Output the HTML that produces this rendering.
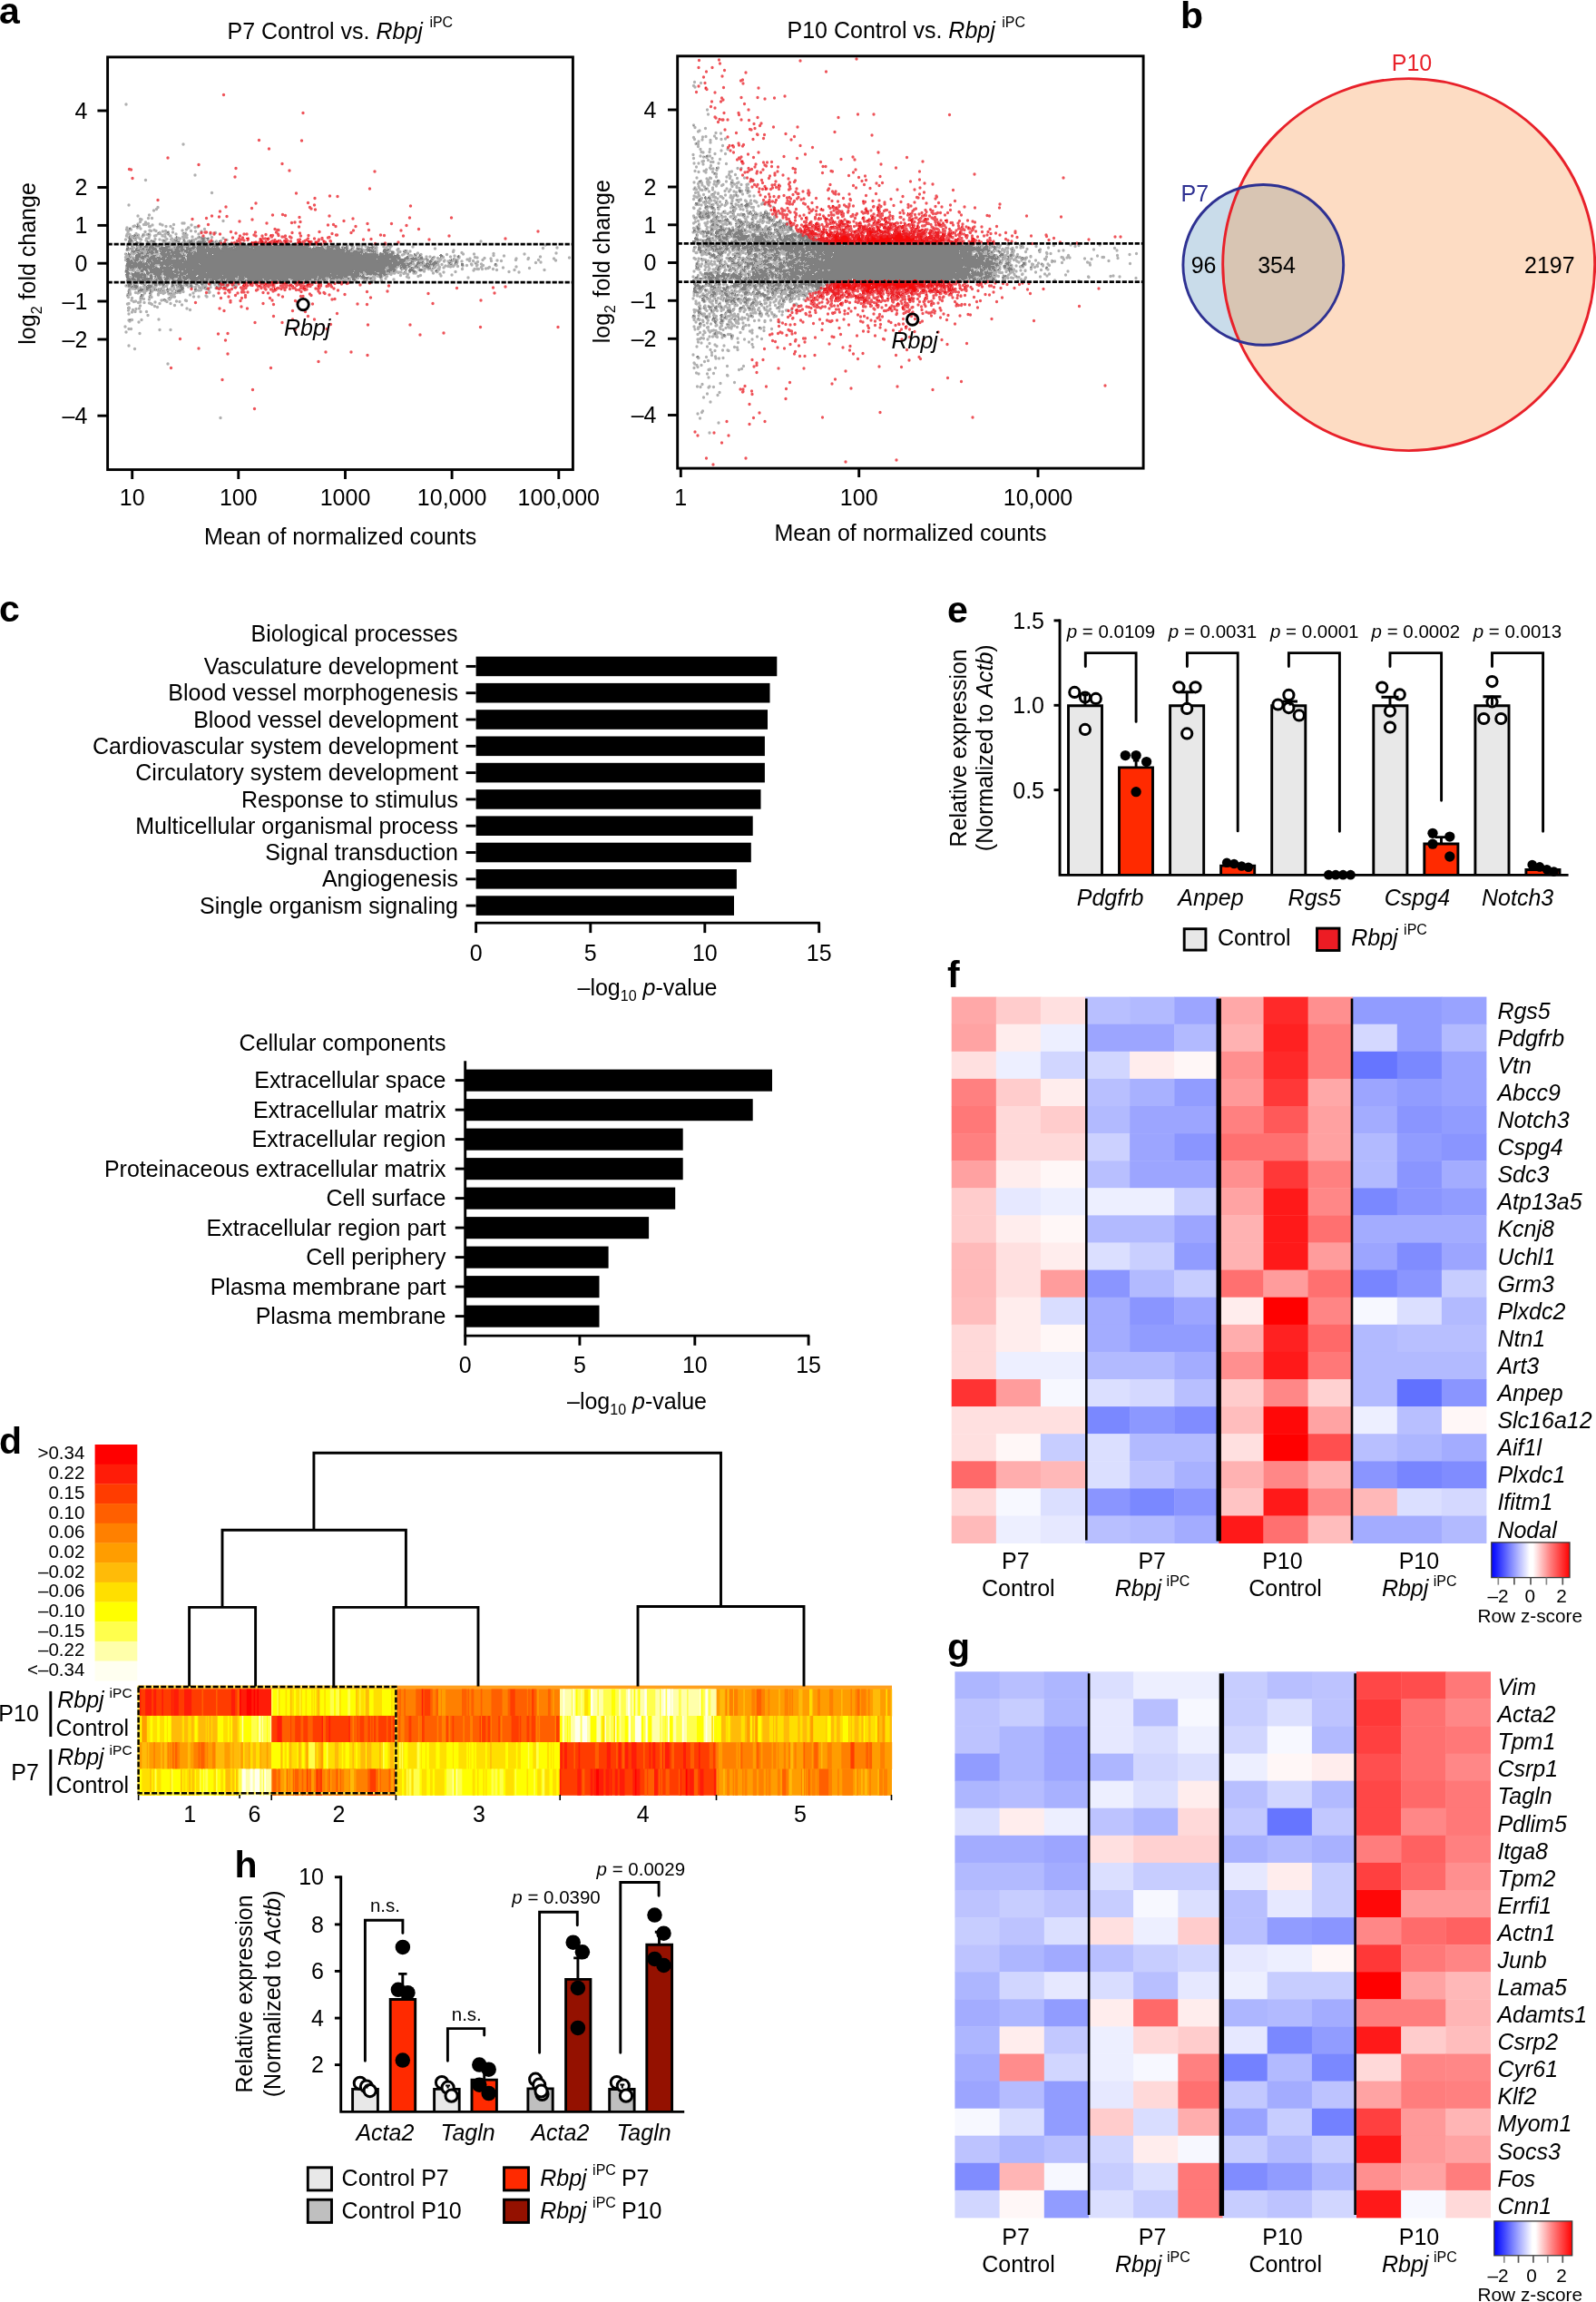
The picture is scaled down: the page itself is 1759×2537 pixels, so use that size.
<!DOCTYPE html>
<html><head><meta charset="utf-8"><title>figure</title>
<style>html,body{margin:0;padding:0;background:#fff}svg{display:block;will-change:transform}text{font-family:"Liberation Sans",sans-serif}</style></head>
<body><svg width="1759" height="2537" viewBox="0 0 1759 2537" fill="none">
<rect width="1759" height="2537" fill="#fff"/>
<g fill="#000">
<text x="-1" y="26" font-size="41" font-weight="bold" >a</text>
<path d="M151 247.5h1M151 248.5h1M150 249.5h3M151 250.5h1M142 251.5h2M142 252.5h2M184 255.5h2M174 256.5h1M184 256.5h2M202 256.5h1M163 257.5h1M186 257.5h1M204 257.5h1M148 258.5h1M157 258.5h1M163 258.5h2M185 258.5h1M146 259.5h1M148 259.5h2M151 259.5h1M157 259.5h1M142 260.5h1M147 260.5h2M194 260.5h1M219 260.5h1M142 261.5h1M194 261.5h1M219 261.5h1M221 261.5h1M142 262.5h2M147 262.5h1M149 262.5h1M194 262.5h1M222 262.5h4M227 262.5h3M142 263.5h3M222 263.5h3M228 263.5h2M142 264.5h4M180 264.5h1M192 264.5h1M194 264.5h2M202 264.5h2M208 264.5h1M211 264.5h1M223 264.5h3M141 265.5h5M162 265.5h1M166 265.5h4M180 265.5h2M193 265.5h2M202 265.5h1M209 265.5h3M218 265.5h1M220 265.5h1M222 265.5h3M233 265.5h1M241 265.5h2M141 266.5h4M150 266.5h2M162 266.5h2M168 266.5h3M195 266.5h3M203 266.5h1M208 266.5h4M217 266.5h10M233 266.5h2M237 266.5h1M141 267.5h3M149 267.5h4M162 267.5h2M208 267.5h3M212 267.5h1M217 267.5h9M227 267.5h1M240 267.5h2M244 267.5h1M266 267.5h3M314 267.5h2M342 267.5h1M141 268.5h2M144 268.5h1M149 268.5h4M155 268.5h1M172 268.5h2M188 268.5h3M195 268.5h1M199 268.5h2M202 268.5h5M208 268.5h3M213 268.5h2M218 268.5h10M237 268.5h4M244 268.5h2M264 268.5h6M274 268.5h4M294 268.5h1M296 268.5h1M310 268.5h2M314 268.5h3M332 268.5h1M342 268.5h3M348 268.5h1M140 269.5h1M142 269.5h2M150 269.5h2M153 269.5h4M162 269.5h2M170 269.5h5M188 269.5h3M192 269.5h1M200 269.5h5M206 269.5h4M213 269.5h2M218 269.5h3M223 269.5h4M230 269.5h2M236 269.5h5M243 269.5h4M249 269.5h3M256 269.5h3M261 269.5h1M264 269.5h7M272 269.5h6M281 269.5h2M289 269.5h2M292 269.5h6M302 269.5h4M309 269.5h13M325 269.5h3M330 269.5h4M338 269.5h3M342 269.5h3M348 269.5h1M351 269.5h4M371 269.5h1M386 269.5h2M411 269.5h1M150 270.5h7M160 270.5h2M166 270.5h4M171 270.5h4M188 270.5h1M190 270.5h1M196 270.5h1M199 270.5h5M205 270.5h4M212 270.5h3M218 270.5h4M223 270.5h7M231 270.5h1M236 270.5h5M243 270.5h4M248 270.5h3M257 270.5h1M259 270.5h20M280 270.5h4M287 270.5h13M302 270.5h32M337 270.5h4M353 270.5h2M361 270.5h1M369 270.5h5M386 270.5h3M409 270.5h2M140 271.5h1M145 271.5h1M150 271.5h1M154 271.5h2M159 271.5h4M165 271.5h4M171 271.5h5M178 271.5h1M182 271.5h5M195 271.5h7M207 271.5h1M212 271.5h3M217 271.5h13M231 271.5h1M234 271.5h7M245 271.5h7M257 271.5h84M354 271.5h2M360 271.5h14M381 271.5h2M387 271.5h2M410 271.5h1M141 272.5h1M154 272.5h2M159 272.5h4M164 272.5h6M177 272.5h10M192 272.5h1M194 272.5h8M205 272.5h3M211 272.5h5M217 272.5h9M227 272.5h4M233 272.5h2M236 272.5h1M238 272.5h3M245 272.5h6M252 272.5h1M254 272.5h5M260 272.5h15M276 272.5h64M345 272.5h1M348 272.5h8M360 272.5h4M365 272.5h9M376 272.5h2M379 272.5h4M393 272.5h1M405 272.5h7M139 273.5h3M143 273.5h1M145 273.5h1M150 273.5h2M157 273.5h2M164 273.5h8M175 273.5h10M194 273.5h4M199 273.5h3M205 273.5h10M216 273.5h10M227 273.5h15M244 273.5h13M258 273.5h21M280 273.5h63M344 273.5h13M360 273.5h8M369 273.5h6M377 273.5h1M379 273.5h5M387 273.5h2M393 273.5h4M405 273.5h1M407 273.5h1M409 273.5h2M413 273.5h1M139 274.5h3M149 274.5h2M154 274.5h1M156 274.5h3M161 274.5h5M167 274.5h6M175 274.5h13M189 274.5h1M192 274.5h5M198 274.5h5M205 274.5h9M217 274.5h26M244 274.5h114M360 274.5h7M370 274.5h10M381 274.5h2M387 274.5h1M393 274.5h3M397 274.5h2M404 274.5h4M410 274.5h1M423 274.5h2M427 274.5h2M139 275.5h2M145 275.5h1M149 275.5h5M156 275.5h1M158 275.5h1M161 275.5h1M163 275.5h4M168 275.5h5M176 275.5h14M193 275.5h5M199 275.5h12M217 275.5h163M381 275.5h3M385 275.5h3M394 275.5h3M398 275.5h2M403 275.5h1M405 275.5h5M411 275.5h1M422 275.5h7M446 275.5h1M145 276.5h1M147 276.5h7M162 276.5h3M166 276.5h3M171 276.5h3M176 276.5h1M178 276.5h13M192 276.5h10M203 276.5h4M208 276.5h4M217 276.5h164M382 276.5h4M390 276.5h4M397 276.5h3M404 276.5h8M413 276.5h1M422 276.5h6M446 276.5h2M145 277.5h4M154 277.5h1M156 277.5h1M162 277.5h1M164 277.5h5M171 277.5h3M176 277.5h7M184 277.5h3M188 277.5h11M200 277.5h1M203 277.5h7M213 277.5h3M217 277.5h163M381 277.5h5M389 277.5h11M407 277.5h1M409 277.5h5M422 277.5h4M431 277.5h3M444 277.5h2M141 278.5h1M147 278.5h1M151 278.5h2M155 278.5h3M162 278.5h8M171 278.5h3M177 278.5h5M184 278.5h14M205 278.5h8M214 278.5h14M229 278.5h171M402 278.5h2M411 278.5h1M413 278.5h1M419 278.5h1M423 278.5h5M431 278.5h3M446 278.5h1M139 279.5h1M141 279.5h2M152 279.5h6M161 279.5h3M166 279.5h3M176 279.5h12M189 279.5h10M202 279.5h1M207 279.5h5M213 279.5h15M229 279.5h168M398 279.5h1M400 279.5h15M418 279.5h5M424 279.5h4M429 279.5h5M450 279.5h1M456 279.5h1M141 280.5h3M150 280.5h5M161 280.5h1M167 280.5h1M177 280.5h11M189 280.5h3M193 280.5h7M202 280.5h1M206 280.5h6M213 280.5h21M235 280.5h164M400 280.5h17M418 280.5h5M424 280.5h9M437 280.5h2M456 280.5h2M462 280.5h1M485 280.5h2M142 281.5h1M149 281.5h6M159 281.5h5M168 281.5h4M178 281.5h26M206 281.5h211M418 281.5h15M434 281.5h6M457 281.5h2M462 281.5h2M484 281.5h4M505 281.5h1M142 282.5h1M149 282.5h6M156 282.5h8M166 282.5h5M179 282.5h5M185 282.5h17M205 282.5h235M448 282.5h2M462 282.5h1M485 282.5h3M504 282.5h2M143 283.5h1M149 283.5h12M163 283.5h1M165 283.5h6M173 283.5h4M178 283.5h12M191 283.5h13M206 283.5h235M447 283.5h3M455 283.5h1M461 283.5h1M463 283.5h3M476 283.5h2M485 283.5h1M504 283.5h2M140 284.5h2M146 284.5h1M149 284.5h4M155 284.5h4M164 284.5h18M184 284.5h7M194 284.5h3M200 284.5h4M206 284.5h235M446 284.5h5M452 284.5h7M463 284.5h3M139 285.5h4M147 285.5h1M149 285.5h4M156 285.5h3M162 285.5h11M174 285.5h8M183 285.5h6M194 285.5h3M199 285.5h6M206 285.5h209M416 285.5h13M431 285.5h6M438 285.5h12M453 285.5h7M462 285.5h4M469 285.5h2M475 285.5h2M497 285.5h1M499 285.5h1M139 286.5h4M144 286.5h2M147 286.5h6M162 286.5h5M168 286.5h35M204 286.5h1M206 286.5h232M440 286.5h7M454 286.5h3M458 286.5h1M460 286.5h2M471 286.5h1M474 286.5h1M495 286.5h1M497 286.5h1M502 286.5h1M140 287.5h6M148 287.5h4M154 287.5h1M157 287.5h1M161 287.5h6M168 287.5h9M179 287.5h259M440 287.5h7M453 287.5h1M470 287.5h1M473 287.5h3M496 287.5h2M502 287.5h2M139 288.5h8M148 288.5h2M153 288.5h4M161 288.5h7M169 288.5h277M453 288.5h3M460 288.5h2M465 288.5h2M473 288.5h3M478 288.5h3M482 288.5h1M501 288.5h3M140 289.5h11M152 289.5h5M158 289.5h1M160 289.5h2M163 289.5h2M166 289.5h35M202 289.5h230M433 289.5h12M451 289.5h3M459 289.5h7M470 289.5h1M473 289.5h2M477 289.5h5M494 289.5h3M501 289.5h3M139 290.5h24M164 290.5h1M166 290.5h53M220 290.5h212M433 290.5h14M448 290.5h6M459 290.5h4M465 290.5h1M469 290.5h4M474 290.5h1M476 290.5h6M495 290.5h1M501 290.5h1M508 290.5h3M524 290.5h1M545 290.5h2M139 291.5h6M146 291.5h17M165 291.5h6M176 291.5h13M190 291.5h30M221 291.5h220M442 291.5h5M449 291.5h3M459 291.5h2M469 291.5h2M472 291.5h8M496 291.5h2M508 291.5h3M545 291.5h2M139 292.5h21M161 292.5h3M165 292.5h5M176 292.5h4M182 292.5h5M188 292.5h252M441 292.5h10M458 292.5h2M467 292.5h5M473 292.5h1M477 292.5h2M508 292.5h3M545 292.5h1M139 293.5h32M177 293.5h3M183 293.5h3M187 293.5h2M190 293.5h237M428 293.5h9M441 293.5h1M443 293.5h5M450 293.5h2M457 293.5h3M467 293.5h7M477 293.5h1M140 294.5h11M152 294.5h18M171 294.5h2M176 294.5h249M428 294.5h9M441 294.5h7M450 294.5h1M453 294.5h2M457 294.5h1M459 294.5h2M469 294.5h4M139 295.5h3M143 295.5h5M152 295.5h4M157 295.5h11M169 295.5h6M176 295.5h15M192 295.5h233M429 295.5h6M441 295.5h2M444 295.5h4M453 295.5h1M455 295.5h1M471 295.5h4M476 295.5h1M140 296.5h2M144 296.5h1M146 296.5h1M153 296.5h2M157 296.5h5M164 296.5h27M193 296.5h3M197 296.5h7M205 296.5h219M428 296.5h8M441 296.5h1M445 296.5h1M451 296.5h4M462 296.5h3M138 297.5h4M145 297.5h2M155 297.5h8M165 297.5h14M180 297.5h10M192 297.5h4M197 297.5h15M213 297.5h211M426 297.5h10M442 297.5h1M446 297.5h2M450 297.5h6M462 297.5h4M480 297.5h2M138 298.5h3M155 298.5h3M160 298.5h3M165 298.5h31M198 298.5h2M202 298.5h188M391 298.5h34M426 298.5h6M433 298.5h3M450 298.5h8M462 298.5h3M479 298.5h3M138 299.5h4M149 299.5h1M155 299.5h3M161 299.5h3M165 299.5h35M202 299.5h198M402 299.5h11M414 299.5h11M426 299.5h4M433 299.5h2M445 299.5h1M451 299.5h2M455 299.5h3M480 299.5h1M139 300.5h4M148 300.5h6M161 300.5h18M180 300.5h11M192 300.5h35M228 300.5h161M390 300.5h6M397 300.5h3M403 300.5h12M418 300.5h7M429 300.5h1M456 300.5h1M139 301.5h4M145 301.5h9M155 301.5h3M159 301.5h1M161 301.5h4M169 301.5h9M180 301.5h12M194 301.5h3M198 301.5h8M207 301.5h157M365 301.5h31M399 301.5h1M404 301.5h12M418 301.5h7M138 302.5h4M145 302.5h16M162 302.5h2M166 302.5h1M169 302.5h9M180 302.5h16M198 302.5h7M207 302.5h189M400 302.5h1M404 302.5h6M411 302.5h10M422 302.5h5M139 303.5h3M145 303.5h16M165 303.5h3M171 303.5h6M181 303.5h21M205 303.5h12M219 303.5h26M246 303.5h125M372 303.5h24M397 303.5h1M399 303.5h2M413 303.5h1M417 303.5h4M423 303.5h2M139 304.5h3M146 304.5h11M158 304.5h3M165 304.5h3M170 304.5h2M173 304.5h4M183 304.5h13M197 304.5h3M201 304.5h3M205 304.5h11M218 304.5h44M263 304.5h87M351 304.5h32M387 304.5h15M418 304.5h3M139 305.5h3M146 305.5h2M149 305.5h12M165 305.5h3M171 305.5h1M173 305.5h5M181 305.5h1M183 305.5h13M197 305.5h3M201 305.5h61M263 305.5h6M270 305.5h80M351 305.5h8M360 305.5h1M362 305.5h3M366 305.5h12M379 305.5h4M387 305.5h7M398 305.5h8M418 305.5h3M139 306.5h4M145 306.5h3M151 306.5h6M158 306.5h10M170 306.5h1M174 306.5h4M182 306.5h4M187 306.5h5M196 306.5h4M201 306.5h58M263 306.5h7M272 306.5h77M351 306.5h7M363 306.5h16M383 306.5h2M388 306.5h3M392 306.5h1M399 306.5h7M408 306.5h2M419 306.5h1M140 307.5h9M151 307.5h3M156 307.5h12M172 307.5h7M181 307.5h6M189 307.5h2M196 307.5h4M202 307.5h5M209 307.5h16M227 307.5h3M231 307.5h1M233 307.5h9M243 307.5h5M250 307.5h9M263 307.5h6M273 307.5h16M291 307.5h27M321 307.5h22M346 307.5h3M350 307.5h4M355 307.5h4M364 307.5h5M371 307.5h1M375 307.5h2M383 307.5h2M388 307.5h4M401 307.5h1M403 307.5h2M407 307.5h2M139 308.5h5M145 308.5h5M151 308.5h4M156 308.5h9M166 308.5h1M171 308.5h2M175 308.5h4M181 308.5h4M190 308.5h2M195 308.5h6M203 308.5h3M210 308.5h9M220 308.5h10M231 308.5h9M243 308.5h3M247 308.5h1M249 308.5h11M262 308.5h7M270 308.5h20M291 308.5h6M299 308.5h6M306 308.5h12M323 308.5h12M336 308.5h7M346 308.5h3M350 308.5h2M355 308.5h4M364 308.5h1M388 308.5h4M140 309.5h5M151 309.5h10M162 309.5h3M166 309.5h1M170 309.5h1M172 309.5h2M176 309.5h4M182 309.5h2M190 309.5h14M210 309.5h7M221 309.5h4M227 309.5h2M233 309.5h3M237 309.5h4M242 309.5h4M249 309.5h3M253 309.5h6M262 309.5h1M264 309.5h3M270 309.5h1M272 309.5h8M281 309.5h9M293 309.5h2M299 309.5h7M307 309.5h3M311 309.5h8M322 309.5h8M336 309.5h4M350 309.5h1M356 309.5h2M390 309.5h1M141 310.5h4M150 310.5h1M152 310.5h5M174 310.5h1M176 310.5h9M191 310.5h2M194 310.5h1M196 310.5h1M198 310.5h1M200 310.5h5M206 310.5h2M209 310.5h8M221 310.5h4M226 310.5h2M233 310.5h4M238 310.5h1M242 310.5h3M250 310.5h2M256 310.5h3M273 310.5h3M286 310.5h3M299 310.5h7M312 310.5h3M316 310.5h2M323 310.5h1M327 310.5h2M337 310.5h2M142 311.5h3M151 311.5h1M154 311.5h3M159 311.5h1M174 311.5h10M190 311.5h2M193 311.5h2M196 311.5h3M202 311.5h5M210 311.5h8M221 311.5h3M227 311.5h1M234 311.5h4M243 311.5h1M274 311.5h2M300 311.5h1M143 312.5h2M148 312.5h2M170 312.5h3M174 312.5h10M189 312.5h2M196 312.5h3M202 312.5h6M209 312.5h2M214 312.5h3M221 312.5h3M235 312.5h2M241 312.5h4M246 312.5h1M141 313.5h4M147 313.5h1M158 313.5h1M170 313.5h3M175 313.5h2M178 313.5h4M189 313.5h2M196 313.5h4M204 313.5h3M210 313.5h1M215 313.5h3M221 313.5h3M240 313.5h3M246 313.5h1M139 314.5h1M141 314.5h3M147 314.5h4M159 314.5h1M162 314.5h5M170 314.5h3M179 314.5h2M189 314.5h3M194 314.5h1M197 314.5h4M205 314.5h2M209 314.5h3M222 314.5h1M241 314.5h1M256 314.5h3M141 315.5h3M145 315.5h2M148 315.5h4M161 315.5h1M163 315.5h5M179 315.5h1M189 315.5h2M196 315.5h1M198 315.5h3M209 315.5h3M238 315.5h1M144 316.5h2M147 316.5h5M161 316.5h6M198 316.5h4M210 316.5h2M225 316.5h2M149 317.5h2M161 317.5h5M184 317.5h1M199 317.5h4M220 317.5h1M225 317.5h1M154 318.5h4M161 318.5h3M170 318.5h1M172 318.5h1M177 318.5h1M184 318.5h1M199 318.5h3M214 318.5h3M227 318.5h1M141 319.5h2M153 319.5h5M161 319.5h2M165 319.5h2M170 319.5h1M172 319.5h1M174 319.5h1M183 319.5h3M196 319.5h6M214 319.5h2M152 320.5h5M165 320.5h1M176 320.5h1M179 320.5h1M193 320.5h1M195 320.5h5M141 321.5h1M152 321.5h1M165 321.5h2M184 321.5h2M195 321.5h4M141 322.5h1M165 322.5h1M193 322.5h1M141 323.5h1M164 323.5h2M186 323.5h1M188 323.5h1M155 324.5h2M140 325.5h1M155 325.5h2M165 325.5h1M154 326.5h3M164 327.5h1M186 327.5h1M154 328.5h1M156 328.5h1M181 329.5h1M180 330.5h1M182 330.5h1M140 339.5h1M142 352.5h2" stroke="#808080" stroke-width="1" shape-rendering="crispEdges"/>
<path d="M139 115h0M202 159h0M215 193h0M160.5 198.5h0M233.5 212.5h0M142 226h0M169.5 232h0M172.5 230.5h0M174 228.5h0M152 238h0M164.5 237h0M154.5 244.5h0M154.5 241.5h0M156 242h0M160.5 245h0M163.5 240.5h0M167.5 240.5h0M201 246h0M246 243.5h0M140 251h0M143.5 252h0M147 249.5h0M148.5 249h0M151.5 250.5h0M151.5 251h0M152 247h0M152.5 250h0M153.5 249.5h0M155 252h0M158.5 247.5h0M161 247.5h0M163.5 246.5h0M164.5 249.5h0M165.5 249.5h0M168 248h0M176.5 247h0M179 248h0M183 249.5h0M188 249.5h0M191.5 247.5h0M203 246h0M207.5 251h0M208 251h0M211 248h0M215 250.5h0M218 250h0M139.5 253h0M141 256h0M141.5 254.5h0M143 253h0M144.5 253h0M150 257.5h0M160 255.5h0M165 254h0M166.5 254.5h0M170 253.5h0M172 254.5h0M174.5 257.5h0M176 256.5h0M176.5 257.5h0M179.5 255h0M182 258h0M182.5 254.5h0M184.5 256.5h0M185.5 256h0M190.5 252h0M190.5 256h0M201 254h0M202 257.5h0M204.5 257h0M205.5 253h0M210.5 254.5h0M215.5 255h0M219 258h0M222 255h0M225.5 252.5h0M232 258h0M237.5 256.5h0M139.5 260h0M140 258.5h0M142 262h0M143 258.5h0M143 263h0M144 263.5h0M144 260h0M146 261h0M147 262h0M148.5 259.5h0M148.5 263h0M148.5 260.5h0M150 262h0M150.5 260.5h0M152.5 259h0M153 262h0M154.5 263.5h0M155.5 264h0M157 260.5h0M158 258.5h0M159 259h0M161.5 263h0M162.5 258.5h0M164 262.5h0M164.5 258h0M164.5 260.5h0M165 259h0M170.5 260h0M171 263.5h0M172 259.5h0M176 264h0M179 260h0M179 259.5h0M182 261h0M184 263.5h0M185.5 258h0M187.5 260h0M188 260h0M188.5 264h0M189.5 263h0M194 262.5h0M194 258h0M195 262h0M196.5 262.5h0M198.5 263h0M201.5 261h0M202.5 263.5h0M203.5 258.5h0M204 261.5h0M206 259h0M206 262h0M212 261h0M216 263.5h0M218.5 262h0M219 262h0M221 262h0M222.5 263.5h0M223.5 262h0M225.5 262.5h0M229 263.5h0M229.5 263h0M233.5 261.5h0M246 262.5h0M138.5 264h0M142 269.5h0M142.5 266h0M142.5 268h0M143 266.5h0M143.5 269h0M144 269h0M144 264.5h0M144.5 265.5h0M145.5 266.5h0M146 266h0M147.5 269.5h0M149.5 264.5h0M151 270h0M151.5 268h0M152 268h0M154.5 267.5h0M156.5 269h0M161 265h0M162.5 267.5h0M163 267.5h0M164 267h0M164.5 269.5h0M166.5 266h0M167 270h0M167 265.5h0M168 267h0M170 267.5h0M170 267.5h0M170 266h0M172 270h0M173.5 269.5h0M174 270h0M179.5 265h0M180.5 266.5h0M181.5 269.5h0M182 265h0M182 266.5h0M185 268h0M187 267.5h0M188.5 270h0M190.5 266.5h0M192 264.5h0M192.5 267h0M193 269.5h0M194 266.5h0M194.5 265h0M197 266h0M197 268.5h0M197 268.5h0M197 266.5h0M201 268h0M203 266.5h0M203 265h0M204 266.5h0M204 269.5h0M205.5 268.5h0M206.5 270h0M207.5 266h0M208.5 270h0M208.5 267h0M211 265h0M211 267.5h0M211.5 266h0M212 268h0M213.5 264.5h0M213.5 266h0M213.5 270h0M214.5 269h0M217 267.5h0M218 267h0M219 268h0M219.5 269.5h0M220 266h0M220 266h0M222 267h0M222 269.5h0M223.5 265h0M225 264.5h0M225 267.5h0M225 264.5h0M226 266.5h0M226.5 269h0M226.5 269h0M229 268.5h0M229 264.5h0M233 268h0M233.5 266.5h0M235 266.5h0M236.5 268h0M238 269h0M238.5 266h0M240 270h0M240.5 269.5h0M241.5 269.5h0M242 267h0M243 267h0M243.5 265.5h0M245 270h0M246 269.5h0M250 264.5h0M250.5 269h0M251 269h0M256 269h0M258 269.5h0M265.5 269h0M266 269.5h0M268.5 269h0M270 270h0M274 270h0M274.5 270h0M276.5 269.5h0M316 269.5h0M316 269.5h0M334.5 269.5h0M342.5 269.5h0M344 269.5h0M344.5 269.5h0M348.5 269.5h0M350.5 270h0M352.5 269.5h0M380.5 269.5h0M398.5 269.5h0M410.5 270h0M530 266h0M140 275.5h0M140.5 271h0M140.5 275h0M141 270.5h0M141 273.5h0M141 275h0M141.5 275.5h0M142.5 274.5h0M145.5 273.5h0M145.5 275.5h0M145.5 271h0M147.5 273h0M151 271h0M151 273.5h0M151 276h0M151.5 276h0M152 273h0M152.5 270.5h0M152.5 270h0M154.5 273h0M155.5 272h0M156 271h0M156.5 274.5h0M156.5 270.5h0M158 275.5h0M159 274.5h0M159 272.5h0M161 272h0M162 273h0M162 275h0M163 270.5h0M163.5 271h0M165 275h0M165 274.5h0M166 273.5h0M166.5 273.5h0M166.5 275.5h0M167.5 272.5h0M168.5 274.5h0M169 272.5h0M169.5 270.5h0M171 274h0M171.5 271.5h0M172 273h0M172.5 271h0M173.5 272h0M174 272h0M175 271.5h0M175.5 271.5h0M176 276h0M177 275.5h0M177.5 275h0M178 272.5h0M178.5 270h0M179.5 273h0M180 273.5h0M182 274h0M182.5 274h0M185 272.5h0M185 274.5h0M185.5 273.5h0M186 272h0M187.5 272.5h0M187.5 273.5h0M189 275h0M190 270h0M190 270h0M191 273.5h0M191.5 270.5h0M192.5 274.5h0M193.5 272h0M194 273h0M196 271h0M197.5 273h0M198 275h0M198 272.5h0M200 275.5h0M200.5 271h0M201 270.5h0M202.5 275.5h0M202.5 275.5h0M202.5 270.5h0M203 271h0M203.5 272.5h0M206 270.5h0M206.5 273h0M206.5 274.5h0M207 273h0M208.5 274.5h0M209 271.5h0M209 271h0M211 274h0M211.5 275.5h0M212 273.5h0M213 272h0M213.5 271.5h0M214.5 275.5h0M215 270.5h0M215 271.5h0M216 275h0M217.5 274h0M217.5 273h0M219.5 271.5h0M220.5 271h0M222.5 273h0M224 271h0M225.5 273.5h0M226.5 275h0M227 271h0M228 271h0M228 275.5h0M228.5 273h0M231.5 271h0M232 271h0M233 273.5h0M233 270.5h0M234.5 273.5h0M236 274h0M236 274h0M236.5 271.5h0M238 273h0M239.5 274h0M241 274h0M243 272.5h0M243.5 276h0M245 270h0M245.5 270.5h0M246 275.5h0M246 274h0M246.5 271h0M248.5 272.5h0M248.5 272.5h0M251 271.5h0M251.5 271h0M251.5 274.5h0M252.5 273.5h0M254 274.5h0M254.5 271.5h0M257 273h0M257 274.5h0M258 271.5h0M258.5 274.5h0M259.5 271h0M260 275h0M260 273h0M261.5 271.5h0M262.5 271.5h0M263 271.5h0M272 271.5h0M273 272h0M276.5 273.5h0M277.5 271h0M279 270h0M280 273h0M280.5 275.5h0M280.5 272h0M281 271.5h0M282 271h0M283 271.5h0M283.5 272h0M284.5 272.5h0M286 271.5h0M287.5 272.5h0M289 270h0M290 271.5h0M291 271.5h0M292 271.5h0M294 271h0M294.5 271h0M296 271h0M296.5 270h0M297.5 270.5h0M298.5 271h0M300.5 272.5h0M301.5 272.5h0M303 271.5h0M304.5 271h0M304.5 270.5h0M307.5 271.5h0M308 271.5h0M309.5 272h0M311 270.5h0M312.5 270h0M313 271h0M317.5 270.5h0M318 270.5h0M320 271h0M321 271h0M321.5 271h0M323.5 271h0M324.5 271.5h0M328 271.5h0M330 271.5h0M331.5 271h0M333 271h0M334.5 272h0M335 271.5h0M337.5 271.5h0M338.5 271h0M340.5 270h0M341.5 274.5h0M341.5 273h0M344 275h0M345.5 275h0M346 270.5h0M347 275h0M347.5 273.5h0M348.5 271h0M348.5 274h0M350 272.5h0M354 270h0M354.5 270.5h0M355.5 273.5h0M355.5 271.5h0M355.5 273.5h0M357 275.5h0M358 271h0M359 273.5h0M361.5 273h0M362.5 272h0M362.5 272.5h0M364.5 272.5h0M365 274h0M366.5 271.5h0M367 274h0M368.5 274.5h0M368.5 272h0M369.5 271.5h0M370 274.5h0M371 271h0M371 274.5h0M373 272h0M373 271h0M373.5 273.5h0M373.5 272.5h0M377 275h0M377.5 274.5h0M378 272h0M379 273.5h0M381 274h0M381.5 274.5h0M382.5 272.5h0M382.5 274h0M383 273.5h0M383 271.5h0M383 276h0M387 275h0M387.5 271h0M388 270h0M388.5 271h0M388.5 274h0M389 275.5h0M389.5 272.5h0M393.5 274.5h0M393.5 270.5h0M394 274.5h0M395 275.5h0M395.5 274.5h0M395.5 271h0M396 275.5h0M398.5 274h0M399 271h0M400.5 275.5h0M403 271.5h0M404 275h0M405.5 272.5h0M407 275h0M407 274.5h0M409.5 274.5h0M409.5 273h0M410.5 273.5h0M411 271h0M411.5 274h0M412 272h0M413 274.5h0M415 270h0M415 276h0M415 273h0M423 272h0M423.5 276h0M426 273h0M427.5 270.5h0M428 275.5h0M429.5 275.5h0M430 272.5h0M431.5 271h0M438 275.5h0M439 274.5h0M455 272h0M479.5 274h0M598.5 273.5h0M601 270h0M614 273h0M138.5 280h0M139.5 282h0M141.5 281h0M142 282h0M142.5 280.5h0M143.5 280.5h0M145 278.5h0M147 277.5h0M147 276.5h0M147 280h0M148.5 279h0M149 279h0M150.5 276h0M150.5 277.5h0M152.5 280.5h0M152.5 278h0M153 280.5h0M153.5 276h0M154 278h0M155.5 276.5h0M156 279.5h0M156 279h0M157 280.5h0M157 281h0M157.5 279.5h0M158.5 276.5h0M159 279.5h0M160 277h0M161.5 281h0M162 279.5h0M162.5 276.5h0M163 277h0M163 281.5h0M164.5 278.5h0M164.5 279h0M165.5 280h0M165.5 277.5h0M167 278h0M167.5 280h0M168 277.5h0M168.5 279.5h0M169 279h0M170.5 277h0M171.5 279h0M172.5 277h0M172.5 276.5h0M173 281h0M173.5 278.5h0M173.5 276.5h0M174 279.5h0M177.5 281.5h0M178 278h0M178 277h0M178.5 279.5h0M182 278.5h0M182.5 280h0M183.5 277.5h0M185 277.5h0M185 280h0M188.5 279h0M189 278.5h0M189.5 280h0M191 277h0M191.5 276.5h0M192 281.5h0M194.5 276.5h0M194.5 276.5h0M198.5 279.5h0M199 282h0M200 279h0M200 276.5h0M202 278.5h0M202 281.5h0M202.5 278h0M203.5 281.5h0M204 281.5h0M205.5 278h0M205.5 277h0M206 278.5h0M207 277.5h0M208 281.5h0M208 280.5h0M209.5 277h0M210.5 277.5h0M211.5 278.5h0M212 280h0M212.5 282h0M213 276.5h0M214.5 279h0M215 279h0M215.5 278.5h0M217 279h0M228 281.5h0M229 280.5h0M230 278h0M358.5 276.5h0M379.5 279h0M380 279h0M382.5 277h0M382.5 277.5h0M384 276.5h0M384.5 278h0M386.5 280h0M387.5 277.5h0M387.5 276.5h0M388.5 280h0M391.5 277h0M392 277h0M394.5 278.5h0M394.5 277h0M397.5 276h0M397.5 278.5h0M398.5 280.5h0M399 279.5h0M399 276h0M399.5 278h0M400.5 281h0M401.5 276.5h0M403 279.5h0M404 278.5h0M405.5 276h0M405.5 276.5h0M407 280.5h0M408 277h0M408 280.5h0M409.5 277.5h0M409.5 281h0M410 277.5h0M411 279.5h0M411 277h0M411.5 278h0M412.5 281h0M413 279.5h0M413.5 277h0M415 278h0M415.5 281.5h0M415.5 279.5h0M419 281h0M419.5 279.5h0M420.5 281h0M422 281h0M423 278h0M423.5 281.5h0M424 276h0M424.5 279.5h0M425.5 276h0M426.5 278.5h0M427 278h0M427 276.5h0M429 280h0M429 276.5h0M430.5 281h0M432 277.5h0M432.5 279.5h0M433 280h0M433.5 278h0M433.5 280h0M434 279h0M438.5 280h0M439 278h0M441 277.5h0M443.5 281h0M445.5 280h0M445.5 277h0M446.5 278h0M448 278h0M448 276.5h0M449.5 279.5h0M452 277h0M452.5 281.5h0M458.5 280.5h0M458.5 281h0M460.5 279h0M463.5 281h0M464 280.5h0M492.5 280.5h0M499.5 277.5h0M500 276h0M509 278.5h0M510.5 280h0M522.5 280h0M544 279.5h0M544 281.5h0M578 280h0M613 279h0M138.5 286.5h0M138.5 283.5h0M141 285.5h0M141.5 286.5h0M142 286h0M142.5 285h0M144.5 283.5h0M144.5 283h0M144.5 288h0M146.5 286.5h0M146.5 287.5h0M147 284h0M148.5 285h0M149.5 286.5h0M150.5 283h0M152 288h0M154.5 282.5h0M154.5 283.5h0M154.5 285.5h0M155.5 284.5h0M158 287.5h0M158 286.5h0M158.5 285.5h0M159.5 283.5h0M160 283.5h0M161 284h0M162 287h0M162.5 283.5h0M163 282h0M164 283.5h0M164.5 286h0M164.5 287h0M165.5 284h0M167 287h0M167.5 282.5h0M169.5 287.5h0M170.5 282.5h0M170.5 283h0M171 285h0M171.5 283h0M174.5 286h0M174.5 287.5h0M174.5 284.5h0M175 284h0M176.5 282h0M177 285.5h0M180 283.5h0M180 282h0M182 287h0M182 286.5h0M183 283.5h0M184 283h0M186 286h0M186 284.5h0M189.5 286h0M189.5 287h0M191 284h0M192.5 286.5h0M192.5 288h0M192.5 284.5h0M193 282h0M195.5 286.5h0M196.5 286.5h0M197.5 284.5h0M200 284.5h0M201 285.5h0M202.5 283.5h0M203 284.5h0M204 286h0M204 287h0M206 287.5h0M206.5 287h0M207 283.5h0M207 284h0M207.5 283h0M234.5 283h0M401.5 282.5h0M416.5 282h0M417 287.5h0M417 285.5h0M417.5 284h0M424 282.5h0M430.5 286.5h0M431 285.5h0M433.5 284h0M434.5 283h0M436.5 282.5h0M436.5 285.5h0M437 283h0M437.5 287h0M439 282.5h0M440 282.5h0M440.5 284.5h0M440.5 287h0M441 286h0M441.5 286h0M443.5 286.5h0M446.5 285h0M447.5 286.5h0M448 287h0M449 284.5h0M449.5 284h0M450 285h0M450 287h0M451 282h0M452 286h0M454 282h0M454 287h0M454.5 285.5h0M455 285.5h0M457.5 282h0M457.5 287h0M458.5 283.5h0M458.5 286.5h0M460 286.5h0M460.5 284.5h0M462 286h0M462.5 282.5h0M463 287.5h0M463.5 285h0M464.5 283.5h0M465 285h0M466 287h0M467 286h0M470 285h0M470 283h0M471 287.5h0M471.5 286.5h0M474 283h0M476 287.5h0M476.5 285.5h0M477 285.5h0M478.5 283.5h0M482.5 284.5h0M483 288h0M485 285.5h0M486 286h0M486.5 282.5h0M486.5 282.5h0M487 282.5h0M488.5 283.5h0M489.5 288h0M490 287h0M494 288h0M496.5 283h0M497.5 288h0M497.5 287h0M499 287.5h0M500.5 285.5h0M501 282h0M502 286.5h0M504 286.5h0M505 283h0M506 283h0M506 284h0M509 288h0M515 286h0M517.5 287.5h0M518 285h0M521.5 287.5h0M523.5 283.5h0M526 284h0M532 286.5h0M534 284.5h0M541 285h0M541.5 287.5h0M548 287h0M552.5 287.5h0M555.5 282h0M568.5 286.5h0M569 285h0M582 285.5h0M582.5 284.5h0M593.5 286.5h0M595.5 283h0M610.5 285h0M612.5 287h0M627.5 284h0M139.5 293h0M140.5 293h0M141 291h0M141 289h0M141.5 289h0M143.5 288h0M145.5 291.5h0M145.5 292.5h0M146 289.5h0M147.5 291h0M149 288.5h0M150 289h0M150 288h0M152 291.5h0M153 289.5h0M155.5 289h0M156 289.5h0M158.5 289.5h0M160 291.5h0M160 291.5h0M161.5 291.5h0M162 291h0M162.5 288h0M162.5 294h0M163 290h0M163 292.5h0M163.5 292h0M165 289.5h0M166.5 291.5h0M167.5 291.5h0M168 290.5h0M169.5 290h0M170.5 293.5h0M171.5 292.5h0M173.5 291h0M176 292h0M177.5 289.5h0M177.5 292.5h0M178.5 290h0M180 289.5h0M180.5 293.5h0M183.5 292.5h0M188 292h0M188.5 293.5h0M190 292.5h0M190.5 293h0M202.5 289.5h0M202.5 289.5h0M219 292h0M219 291.5h0M221.5 292.5h0M222 291.5h0M427 293.5h0M432 289.5h0M433 290h0M433.5 292h0M438 289h0M438.5 293.5h0M440.5 289.5h0M441 292.5h0M442 291.5h0M446 291.5h0M446 290h0M447 288.5h0M447.5 293.5h0M448.5 292h0M449 290.5h0M450 292.5h0M451 291h0M451 293h0M451.5 293.5h0M452.5 291h0M453 291.5h0M453 289.5h0M455 290.5h0M455 288.5h0M456 291h0M458 293.5h0M459.5 292h0M461 291h0M461 291.5h0M461.5 290.5h0M462 288.5h0M462.5 290.5h0M463.5 292h0M464.5 291.5h0M465.5 289.5h0M466 290.5h0M467 290h0M467 293h0M469.5 292.5h0M470 293.5h0M470.5 291.5h0M471.5 290h0M471.5 292h0M473 288.5h0M473.5 292h0M474 293.5h0M474 289.5h0M474.5 292h0M475 288h0M475 289h0M476.5 291h0M478 293h0M478.5 291h0M479.5 292h0M480 288h0M480 289.5h0M481.5 292h0M482.5 290h0M483 292h0M484 288h0M487 291.5h0M491 293h0M494 293.5h0M495 291h0M495.5 290.5h0M496 289h0M496.5 294h0M497.5 291h0M497.5 291h0M499.5 293.5h0M501 292h0M502 290.5h0M503.5 289.5h0M503.5 290.5h0M503.5 289h0M504 288.5h0M504.5 293.5h0M510 292.5h0M510 293h0M514.5 292.5h0M519.5 291h0M520 292h0M524 290h0M525.5 293h0M526 292h0M526.5 288.5h0M530.5 291h0M532.5 292.5h0M546 292h0M546.5 291.5h0M547 292.5h0M590.5 289.5h0M596 289h0M139 299h0M139 299.5h0M139.5 295.5h0M140 300h0M141 298h0M141.5 297h0M141.5 295h0M142 296.5h0M143.5 297.5h0M146 298h0M147 297.5h0M148 298.5h0M148.5 295.5h0M149 295.5h0M151.5 298.5h0M152 295h0M152 294.5h0M154.5 297h0M154.5 296.5h0M155 298.5h0M156 296h0M156.5 299.5h0M158 298h0M158.5 296.5h0M162 299.5h0M162 296.5h0M163 300h0M165 297h0M165.5 295h0M166.5 298.5h0M168 295.5h0M171.5 296.5h0M172 296h0M173 295h0M175.5 297h0M176 296.5h0M178 294h0M178.5 295h0M178.5 298.5h0M179.5 294.5h0M180 299.5h0M183.5 295.5h0M184.5 294.5h0M185.5 294.5h0M187.5 295.5h0M191 295h0M191.5 295.5h0M192.5 300h0M192.5 299.5h0M193.5 296.5h0M194 298h0M195.5 299h0M196 297h0M196 296h0M198 299h0M200 299h0M201.5 298.5h0M203.5 298.5h0M204.5 297.5h0M205.5 299h0M212.5 298h0M212.5 297.5h0M228 299.5h0M390 298.5h0M392 299.5h0M402.5 299h0M414 299.5h0M423.5 296.5h0M424 296.5h0M424.5 299.5h0M426 295.5h0M427 298.5h0M429 295.5h0M429 296.5h0M431 299.5h0M432 298.5h0M434.5 299h0M435 297.5h0M436.5 295.5h0M437 299h0M437 295h0M440 300h0M442 295.5h0M442 300h0M442 294.5h0M443 296.5h0M443 294.5h0M443.5 296.5h0M447 300h0M447.5 297h0M447.5 294h0M447.5 297h0M449 294.5h0M451.5 299.5h0M452 298.5h0M452 298.5h0M452.5 295.5h0M452.5 295.5h0M455 297h0M455 295.5h0M455.5 298.5h0M456.5 295h0M457 299.5h0M458.5 300h0M459.5 294.5h0M459.5 295h0M460.5 294h0M461.5 295h0M462 297.5h0M463.5 298h0M465.5 297.5h0M466.5 294h0M467.5 299h0M468.5 296h0M470 294.5h0M472 296h0M472.5 296.5h0M473.5 295.5h0M474 296h0M476 298h0M476 298h0M478 295.5h0M479.5 294.5h0M481 299h0M481.5 299.5h0M482 299.5h0M483 296h0M484 297h0M484.5 294.5h0M489 300h0M489 295h0M502 299.5h0M509.5 296.5h0M522 298h0M523 296.5h0M526 296.5h0M527.5 296.5h0M530.5 294.5h0M531.5 296.5h0M535.5 296h0M538 295.5h0M539.5 294.5h0M543.5 296.5h0M547.5 297.5h0M554.5 295h0M561 299.5h0M567 297.5h0M569 294h0M583.5 295.5h0M600 297.5h0M139.5 303.5h0M140 304.5h0M140.5 305.5h0M140.5 300h0M141 301h0M142 301.5h0M142.5 302h0M143 305.5h0M145 301.5h0M146 305h0M146.5 303.5h0M148 302.5h0M149.5 305h0M149.5 301.5h0M150 301.5h0M150.5 302h0M153 301.5h0M153.5 301h0M156.5 302h0M157.5 305.5h0M158.5 301.5h0M158.5 305h0M160 303.5h0M161.5 303h0M161.5 305h0M163 300h0M164.5 302.5h0M164.5 303h0M165.5 301h0M166.5 300.5h0M167 302h0M167 305.5h0M167 304.5h0M167.5 305h0M169.5 301h0M170 301.5h0M171 304.5h0M172 304h0M173 305.5h0M177.5 305h0M177.5 303.5h0M178 302h0M179 302h0M181 306h0M181.5 301h0M181.5 302.5h0M182 303h0M192 302h0M194.5 305.5h0M194.5 301h0M195 303h0M196.5 301.5h0M197 303.5h0M197.5 306h0M199.5 300.5h0M199.5 304.5h0M200 301h0M200.5 304h0M200.5 305.5h0M202.5 303h0M203 301.5h0M203.5 301.5h0M205 302.5h0M205 305h0M206.5 305.5h0M206.5 301h0M207 304.5h0M208.5 303.5h0M219 304.5h0M219.5 306h0M228.5 302.5h0M246 303.5h0M246.5 303h0M261 305.5h0M264 304.5h0M270 305.5h0M272.5 305.5h0M349.5 306h0M352 305.5h0M352 304.5h0M360 304.5h0M361.5 305h0M362 305.5h0M364.5 306h0M365 302h0M365 302h0M371 304.5h0M373.5 304h0M379 305.5h0M380.5 305.5h0M381.5 306h0M383 304.5h0M383 305h0M387 305h0M388.5 305.5h0M390 301.5h0M390 302h0M395.5 302.5h0M396 301h0M396.5 304h0M397 304.5h0M398 300h0M399 301.5h0M400.5 303h0M401 305h0M401 301.5h0M401 300h0M404 302.5h0M404.5 300.5h0M405.5 302h0M406.5 306h0M408.5 302.5h0M411 305.5h0M411 302h0M412.5 303.5h0M413.5 301h0M413.5 303h0M414.5 303h0M415.5 301.5h0M416 304h0M417 304.5h0M418 300.5h0M419 303.5h0M419.5 300.5h0M419.5 302.5h0M420.5 305.5h0M421 304h0M422.5 303.5h0M424 303h0M424.5 303h0M425.5 300h0M426 302h0M426 304.5h0M426.5 304.5h0M428.5 301.5h0M429 300.5h0M431 300.5h0M431 302.5h0M434 301h0M435 301h0M439 300.5h0M441.5 303.5h0M445 301.5h0M447 301h0M448.5 305h0M449.5 302.5h0M456 301h0M456 301h0M458 301h0M461 304.5h0M463.5 303.5h0M477.5 301h0M485 302h0M486 304h0M498 303h0M572 300h0M140.5 309h0M141 310h0M141.5 308h0M141.5 311.5h0M141.5 306.5h0M144.5 308.5h0M145 307.5h0M145 312h0M145.5 309.5h0M147 306h0M147.5 307.5h0M148.5 309h0M148.5 306h0M149 309h0M151 306.5h0M151 308.5h0M152 312h0M153 311h0M154 307.5h0M154.5 310.5h0M155 311.5h0M156.5 309h0M158 307.5h0M158 309h0M159.5 310.5h0M160.5 310.5h0M162 307h0M162.5 309h0M164 310.5h0M165 308h0M165.5 310h0M166 306.5h0M167.5 311h0M167.5 307.5h0M168 309h0M170.5 309h0M171 312h0M171.5 306.5h0M171.5 306.5h0M172 309h0M173.5 310h0M173.5 312h0M174 309h0M175.5 308h0M177.5 310.5h0M177.5 306.5h0M178 308.5h0M178.5 309.5h0M179 309.5h0M180 311.5h0M182.5 306h0M183 309h0M183 310h0M183.5 307.5h0M184.5 311h0M185 308.5h0M186 309h0M187.5 307h0M188 307h0M189 307h0M190.5 308.5h0M191 311.5h0M191.5 311h0M191.5 308.5h0M193.5 306h0M193.5 312h0M194 311.5h0M194 309.5h0M195.5 310h0M196 311h0M196.5 308h0M197 310h0M199.5 310.5h0M199.5 307.5h0M200 310h0M201.5 310.5h0M202 308h0M202.5 311.5h0M203 306.5h0M203 306h0M203.5 311h0M203.5 312h0M207.5 310h0M208.5 310.5h0M208.5 307.5h0M211 312h0M211 308.5h0M211.5 310h0M216.5 310.5h0M216.5 306.5h0M216.5 311.5h0M219 308.5h0M219.5 309h0M221.5 310.5h0M222 309h0M225 309.5h0M227.5 308.5h0M227.5 309h0M228 310.5h0M229.5 312h0M231 309.5h0M231.5 308.5h0M233 310.5h0M233 308.5h0M235 311.5h0M238 311h0M239 310h0M239.5 310h0M240 310h0M241 308.5h0M242.5 307.5h0M244 311h0M245 310h0M245 310h0M246.5 308.5h0M247 309h0M249 306.5h0M249.5 310.5h0M251 307.5h0M251 310h0M252 310.5h0M253.5 311h0M256 311h0M259 309.5h0M259 310h0M259.5 308h0M261 306.5h0M262 309.5h0M262.5 310.5h0M263.5 307.5h0M264 306.5h0M264 310.5h0M266 309.5h0M266.5 311h0M267.5 309h0M269 308h0M269.5 306h0M270 309.5h0M272 310.5h0M272.5 310h0M273.5 307h0M274 309.5h0M275 311.5h0M276 311h0M276 311h0M279.5 311h0M281 308.5h0M282 309.5h0M283.5 310.5h0M285 310h0M286.5 310h0M288 310.5h0M290 307h0M290.5 310.5h0M290.5 309h0M293 310h0M293.5 309h0M295 311h0M296.5 310h0M298 308h0M300 309.5h0M300.5 311h0M301.5 311h0M305 311h0M305.5 311h0M306 308h0M308 309.5h0M309 310h0M310 309h0M310 311h0M313 310h0M313.5 310.5h0M316 310.5h0M317.5 310.5h0M318 309.5h0M318 311h0M318.5 311h0M320.5 307.5h0M321 307.5h0M323 309h0M324 310h0M324 311h0M325 311h0M328 311h0M328.5 310.5h0M329 310.5h0M330.5 309h0M331.5 310h0M334.5 308.5h0M335.5 309.5h0M338 310h0M338.5 310.5h0M339 310.5h0M340.5 310h0M341.5 309h0M342.5 308.5h0M344 307h0M345 310.5h0M346 307h0M347.5 310h0M350 309.5h0M350.5 309h0M352 310h0M352.5 307.5h0M353 306.5h0M353.5 309.5h0M355 307.5h0M355.5 307.5h0M357 310.5h0M358 306.5h0M358.5 309.5h0M359.5 310h0M360.5 307.5h0M364.5 308.5h0M364.5 309h0M366 308.5h0M366.5 306.5h0M368 308h0M370.5 307.5h0M371 310.5h0M372.5 308h0M373.5 308h0M375.5 307h0M377 309h0M378 308.5h0M380 309.5h0M381 307.5h0M384 308h0M384 309.5h0M385 307.5h0M385.5 308h0M386.5 311h0M389 307h0M389 307h0M391 309h0M392 306h0M392 310.5h0M392.5 310h0M394.5 306.5h0M394.5 306.5h0M398.5 306.5h0M398.5 306h0M401 307.5h0M401.5 308h0M401.5 310.5h0M403.5 307.5h0M404 308.5h0M405 307h0M408.5 306.5h0M409 308.5h0M409.5 308.5h0M411.5 310.5h0M412.5 309h0M413 306.5h0M419.5 306h0M420 310h0M420 306.5h0M420.5 309h0M425 307h0M434 308h0M450.5 306h0M516 306h0M139 315h0M141 314.5h0M142 316h0M142.5 313.5h0M143 317h0M144.5 314h0M145 312.5h0M145 317.5h0M146 316h0M146.5 318h0M147.5 316h0M149 313.5h0M149.5 316.5h0M149.5 314.5h0M150.5 312h0M151 316.5h0M151.5 315.5h0M152 318h0M155 317h0M156 312.5h0M156.5 312h0M158.5 315.5h0M159 313.5h0M160 313.5h0M160.5 316.5h0M161.5 317.5h0M163.5 315.5h0M163.5 317h0M164.5 314.5h0M165.5 315.5h0M167 316.5h0M168 313.5h0M169 317h0M170 312h0M170.5 316.5h0M172 315.5h0M172.5 314.5h0M175 313h0M176 312.5h0M176 314h0M177 313.5h0M178 313h0M180 315.5h0M180.5 314.5h0M180.5 316.5h0M183.5 315.5h0M184 314.5h0M184 312h0M186 312h0M189.5 316h0M190 315.5h0M190 314h0M191 315h0M191 314.5h0M191.5 316.5h0M194.5 314h0M195.5 316.5h0M197 315h0M197 313.5h0M198 317.5h0M198.5 312.5h0M199 316.5h0M199 313h0M200 315h0M201.5 315.5h0M201.5 318h0M203.5 313.5h0M205 314.5h0M205 313h0M207 313.5h0M207 312.5h0M207.5 316h0M208 312.5h0M210.5 315h0M211 316.5h0M211 313h0M211.5 316h0M212 316h0M214.5 312h0M215.5 316.5h0M216 313h0M217 313.5h0M217 313.5h0M219 315.5h0M219.5 316.5h0M222.5 317.5h0M223 313h0M223 316h0M223.5 312.5h0M224 314.5h0M225.5 317.5h0M226.5 312h0M227 312.5h0M227 315.5h0M232 313.5h0M232 316.5h0M236.5 312.5h0M237 314h0M237 313.5h0M238 317.5h0M239.5 317.5h0M240.5 316h0M241 313h0M242.5 315h0M243 313h0M243 314.5h0M244.5 312h0M246 314h0M246.5 314.5h0M248 317h0M248.5 313.5h0M250 316h0M250.5 314h0M257 314h0M258 316.5h0M258.5 315h0M260 312.5h0M260.5 315.5h0M142 321h0M143 321h0M143 319h0M143.5 323.5h0M149 318.5h0M149.5 322.5h0M152 323h0M153 321h0M154 322h0M154.5 320.5h0M155 320.5h0M155.5 320.5h0M156.5 319h0M157.5 321h0M157.5 320.5h0M158.5 319h0M159.5 323h0M161 320.5h0M162 320h0M163 319.5h0M165.5 318.5h0M165.5 323h0M166 323.5h0M166 319.5h0M167 321.5h0M167.5 321h0M169.5 319.5h0M172 319.5h0M172 319.5h0M174.5 320.5h0M175 318.5h0M175 321h0M177 322.5h0M177 319.5h0M178 318h0M178.5 320.5h0M180 323.5h0M181 320h0M181.5 322.5h0M184.5 319.5h0M185 322h0M185 319.5h0M185 321.5h0M186 324h0M186.5 319h0M188 319h0M188 323.5h0M190 321h0M192 318.5h0M192.5 323.5h0M193.5 322.5h0M195 322.5h0M195 320h0M197 322h0M197.5 321.5h0M198.5 322.5h0M198.5 321h0M198.5 321.5h0M200.5 320h0M201.5 319h0M202 321.5h0M213 323h0M215.5 320h0M215.5 319h0M215.5 320.5h0M218.5 320h0M220.5 320h0M221.5 319.5h0M227 318.5h0M227 318h0M230 319.5h0M230.5 322.5h0M231 322h0M140.5 326h0M141 324.5h0M141.5 327.5h0M143.5 324.5h0M145.5 328.5h0M155 328.5h0M156 328.5h0M156 326.5h0M156.5 326.5h0M157.5 325.5h0M158.5 329.5h0M158.5 329.5h0M164.5 330h0M165 327h0M166 325h0M167 327.5h0M174.5 324h0M174.5 325h0M186 329h0M188.5 325.5h0M188.5 328h0M190 324.5h0M191.5 327h0M192.5 327h0M209.5 325h0M213.5 327h0M219 327h0M227 326h0M228 327h0M235.5 326h0M140.5 335h0M142 334.5h0M145 331h0M147.5 332.5h0M149.5 332h0M152.5 333.5h0M154.5 333h0M155 330.5h0M159 333.5h0M164.5 334h0M166 334.5h0M167.5 335.5h0M171 333h0M176 334.5h0M178 331h0M180.5 330.5h0M182 331h0M182.5 331.5h0M184 332.5h0M187 330h0M188 334.5h0M194.5 332h0M198 332.5h0M200.5 336h0M204.5 331h0M205.5 331.5h0M142 339h0M142.5 339.5h0M146.5 341.5h0M150 340.5h0M153.5 340h0M154.5 337h0M170.5 337.5h0M173.5 338.5h0M192.5 336.5h0M206 340h0M209.5 341.5h0M141.5 342h0M142 346h0M145.5 344h0M149 343.5h0M155 343.5h0M161.5 343.5h0M163 347.5h0M142 353h0M144 352.5h0M145.5 352.5h0M156 352.5h0M175 352h0M143 354h0M153 355h0M138 360h0M142 362.5h0M144.5 362.5h0M176 363.5h0M188 363.5h0M139 366h0M154 367.5h0M142 381h0M148.5 384.5h0M185 401h0M243 460.5h0" stroke-width="3.4" fill="none" stroke="#808080" stroke-opacity="0.62" stroke-linecap="round"/>
<path d="M298 258.5h1M298 259.5h1M271 262.5h3M294 262.5h2M272 263.5h2M286 263.5h2M294 263.5h2M287 264.5h2M306 264.5h1M286 265.5h4M298 265.5h1M302 265.5h1M304 265.5h3M313 265.5h3M329 265.5h2M339 265.5h3M356 265.5h2M277 266.5h1M280 266.5h3M287 266.5h3M293 266.5h1M296 266.5h2M301 266.5h6M314 266.5h2M328 266.5h4M339 266.5h4M347 266.5h3M356 266.5h1M277 267.5h6M287 267.5h3M292 267.5h1M295 267.5h4M301 267.5h3M305 267.5h1M314 267.5h2M328 267.5h4M340 267.5h2M347 267.5h3M280 268.5h2M288 268.5h1M295 268.5h1M301 268.5h1M329 268.5h2M348 268.5h2M329 309.5h1M286 310.5h3M299 310.5h2M326 310.5h1M328 310.5h2M350 310.5h3M373 310.5h1M375 310.5h1M254 311.5h2M270 311.5h1M275 311.5h2M286 311.5h3M299 311.5h3M311 311.5h2M314 311.5h2M325 311.5h5M350 311.5h3M373 311.5h3M254 312.5h1M256 312.5h1M268 312.5h3M275 312.5h3M281 312.5h1M292 312.5h3M300 312.5h2M311 312.5h6M325 312.5h2M339 312.5h1M351 312.5h2M361 312.5h2M268 313.5h1M270 313.5h1M275 313.5h2M283 313.5h1M292 313.5h2M300 313.5h2M319 313.5h1M321 313.5h1M330 313.5h1M338 313.5h4M351 313.5h1M361 313.5h2M267 314.5h2M270 314.5h1M285 314.5h1M291 314.5h1M300 314.5h2M319 314.5h2M338 314.5h2M351 314.5h1M268 315.5h2M285 315.5h2M321 315.5h1M323 315.5h1M331 315.5h1M335 315.5h1M350 315.5h2M246 316.5h2M334 316.5h1M350 316.5h1M246 317.5h2M302 317.5h1M304 317.5h1M334 317.5h3M302 318.5h2M334 318.5h3M251 319.5h2M302 319.5h2" stroke="#f50a0a" stroke-width="1" shape-rendering="crispEdges"/>
<path d="M246.5 104.5h0M334 124.5h0M285.5 154.5h0M332.5 155h0M296.5 164h0M185 174h0M219 181.5h0M260 185.5h0M311 180.5h0M142.5 186.5h0M144.5 187h0M319 188h0M413 189h0M146 196.5h0M259 195h0M407.5 208h0M326.5 213h0M363.5 216h0M174 220.5h0M347 218.5h0M372 216.5h0M249 228h0M282 224h0M339.5 223.5h0M346.5 226h0M452.5 227h0M242.5 233h0M277.5 229.5h0M341.5 228.5h0M343 230h0M347.5 231h0M233.5 238h0M241.5 239h0M250 238.5h0M300.5 237h0M311.5 236.5h0M314.5 237.5h0M330 239.5h0M363 238h0M451.5 240h0M212 241.5h0M227.5 240.5h0M264 244h0M278 242h0M321.5 245.5h0M325 245h0M331 244.5h0M379 243.5h0M389 241h0M497.5 240h0M219 249h0M229.5 247.5h0M294 246h0M329.5 250h0M361.5 248h0M367.5 247.5h0M370 249.5h0M392 249.5h0M405 246.5h0M431.5 246.5h0M448 248.5h0M222 256.5h0M226 256h0M227.5 256h0M232 256.5h0M236 257h0M254.5 255.5h0M260 257h0M269 258h0M281.5 256h0M303 252.5h0M304.5 256h0M306 253.5h0M306.5 258h0M307 253.5h0M322 256.5h0M330.5 257h0M352 255.5h0M366 257.5h0M387 256.5h0M389.5 254h0M406.5 253.5h0M442 254h0M461.5 252.5h0M593 255h0M224 260h0M236 258h0M242.5 258h0M256.5 262h0M263.5 263h0M264.5 260h0M267.5 262h0M272 258h0M273.5 263.5h0M273.5 263h0M280 259h0M282 260h0M287 263.5h0M289 260h0M290 263h0M292.5 263h0M293 258.5h0M295 263.5h0M296 263h0M298.5 260h0M299.5 261h0M300.5 259.5h0M307 259.5h0M311 261h0M313.5 261h0M314.5 260h0M315.5 263.5h0M319.5 261h0M321 262h0M331.5 260h0M339.5 263h0M340 259.5h0M346.5 263h0M351.5 264h0M355 262.5h0M355 263.5h0M361.5 262h0M363 261.5h0M370.5 259h0M371.5 259h0M409 263.5h0M419.5 259h0M423.5 259.5h0M444.5 260h0M495 260h0M557 263h0M231 266.5h0M233 265h0M243.5 268h0M247.5 267.5h0M248.5 264.5h0M255.5 268h0M258.5 267.5h0M261 268.5h0M261.5 265.5h0M264 265.5h0M265 268h0M266.5 264h0M269 265h0M273 264.5h0M277 268.5h0M278.5 269h0M279.5 267.5h0M280.5 269h0M282 268.5h0M282 267h0M282.5 269h0M285 267.5h0M287 265h0M287.5 265.5h0M288 268.5h0M288.5 266.5h0M289.5 269h0M289.5 267h0M292.5 267.5h0M293 266.5h0M294.5 268.5h0M294.5 268.5h0M295.5 264h0M297.5 268.5h0M298 267.5h0M298.5 268h0M300.5 265.5h0M301 268.5h0M302 267.5h0M303 264.5h0M303 267.5h0M303.5 268h0M304 267h0M305 268.5h0M306 267h0M306 267h0M307.5 266h0M308.5 265.5h0M310 267h0M311.5 269h0M313.5 265.5h0M314.5 267.5h0M315.5 267.5h0M316.5 267.5h0M317 268.5h0M317 265.5h0M320.5 266h0M325.5 269h0M328.5 267.5h0M328.5 264.5h0M330 267.5h0M330.5 264h0M331 268h0M334 266.5h0M335.5 269h0M336 265.5h0M338 264.5h0M341 267h0M341.5 269h0M341.5 267h0M341.5 267h0M343 266.5h0M348 267h0M349 268h0M349 268.5h0M350 269h0M351 265.5h0M354 269h0M357 266h0M357.5 267.5h0M358.5 267h0M364 265.5h0M364.5 266h0M400.5 264h0M413.5 268.5h0M424.5 269h0M424.5 268h0M439 267h0M473 264h0M255 312h0M271.5 312h0M276 312h0M278.5 312h0M286.5 311.5h0M288 311.5h0M289.5 312h0M299.5 311.5h0M301.5 311.5h0M304.5 311.5h0M305.5 311.5h0M309 311.5h0M316 312h0M326 311.5h0M329 311.5h0M329.5 311.5h0M330.5 311.5h0M334.5 312h0M340 311.5h0M348 311.5h0M352 311.5h0M352 312h0M373 311.5h0M375 311.5h0M375.5 311.5h0M377.5 311.5h0M383.5 312h0M229.5 318h0M230.5 313h0M239 317.5h0M242.5 312.5h0M243.5 317h0M244 313.5h0M246 313.5h0M246.5 318h0M248 317.5h0M250.5 314.5h0M251.5 314h0M256 314h0M256 313.5h0M257.5 312h0M259.5 317h0M263 313h0M265.5 317h0M268 316.5h0M268.5 315h0M269.5 315h0M269.5 312.5h0M270.5 315h0M271 317.5h0M272 313h0M272.5 315h0M276 314h0M277 313.5h0M278 314.5h0M281.5 312h0M283 313.5h0M283 314h0M284.5 315.5h0M287 315h0M287.5 316.5h0M288 317.5h0M288 312.5h0M291 316h0M291 314.5h0M291.5 312.5h0M292 318h0M293.5 315h0M294 314.5h0M294.5 313.5h0M296 316h0M296 313h0M298.5 314h0M301 315.5h0M301 314h0M301 312.5h0M302 313.5h0M302 315.5h0M306 317.5h0M307 317.5h0M309.5 315h0M311.5 316.5h0M312 312.5h0M312 313.5h0M313.5 314h0M313.5 317.5h0M313.5 312.5h0M315.5 316.5h0M316 313h0M316 314h0M319 315h0M320.5 314h0M321.5 315h0M322.5 315.5h0M323 317.5h0M325 317.5h0M325.5 312.5h0M327 314.5h0M327.5 313.5h0M330 313.5h0M331.5 317.5h0M332 315.5h0M332.5 315h0M333 312h0M335 315.5h0M335 317.5h0M336 318h0M338 315h0M339 315.5h0M340.5 315h0M341.5 313.5h0M342 315.5h0M344 313.5h0M351 315h0M351.5 316.5h0M351.5 312.5h0M352 317.5h0M353.5 315h0M353.5 313.5h0M360 315.5h0M362 315h0M362 313h0M363.5 313.5h0M364.5 314h0M365.5 316h0M368 318h0M369 312.5h0M376.5 313h0M382.5 312.5h0M397 314h0M407.5 312h0M428.5 315h0M503.5 317.5h0M543.5 317h0M557 316h0M211 318.5h0M227.5 322.5h0M241 323h0M241.5 318.5h0M248 323h0M248.5 318.5h0M251.5 320h0M253 322h0M253 320h0M255.5 318.5h0M262 323h0M266.5 322h0M267 319.5h0M268.5 318.5h0M269 322h0M273 322h0M282.5 320h0M284 319h0M290 322.5h0M293 319h0M295.5 323h0M298.5 319h0M300 319h0M301 321h0M303 320h0M304 319h0M304 319.5h0M310 318.5h0M314 319.5h0M319.5 318.5h0M326.5 319.5h0M329.5 319.5h0M332 321.5h0M334 318h0M336 319.5h0M338 319h0M348 318h0M350.5 318.5h0M351 321h0M352.5 323h0M357 322.5h0M358 323.5h0M372.5 320h0M404.5 321.5h0M427 321h0M472 323.5h0M545 323h0M243.5 328.5h0M252 327h0M259.5 325.5h0M266.5 328.5h0M270.5 327.5h0M270.5 325.5h0M297.5 328.5h0M307 325h0M311.5 327h0M331.5 326.5h0M334 326.5h0M341.5 324h0M343 325.5h0M363 325h0M369 329.5h0M380 324.5h0M408.5 328h0M215.5 333.5h0M254 333h0M254 331.5h0M265 331.5h0M290 334.5h0M300 331h0M301.5 335.5h0M325.5 331.5h0M328 333h0M344.5 335h0M366 330h0M394 335h0M404.5 335.5h0M477 334.5h0M530 331h0M242 340h0M266 338h0M272.5 340h0M247 342.5h0M322.5 342.5h0M336.5 343.5h0M371.5 345.5h0M301.5 348.5h0M322.5 352h0M339.5 348.5h0M346.5 352h0M281 355.5h0M311 355.5h0M364.5 357.5h0M405.5 358h0M452 358h0M325.5 363h0M360 362.5h0M529.5 360.5h0M615 360.5h0M240.5 368h0M251 367.5h0M463 369h0M489 367h0M198.5 373.5h0M248.5 375h0M219 384h0M359 388h0M387 388h0M251 390h0M405 391.5h0M351 398.5h0M188.5 405.5h0M298.5 405.5h0M245 418.5h0M278.5 429.5h0M280.5 450.5h0" stroke-width="3.4" fill="none" stroke="#ea2830" stroke-opacity="0.8" stroke-linecap="round"/>
<path d="M118.6 269.2L631.4 269.2" stroke="#000" stroke-width="2.7" stroke-dasharray="5.2 1.8"/>
<path d="M118.6 311.2L631.4 311.2" stroke="#000" stroke-width="2.7" stroke-dasharray="5.2 1.8"/>
<rect x="118.6" y="62.9" width="512.8" height="454.7" fill="none" stroke="#000" stroke-width="2.9"/>
<path d="M107.4 122L118.6 122" stroke="#000" stroke-width="2.9" />
<text x="96.3" y="130.8" font-size="25" text-anchor="end" >4</text>
<path d="M107.4 206.5L118.6 206.5" stroke="#000" stroke-width="2.9" />
<text x="96.3" y="215.3" font-size="25" text-anchor="end" >2</text>
<path d="M107.4 248.4L118.6 248.4" stroke="#000" stroke-width="2.9" />
<text x="96.3" y="257.2" font-size="25" text-anchor="end" >1</text>
<path d="M107.4 290.2L118.6 290.2" stroke="#000" stroke-width="2.9" />
<text x="96.3" y="299" font-size="25" text-anchor="end" >0</text>
<path d="M107.4 332L118.6 332" stroke="#000" stroke-width="2.9" />
<text x="96.3" y="340.8" font-size="25" text-anchor="end" >–1</text>
<path d="M107.4 374L118.6 374" stroke="#000" stroke-width="2.9" />
<text x="96.3" y="382.8" font-size="25" text-anchor="end" >–2</text>
<path d="M107.4 458.2L118.6 458.2" stroke="#000" stroke-width="2.9" />
<text x="96.3" y="467" font-size="25" text-anchor="end" >–4</text>
<path d="M145.7 517.6L145.7 528" stroke="#000" stroke-width="2.9" />
<text x="145.7" y="557" font-size="25" text-anchor="middle" >10</text>
<path d="M262.8 517.6L262.8 528" stroke="#000" stroke-width="2.9" />
<text x="262.8" y="557" font-size="25" text-anchor="middle" >100</text>
<path d="M380.5 517.6L380.5 528" stroke="#000" stroke-width="2.9" />
<text x="380.5" y="557" font-size="25" text-anchor="middle" >1000</text>
<path d="M498.1 517.6L498.1 528" stroke="#000" stroke-width="2.9" />
<text x="498.1" y="557" font-size="25" text-anchor="middle" >10,000</text>
<path d="M615.8 517.6L615.8 528" stroke="#000" stroke-width="2.9" />
<text x="615.8" y="557" font-size="25" text-anchor="middle" >100,000</text>
<text transform="translate(39.2 379.7) rotate(-90)" font-size="25">log<tspan font-size="16" dy="6.3">2</tspan><tspan dy="-6.3" dx="0"> fold change</tspan></text>
<text x="375.1" y="599.5" font-size="25" text-anchor="middle" >Mean of normalized counts</text>
<text x="250.5" y="42.5" font-size="25" >P7 Control vs. <tspan font-style="italic">Rbpj</tspan><tspan dx="7.5" dy="-12.3" font-size="16">iPC</tspan></text>
<circle cx="334.1" cy="335.6" r="6.2" fill="none" stroke="#000" stroke-width="2.9"/>
<text x="313" y="370.2" font-size="25" font-style="italic" >Rbpj</text>
<path d="M764 138.5h1M767 157.5h1M767 158.5h1M778 171.5h2M776 172.5h1M778 172.5h2M789 184.5h1M789 185.5h2M787 190.5h2M787 191.5h1M790 198.5h3M770 199.5h3M790 199.5h2M771 200.5h1M790 200.5h2M805 200.5h1M805 201.5h3M765 207.5h1M777 207.5h2M778 208.5h1M814 209.5h3M824 209.5h1M814 210.5h3M823 210.5h2M814 211.5h3M824 211.5h1M785 213.5h1M811 214.5h1M811 215.5h1M777 216.5h1M776 217.5h2M780 217.5h2M771 218.5h1M776 218.5h2M780 218.5h3M770 219.5h2M777 219.5h1M782 219.5h1M769 220.5h3M812 220.5h1M770 221.5h2M778 221.5h1M800 221.5h1M776 222.5h1M766 223.5h3M789 223.5h1M799 223.5h1M766 224.5h3M805 224.5h2M822 224.5h3M767 225.5h2M784 225.5h1M816 225.5h2M821 225.5h4M779 226.5h1M807 226.5h1M820 226.5h5M777 227.5h3M781 227.5h1M783 227.5h3M808 227.5h1M821 227.5h3M777 228.5h3M783 228.5h4M790 228.5h2M807 228.5h3M777 229.5h1M784 229.5h3M785 230.5h1M807 231.5h2M785 232.5h1M797 232.5h1M807 232.5h1M770 233.5h3M780 233.5h1M785 233.5h1M797 233.5h1M805 233.5h1M808 233.5h1M826 233.5h2M842 233.5h2M845 233.5h1M771 234.5h2M778 234.5h1M780 234.5h1M782 234.5h1M784 234.5h4M825 234.5h2M842 234.5h2M845 234.5h1M770 235.5h3M777 235.5h4M786 235.5h1M807 235.5h1M818 235.5h3M825 235.5h1M828 235.5h1M831 235.5h1M833 235.5h1M842 235.5h5M770 236.5h2M777 236.5h2M780 236.5h1M785 236.5h1M818 236.5h3M830 236.5h1M832 236.5h3M840 236.5h3M845 236.5h1M771 237.5h1M774 237.5h1M779 237.5h3M790 237.5h1M795 237.5h1M818 237.5h2M829 237.5h2M838 237.5h2M841 237.5h1M844 237.5h2M770 238.5h3M774 238.5h1M778 238.5h4M789 238.5h2M820 238.5h1M840 238.5h3M845 238.5h2M765 239.5h1M770 239.5h6M779 239.5h3M788 239.5h3M809 239.5h1M829 239.5h1M840 239.5h3M845 239.5h4M772 240.5h1M780 240.5h1M789 240.5h1M801 240.5h1M808 240.5h1M840 240.5h2M845 240.5h4M789 241.5h1M799 241.5h4M808 241.5h1M810 241.5h1M813 241.5h1M828 241.5h2M847 241.5h3M851 241.5h1M783 242.5h1M785 242.5h1M791 242.5h1M793 242.5h1M798 242.5h5M813 242.5h2M847 242.5h5M859 242.5h1M783 243.5h2M791 243.5h4M800 243.5h2M814 243.5h4M840 243.5h1M847 243.5h1M850 243.5h1M858 243.5h2M784 244.5h3M792 244.5h1M802 244.5h2M814 244.5h4M821 244.5h1M824 244.5h1M855 244.5h5M803 245.5h2M815 245.5h4M828 245.5h2M856 245.5h2M859 245.5h1M867 245.5h1M785 246.5h2M803 246.5h2M810 246.5h2M816 246.5h1M818 246.5h2M826 246.5h1M828 246.5h1M851 246.5h1M853 246.5h3M865 246.5h1M769 247.5h1M784 247.5h3M789 247.5h2M817 247.5h2M825 247.5h1M827 247.5h3M832 247.5h2M835 247.5h2M852 247.5h4M863 247.5h1M865 247.5h1M784 248.5h3M790 248.5h2M794 248.5h1M814 248.5h2M817 248.5h1M823 248.5h1M825 248.5h3M829 248.5h3M833 248.5h4M852 248.5h4M862 248.5h4M867 248.5h1M768 249.5h1M793 249.5h3M813 249.5h4M825 249.5h2M829 249.5h3M833 249.5h5M854 249.5h1M859 249.5h3M863 249.5h2M866 249.5h1M870 249.5h3M768 250.5h2M793 250.5h3M812 250.5h4M825 250.5h3M829 250.5h2M833 250.5h5M847 250.5h2M859 250.5h3M864 250.5h1M869 250.5h4M768 251.5h3M784 251.5h1M794 251.5h2M803 251.5h1M814 251.5h1M826 251.5h1M833 251.5h4M845 251.5h3M859 251.5h2M862 251.5h1M864 251.5h1M869 251.5h4M768 252.5h3M783 252.5h3M792 252.5h6M799 252.5h1M803 252.5h2M807 252.5h2M813 252.5h1M817 252.5h1M820 252.5h1M832 252.5h1M834 252.5h1M836 252.5h1M840 252.5h1M845 252.5h4M853 252.5h1M855 252.5h2M870 252.5h3M764 253.5h2M769 253.5h1M783 253.5h3M792 253.5h7M803 253.5h6M813 253.5h5M820 253.5h2M831 253.5h1M833 253.5h3M840 253.5h1M845 253.5h4M853 253.5h3M857 253.5h1M862 253.5h1M868 253.5h1M870 253.5h3M764 254.5h3M774 254.5h2M777 254.5h1M780 254.5h1M783 254.5h1M789 254.5h7M797 254.5h2M803 254.5h6M813 254.5h6M820 254.5h2M856 254.5h2M764 255.5h1M773 255.5h9M788 255.5h5M802 255.5h5M811 255.5h8M846 255.5h2M855 255.5h3M775 256.5h1M778 256.5h4M783 256.5h1M788 256.5h4M801 256.5h5M810 256.5h8M837 256.5h3M841 256.5h1M843 256.5h1M846 256.5h1M848 256.5h3M857 256.5h2M882 256.5h1M778 257.5h4M783 257.5h2M788 257.5h4M800 257.5h6M807 257.5h1M809 257.5h10M829 257.5h3M837 257.5h2M842 257.5h3M846 257.5h2M849 257.5h2M856 257.5h1M858 257.5h2M872 257.5h5M882 257.5h2M888 257.5h3M767 258.5h1M783 258.5h2M789 258.5h1M794 258.5h2M799 258.5h7M808 258.5h5M814 258.5h5M828 258.5h5M837 258.5h4M842 258.5h3M846 258.5h1M848 258.5h2M852 258.5h1M857 258.5h4M868 258.5h1M870 258.5h8M880 258.5h5M888 258.5h3M767 259.5h1M778 259.5h2M788 259.5h2M792 259.5h2M800 259.5h2M805 259.5h1M808 259.5h3M813 259.5h1M815 259.5h11M828 259.5h5M838 259.5h8M857 259.5h4M864 259.5h1M866 259.5h12M879 259.5h6M886 259.5h6M778 260.5h1M788 260.5h6M796 260.5h1M800 260.5h3M806 260.5h1M808 260.5h7M816 260.5h10M829 260.5h12M843 260.5h3M847 260.5h1M850 260.5h1M858 260.5h3M864 260.5h10M875 260.5h3M879 260.5h13M766 261.5h1M789 261.5h1M791 261.5h3M796 261.5h6M808 261.5h17M829 261.5h2M832 261.5h9M843 261.5h3M848 261.5h1M858 261.5h3M864 261.5h5M870 261.5h4M879 261.5h8M888 261.5h5M896 261.5h2M765 262.5h4M779 262.5h4M785 262.5h1M791 262.5h1M793 262.5h1M796 262.5h6M812 262.5h12M832 262.5h10M845 262.5h1M849 262.5h1M857 262.5h4M864 262.5h7M872 262.5h3M881 262.5h6M889 262.5h4M895 262.5h4M765 263.5h5M778 263.5h5M792 263.5h3M797 263.5h5M813 263.5h10M824 263.5h1M827 263.5h1M829 263.5h1M831 263.5h12M856 263.5h1M859 263.5h3M863 263.5h13M880 263.5h1M882 263.5h4M888 263.5h5M895 263.5h7M766 264.5h4M774 264.5h1M777 264.5h6M792 264.5h3M800 264.5h2M810 264.5h2M813 264.5h8M822 264.5h1M824 264.5h1M832 264.5h12M851 264.5h2M856 264.5h2M859 264.5h13M873 264.5h4M881 264.5h2M884 264.5h14M899 264.5h4M908 264.5h2M763 265.5h3M774 265.5h2M778 265.5h1M781 265.5h3M792 265.5h5M809 265.5h3M815 265.5h1M823 265.5h1M826 265.5h1M829 265.5h1M831 265.5h9M841 265.5h7M850 265.5h4M856 265.5h2M861 265.5h6M870 265.5h7M881 265.5h2M884 265.5h21M906 265.5h5M763 266.5h4M774 266.5h2M777 266.5h3M781 266.5h3M794 266.5h5M802 266.5h1M805 266.5h8M823 266.5h4M830 266.5h25M856 266.5h3M862 266.5h5M871 266.5h5M879 266.5h3M883 266.5h2M886 266.5h2M889 266.5h16M907 266.5h5M913 266.5h2M918 266.5h1M949 266.5h2M958 266.5h1M990 266.5h2M995 266.5h1M1007 266.5h3M764 267.5h1M778 267.5h5M791 267.5h10M802 267.5h2M806 267.5h6M815 267.5h3M819 267.5h1M824 267.5h3M830 267.5h9M840 267.5h4M847 267.5h11M863 267.5h2M870 267.5h17M889 267.5h16M906 267.5h15M922 267.5h2M925 267.5h9M935 267.5h2M944 267.5h19M964 267.5h10M975 267.5h31M1007 267.5h13M1021 267.5h15M1038 267.5h3M1042 267.5h2M1110 267.5h1M777 268.5h6M787 268.5h2M793 268.5h1M796 268.5h1M798 268.5h7M807 268.5h2M815 268.5h1M817 268.5h3M823 268.5h1M825 268.5h2M829 268.5h4M835 268.5h9M847 268.5h11M860 268.5h1M862 268.5h4M867 268.5h19M889 268.5h16M906 268.5h9M916 268.5h23M940 268.5h2M944 268.5h93M1038 268.5h8M1048 268.5h2M1052 268.5h2M1065 268.5h5M1078 268.5h1M1109 268.5h2M770 269.5h1M778 269.5h4M786 269.5h3M792 269.5h1M797 269.5h7M807 269.5h3M811 269.5h1M814 269.5h3M818 269.5h1M823 269.5h3M828 269.5h4M833 269.5h2M837 269.5h1M840 269.5h18M861 269.5h25M887 269.5h17M905 269.5h140M1046 269.5h10M1058 269.5h3M1064 269.5h8M1078 269.5h1M1110 269.5h1M769 270.5h2M775 270.5h1M777 270.5h7M787 270.5h3M796 270.5h1M799 270.5h5M805 270.5h1M807 270.5h10M818 270.5h2M822 270.5h4M828 270.5h8M839 270.5h18M860 270.5h70M931 270.5h131M1063 270.5h10M1086 270.5h2M1090 270.5h2M770 271.5h1M775 271.5h1M778 271.5h5M784 271.5h6M793 271.5h1M797 271.5h1M799 271.5h4M805 271.5h12M818 271.5h1M820 271.5h5M826 271.5h5M832 271.5h4M839 271.5h18M860 271.5h26M888 271.5h184M1078 271.5h1M1080 271.5h1M1085 271.5h4M1093 271.5h1M1095 271.5h2M1125 271.5h1M764 272.5h2M769 272.5h3M780 272.5h1M783 272.5h2M788 272.5h2M793 272.5h1M795 272.5h1M800 272.5h2M807 272.5h4M812 272.5h4M818 272.5h11M830 272.5h5M840 272.5h3M846 272.5h10M857 272.5h2M860 272.5h15M876 272.5h9M888 272.5h187M1076 272.5h5M1084 272.5h5M1094 272.5h4M769 273.5h4M784 273.5h2M789 273.5h2M792 273.5h4M799 273.5h4M807 273.5h3M813 273.5h3M817 273.5h8M826 273.5h4M831 273.5h5M841 273.5h4M848 273.5h1M850 273.5h1M852 273.5h34M887 273.5h7M895 273.5h186M1083 273.5h6M1090 273.5h1M1095 273.5h2M769 274.5h3M778 274.5h1M784 274.5h3M788 274.5h7M799 274.5h4M806 274.5h3M812 274.5h4M818 274.5h4M823 274.5h1M825 274.5h5M831 274.5h7M839 274.5h1M841 274.5h5M848 274.5h26M875 274.5h12M888 274.5h201M1095 274.5h3M1115 274.5h1M769 275.5h4M777 275.5h2M786 275.5h1M788 275.5h4M793 275.5h1M798 275.5h1M800 275.5h2M807 275.5h1M813 275.5h2M823 275.5h7M832 275.5h6M841 275.5h12M854 275.5h3M859 275.5h2M863 275.5h24M888 275.5h203M1094 275.5h1M1115 275.5h1M1144 275.5h2M771 276.5h3M786 276.5h1M788 276.5h1M797 276.5h1M814 276.5h1M817 276.5h1M823 276.5h3M827 276.5h2M832 276.5h6M842 276.5h3M846 276.5h1M848 276.5h5M855 276.5h3M865 276.5h16M883 276.5h15M899 276.5h158M1058 276.5h15M1076 276.5h9M1088 276.5h3M1100 276.5h2M771 277.5h2M776 277.5h1M790 277.5h1M792 277.5h1M794 277.5h4M823 277.5h6M842 277.5h3M848 277.5h1M850 277.5h1M855 277.5h4M868 277.5h12M883 277.5h7M893 277.5h5M900 277.5h7M908 277.5h158M1067 277.5h4M1077 277.5h3M1082 277.5h2M1088 277.5h2M1092 277.5h2M1100 277.5h3M1115 277.5h1M771 278.5h2M777 278.5h1M781 278.5h2M791 278.5h2M794 278.5h3M812 278.5h1M814 278.5h1M823 278.5h5M840 278.5h5M855 278.5h5M867 278.5h3M871 278.5h3M875 278.5h5M882 278.5h1M884 278.5h4M890 278.5h9M900 278.5h6M907 278.5h11M919 278.5h138M1058 278.5h13M1078 278.5h4M1083 278.5h1M1088 278.5h1M1092 278.5h2M1101 278.5h1M780 279.5h3M786 279.5h1M791 279.5h6M811 279.5h4M824 279.5h4M831 279.5h3M837 279.5h1M839 279.5h5M853 279.5h6M866 279.5h4M871 279.5h1M876 279.5h6M883 279.5h4M889 279.5h3M895 279.5h12M908 279.5h149M1058 279.5h13M1075 279.5h2M1078 279.5h5M1088 279.5h3M1103 279.5h3M781 280.5h2M784 280.5h4M792 280.5h4M814 280.5h1M824 280.5h3M830 280.5h4M839 280.5h2M845 280.5h1M850 280.5h2M853 280.5h2M858 280.5h1M866 280.5h4M876 280.5h6M883 280.5h10M895 280.5h13M909 280.5h162M1074 280.5h3M1079 280.5h4M1088 280.5h2M1095 280.5h2M1102 280.5h4M1113 280.5h3M783 281.5h5M791 281.5h1M793 281.5h2M809 281.5h2M824 281.5h1M831 281.5h4M840 281.5h2M843 281.5h1M847 281.5h1M851 281.5h7M866 281.5h8M877 281.5h4M883 281.5h8M897 281.5h6M905 281.5h166M1074 281.5h4M1079 281.5h9M1089 281.5h2M1094 281.5h3M1101 281.5h5M1113 281.5h3M784 282.5h4M789 282.5h1M809 282.5h2M831 282.5h4M842 282.5h3M852 282.5h1M854 282.5h3M866 282.5h1M868 282.5h6M876 282.5h4M883 282.5h4M889 282.5h2M892 282.5h2M897 282.5h20M918 282.5h160M1079 282.5h18M1099 282.5h1M1102 282.5h1M1110 282.5h2M1113 282.5h2M1121 282.5h1M787 283.5h4M804 283.5h2M808 283.5h2M813 283.5h3M822 283.5h1M832 283.5h3M842 283.5h3M846 283.5h5M853 283.5h6M866 283.5h1M868 283.5h7M877 283.5h13M891 283.5h1M894 283.5h2M897 283.5h1M899 283.5h17M917 283.5h168M1089 283.5h7M1097 283.5h1M1099 283.5h2M1105 283.5h1M1111 283.5h1M1120 283.5h1M1126 283.5h2M773 284.5h1M787 284.5h2M802 284.5h5M810 284.5h1M823 284.5h2M827 284.5h1M830 284.5h3M837 284.5h1M843 284.5h1M846 284.5h5M853 284.5h4M858 284.5h2M866 284.5h8M876 284.5h28M905 284.5h155M1061 284.5h15M1077 284.5h9M1087 284.5h13M1111 284.5h1M1125 284.5h1M1128 284.5h1M1130 284.5h1M773 285.5h1M803 285.5h2M806 285.5h2M818 285.5h2M825 285.5h8M846 285.5h4M852 285.5h5M858 285.5h3M866 285.5h2M871 285.5h2M874 285.5h7M882 285.5h20M905 285.5h180M1087 285.5h3M1092 285.5h8M1104 285.5h1M1110 285.5h1M1126 285.5h2M794 286.5h1M804 286.5h2M808 286.5h1M817 286.5h3M828 286.5h1M830 286.5h4M842 286.5h5M852 286.5h4M858 286.5h3M866 286.5h2M873 286.5h6M882 286.5h21M905 286.5h2M909 286.5h176M1086 286.5h4M1093 286.5h1M1096 286.5h2M1111 286.5h1M777 287.5h1M791 287.5h1M793 287.5h2M806 287.5h2M817 287.5h2M831 287.5h3M840 287.5h7M853 287.5h2M859 287.5h1M863 287.5h2M869 287.5h8M878 287.5h1M882 287.5h4M887 287.5h20M908 287.5h176M1086 287.5h8M1096 287.5h1M1102 287.5h1M1160 287.5h1M777 288.5h2M792 288.5h2M806 288.5h3M813 288.5h1M819 288.5h1M821 288.5h1M832 288.5h3M839 288.5h1M841 288.5h6M863 288.5h2M866 288.5h2M869 288.5h7M880 288.5h1M883 288.5h2M887 288.5h1M889 288.5h196M1086 288.5h8M1101 288.5h2M1111 288.5h1M768 289.5h1M777 289.5h2M793 289.5h1M808 289.5h2M812 289.5h2M821 289.5h4M826 289.5h4M831 289.5h1M841 289.5h1M843 289.5h2M859 289.5h3M863 289.5h14M879 289.5h8M888 289.5h209M1101 289.5h3M1109 289.5h4M1127 289.5h3M767 290.5h2M793 290.5h1M806 290.5h7M814 290.5h1M823 290.5h7M831 290.5h1M839 290.5h1M842 290.5h2M846 290.5h4M858 290.5h4M863 290.5h1M865 290.5h1M867 290.5h8M878 290.5h222M1101 290.5h1M1108 290.5h4M1127 290.5h3M1148 290.5h1M767 291.5h2M795 291.5h1M798 291.5h1M813 291.5h2M816 291.5h1M823 291.5h8M837 291.5h2M841 291.5h10M859 291.5h4M867 291.5h18M886 291.5h10M897 291.5h199M1097 291.5h3M1109 291.5h3M1126 291.5h4M1147 291.5h1M793 292.5h1M796 292.5h2M801 292.5h2M813 292.5h4M823 292.5h3M829 292.5h2M834 292.5h2M845 292.5h6M852 292.5h1M859 292.5h5M867 292.5h6M874 292.5h7M882 292.5h1M886 292.5h3M892 292.5h189M1082 292.5h10M1097 292.5h4M1106 292.5h3M1111 292.5h1M1113 292.5h2M1125 292.5h3M767 293.5h1M792 293.5h3M796 293.5h1M801 293.5h3M814 293.5h2M820 293.5h6M829 293.5h1M835 293.5h1M846 293.5h1M848 293.5h6M858 293.5h7M868 293.5h2M872 293.5h13M886 293.5h1M890 293.5h172M1063 293.5h18M1082 293.5h1M1084 293.5h12M1098 293.5h1M1106 293.5h3M1126 293.5h2M767 294.5h1M769 294.5h1M791 294.5h2M802 294.5h1M805 294.5h1M807 294.5h1M813 294.5h1M820 294.5h2M823 294.5h2M829 294.5h3M833 294.5h2M842 294.5h1M847 294.5h8M856 294.5h1M858 294.5h7M869 294.5h1M874 294.5h1M876 294.5h14M891 294.5h170M1063 294.5h1M1065 294.5h16M1083 294.5h14M1106 294.5h3M1112 294.5h1M1135 294.5h2M1153 294.5h2M767 295.5h3M791 295.5h2M807 295.5h1M820 295.5h1M824 295.5h1M828 295.5h4M833 295.5h2M836 295.5h1M842 295.5h21M870 295.5h2M873 295.5h12M886 295.5h184M1074 295.5h3M1078 295.5h1M1080 295.5h1M1083 295.5h5M1089 295.5h3M1093 295.5h3M1101 295.5h1M1107 295.5h1M1110 295.5h5M1152 295.5h2M790 296.5h3M804 296.5h2M808 296.5h2M818 296.5h1M820 296.5h1M828 296.5h5M835 296.5h1M837 296.5h3M843 296.5h3M849 296.5h1M854 296.5h8M869 296.5h6M876 296.5h9M887 296.5h15M903 296.5h167M1071 296.5h1M1080 296.5h3M1084 296.5h2M1089 296.5h3M1093 296.5h4M1100 296.5h1M1111 296.5h5M790 297.5h3M798 297.5h1M803 297.5h2M810 297.5h1M816 297.5h1M818 297.5h4M828 297.5h2M832 297.5h3M836 297.5h5M842 297.5h3M847 297.5h2M854 297.5h8M863 297.5h12M876 297.5h4M883 297.5h3M889 297.5h3M893 297.5h13M908 297.5h4M915 297.5h158M1080 297.5h6M1090 297.5h2M1095 297.5h2M1099 297.5h2M1111 297.5h5M791 298.5h1M803 298.5h1M810 298.5h1M819 298.5h2M832 298.5h2M835 298.5h10M848 298.5h2M854 298.5h3M859 298.5h16M876 298.5h6M884 298.5h4M889 298.5h17M908 298.5h5M914 298.5h159M1075 298.5h1M1080 298.5h4M1088 298.5h1M1092 298.5h1M1095 298.5h3M1112 298.5h1M788 299.5h2M816 299.5h1M820 299.5h1M829 299.5h3M833 299.5h2M837 299.5h8M848 299.5h3M856 299.5h1M858 299.5h9M870 299.5h17M888 299.5h11M901 299.5h168M1070 299.5h6M1077 299.5h2M1080 299.5h3M1085 299.5h4M1112 299.5h1M776 300.5h4M781 300.5h4M790 300.5h2M796 300.5h2M808 300.5h1M815 300.5h2M829 300.5h3M833 300.5h3M837 300.5h7M845 300.5h1M847 300.5h5M860 300.5h1M863 300.5h3M868 300.5h1M871 300.5h27M899 300.5h154M1054 300.5h14M1071 300.5h12M1085 300.5h9M776 301.5h9M790 301.5h2M795 301.5h6M802 301.5h2M807 301.5h3M814 301.5h3M823 301.5h3M829 301.5h7M839 301.5h7M849 301.5h4M854 301.5h1M856 301.5h1M863 301.5h6M870 301.5h199M1070 301.5h14M1085 301.5h8M776 302.5h10M790 302.5h3M795 302.5h9M806 302.5h6M814 302.5h4M824 302.5h2M829 302.5h8M838 302.5h8M847 302.5h1M849 302.5h7M858 302.5h2M862 302.5h7M871 302.5h14M886 302.5h9M897 302.5h173M1071 302.5h13M1085 302.5h3M1089 302.5h4M779 303.5h1M781 303.5h1M783 303.5h4M789 303.5h15M805 303.5h9M815 303.5h2M824 303.5h2M829 303.5h2M832 303.5h14M847 303.5h2M850 303.5h3M854 303.5h3M858 303.5h3M863 303.5h7M871 303.5h7M881 303.5h2M884 303.5h199M1086 303.5h5M1092 303.5h1M1095 303.5h2M1106 303.5h1M1108 303.5h1M768 304.5h1M777 304.5h1M780 304.5h3M784 304.5h3M789 304.5h10M801 304.5h3M805 304.5h13M828 304.5h19M848 304.5h1M850 304.5h3M854 304.5h2M858 304.5h3M863 304.5h17M884 304.5h182M1067 304.5h7M1079 304.5h3M1085 304.5h8M1106 304.5h3M1120 304.5h1M766 305.5h3M776 305.5h3M780 305.5h14M795 305.5h4M801 305.5h1M805 305.5h13M822 305.5h1M824 305.5h2M827 305.5h15M844 305.5h3M850 305.5h2M854 305.5h7M863 305.5h4M868 305.5h13M883 305.5h183M1067 305.5h6M1074 305.5h1M1081 305.5h1M1083 305.5h9M1093 305.5h1M1104 305.5h3M766 306.5h3M771 306.5h3M777 306.5h1M780 306.5h7M788 306.5h4M797 306.5h2M800 306.5h1M804 306.5h3M808 306.5h1M810 306.5h7M821 306.5h2M824 306.5h1M827 306.5h21M850 306.5h2M855 306.5h1M857 306.5h4M862 306.5h19M883 306.5h183M1068 306.5h7M1081 306.5h2M1084 306.5h6M1094 306.5h2M1105 306.5h1M771 307.5h2M781 307.5h4M788 307.5h5M796 307.5h5M804 307.5h1M811 307.5h6M820 307.5h4M825 307.5h2M828 307.5h6M835 307.5h3M839 307.5h2M842 307.5h5M858 307.5h3M864 307.5h1M867 307.5h1M869 307.5h5M876 307.5h5M883 307.5h23M907 307.5h32M940 307.5h110M1052 307.5h5M1059 307.5h6M1068 307.5h1M1072 307.5h4M1077 307.5h1M1079 307.5h4M1084 307.5h2M1087 307.5h1M1093 307.5h3M1105 307.5h1M763 308.5h2M781 308.5h5M789 308.5h4M795 308.5h3M799 308.5h1M813 308.5h1M815 308.5h3M820 308.5h3M825 308.5h3M830 308.5h2M833 308.5h1M835 308.5h12M857 308.5h1M859 308.5h1M861 308.5h5M867 308.5h12M882 308.5h20M904 308.5h35M940 308.5h110M1053 308.5h6M1060 308.5h3M1072 308.5h4M1079 308.5h1M1081 308.5h1M1087 308.5h1M1093 308.5h4M763 309.5h2M781 309.5h6M788 309.5h3M799 309.5h1M811 309.5h1M815 309.5h4M821 309.5h2M827 309.5h4M832 309.5h1M834 309.5h12M847 309.5h1M850 309.5h1M858 309.5h13M872 309.5h7M882 309.5h20M904 309.5h32M941 309.5h38M980 309.5h18M1000 309.5h10M1011 309.5h8M1020 309.5h15M1037 309.5h3M1041 309.5h2M1044 309.5h2M1055 309.5h2M1058 309.5h1M1073 309.5h2M1094 309.5h1M763 310.5h4M778 310.5h1M781 310.5h6M810 310.5h3M815 310.5h3M821 310.5h2M827 310.5h4M833 310.5h15M849 310.5h4M859 310.5h12M873 310.5h5M880 310.5h10M892 310.5h11M904 310.5h17M922 310.5h6M931 310.5h1M952 310.5h1M960 310.5h4M971 310.5h2M977 310.5h2M982 310.5h5M989 310.5h2M994 310.5h2M1001 310.5h1M1016 310.5h3M1021 310.5h2M1025 310.5h2M1056 310.5h1M764 311.5h4M777 311.5h3M781 311.5h3M791 311.5h2M810 311.5h2M814 311.5h4M822 311.5h2M825 311.5h6M834 311.5h14M849 311.5h5M862 311.5h2M866 311.5h4M873 311.5h4M882 311.5h7M891 311.5h4M897 311.5h4M903 311.5h18M922 311.5h3M764 312.5h3M777 312.5h6M788 312.5h2M791 312.5h3M808 312.5h4M813 312.5h1M815 312.5h3M821 312.5h2M824 312.5h5M834 312.5h10M845 312.5h8M855 312.5h6M866 312.5h4M874 312.5h3M882 312.5h7M890 312.5h5M898 312.5h8M908 312.5h5M914 312.5h6M922 312.5h2M764 313.5h3M768 313.5h2M777 313.5h2M781 313.5h2M791 313.5h3M808 313.5h8M819 313.5h9M832 313.5h1M836 313.5h3M840 313.5h2M846 313.5h2M849 313.5h1M854 313.5h7M866 313.5h3M874 313.5h4M880 313.5h17M898 313.5h8M909 313.5h2M923 313.5h1M765 314.5h6M774 314.5h1M782 314.5h1M784 314.5h1M787 314.5h1M792 314.5h1M807 314.5h7M819 314.5h5M825 314.5h3M830 314.5h3M837 314.5h4M846 314.5h2M849 314.5h1M852 314.5h9M865 314.5h4M874 314.5h5M880 314.5h4M887 314.5h2M890 314.5h16M766 315.5h6M773 315.5h3M781 315.5h1M783 315.5h4M801 315.5h2M807 315.5h8M819 315.5h4M825 315.5h1M830 315.5h4M837 315.5h4M847 315.5h1M850 315.5h4M857 315.5h3M865 315.5h2M868 315.5h2M875 315.5h3M879 315.5h6M891 315.5h1M894 315.5h10M911 315.5h1M765 316.5h2M770 316.5h5M783 316.5h6M791 316.5h1M800 316.5h3M808 316.5h3M818 316.5h4M831 316.5h3M837 316.5h1M845 316.5h2M852 316.5h1M857 316.5h1M867 316.5h4M875 316.5h3M879 316.5h1M881 316.5h4M888 316.5h1M895 316.5h1M898 316.5h7M911 316.5h2M764 317.5h3M769 317.5h5M786 317.5h3M796 317.5h3M800 317.5h3M817 317.5h6M831 317.5h3M845 317.5h2M850 317.5h2M854 317.5h6M865 317.5h1M867 317.5h6M874 317.5h3M878 317.5h2M883 317.5h2M888 317.5h1M900 317.5h5M764 318.5h2M770 318.5h3M777 318.5h1M786 318.5h1M797 318.5h4M816 318.5h6M832 318.5h1M834 318.5h1M846 318.5h1M850 318.5h2M854 318.5h4M864 318.5h2M868 318.5h8M889 318.5h1M899 318.5h6M764 319.5h3M771 319.5h1M776 319.5h3M784 319.5h2M797 319.5h4M815 319.5h1M817 319.5h6M833 319.5h1M850 319.5h1M852 319.5h5M861 319.5h5M871 319.5h3M880 319.5h1M899 319.5h2M764 320.5h4M777 320.5h2M794 320.5h3M799 320.5h1M809 320.5h1M834 320.5h2M845 320.5h2M851 320.5h1M853 320.5h3M860 320.5h3M870 320.5h2M874 320.5h3M878 320.5h1M880 320.5h1M882 320.5h1M891 320.5h1M764 321.5h5M785 321.5h3M795 321.5h2M800 321.5h1M821 321.5h3M829 321.5h2M835 321.5h3M846 321.5h1M851 321.5h2M855 321.5h1M861 321.5h1M870 321.5h4M875 321.5h2M878 321.5h1M880 321.5h2M891 321.5h1M765 322.5h5M785 322.5h4M798 322.5h2M806 322.5h2M820 322.5h5M826 322.5h1M829 322.5h1M833 322.5h5M850 322.5h3M861 322.5h1M869 322.5h8M878 322.5h2M786 323.5h3M798 323.5h4M805 323.5h4M810 323.5h1M820 323.5h4M833 323.5h9M850 323.5h3M860 323.5h1M870 323.5h5M783 324.5h6M799 324.5h3M806 324.5h1M810 324.5h1M812 324.5h1M820 324.5h3M832 324.5h4M838 324.5h6M852 324.5h1M860 324.5h1M868 324.5h4M880 324.5h1M884 324.5h3M774 325.5h3M783 325.5h1M785 325.5h2M795 325.5h1M799 325.5h4M809 325.5h2M812 325.5h1M838 325.5h1M840 325.5h5M851 325.5h1M867 325.5h5M886 325.5h2M776 326.5h2M785 326.5h2M800 326.5h3M841 326.5h3M868 326.5h3M887 326.5h1M775 327.5h1M778 327.5h2M802 327.5h1M804 327.5h1M820 327.5h1M822 327.5h1M842 327.5h1M845 327.5h5M865 327.5h2M871 327.5h1M773 328.5h2M780 328.5h1M800 328.5h1M806 328.5h1M808 328.5h2M813 328.5h2M820 328.5h2M844 328.5h5M861 328.5h1M871 328.5h1M873 328.5h1M773 329.5h3M788 329.5h1M797 329.5h1M808 329.5h2M812 329.5h3M819 329.5h1M821 329.5h5M831 329.5h2M845 329.5h4M870 329.5h3M774 330.5h3M799 330.5h6M806 330.5h3M812 330.5h3M822 330.5h2M825 330.5h1M846 330.5h1M862 330.5h3M870 330.5h1M773 331.5h4M788 331.5h2M799 331.5h4M805 331.5h5M822 331.5h3M832 331.5h1M862 331.5h3M775 332.5h2M799 332.5h3M805 332.5h2M808 332.5h2M820 332.5h3M829 332.5h2M862 332.5h2M805 333.5h1M809 333.5h2M820 333.5h3M828 333.5h4M792 334.5h2M822 334.5h1M828 334.5h3M838 334.5h2M791 335.5h1M810 335.5h1M827 335.5h2M837 335.5h2M861 335.5h1M827 336.5h1M775 337.5h1M781 337.5h1M789 337.5h1M794 337.5h1M858 337.5h1M770 338.5h1M780 338.5h4M787 338.5h3M794 338.5h2M815 338.5h4M825 338.5h1M857 338.5h1M770 339.5h2M775 339.5h2M782 339.5h1M787 339.5h3M795 339.5h1M815 339.5h3M824 339.5h3M842 339.5h1M857 339.5h1M770 340.5h2M788 340.5h2M807 340.5h1M814 340.5h3M825 340.5h3M829 340.5h1M770 341.5h1M783 341.5h2M802 341.5h3M769 342.5h1M783 342.5h2M801 342.5h5M769 343.5h3M784 343.5h1M802 343.5h4M837 343.5h1M769 344.5h3M799 344.5h1M803 344.5h3M837 344.5h1M769 345.5h1M771 345.5h2M836 345.5h3M845 345.5h1M773 346.5h1M794 346.5h2M837 346.5h1M763 347.5h2M793 347.5h3M827 347.5h2M853 347.5h1M763 348.5h3M777 348.5h3M794 348.5h2M799 348.5h1M827 348.5h2M777 349.5h3M786 349.5h1M794 349.5h2M798 349.5h2M813 349.5h1M769 350.5h1M777 350.5h3M785 350.5h4M798 350.5h2M769 351.5h1M785 351.5h3M795 351.5h1M809 351.5h2M813 351.5h1M785 352.5h1M787 352.5h1M794 352.5h3M808 352.5h2M787 353.5h2M794 353.5h3M787 354.5h3M794 354.5h3M771 355.5h1M787 355.5h2M770 356.5h3M788 356.5h1M794 356.5h1M770 357.5h2M801 357.5h2M818 360.5h1M836 360.5h2M836 361.5h2M788 366.5h1M787 367.5h2M787 368.5h2M797 368.5h2M797 369.5h3M805 369.5h2M797 370.5h2M805 370.5h2M805 371.5h2M768 392.5h2M767 393.5h3" stroke="#808080" stroke-width="1" shape-rendering="crispEdges"/>
<path d="M764.5 94.5h0M765.5 90.5h0M766 96h0M772.5 91.5h0M779.5 121h0M780.5 126h0M764.5 138h0M766 140.5h0M766 140.5h0M777.5 141.5h0M769.5 145h0M771 144h0M787.5 150h0M789 146.5h0M794.5 147h0M764.5 151.5h0M765.5 153.5h0M770 156h0M774 154h0M774.5 151h0M778 150.5h0M783 154.5h0M789.5 152.5h0M795 153.5h0M799.5 153h0M767 158.5h0M769 158h0M769.5 159h0M769.5 161.5h0M783 157h0M796.5 160.5h0M772 164.5h0M773 167.5h0M775 168h0M782 167.5h0M782.5 164.5h0M795 166h0M802 164.5h0M764 170.5h0M772 172h0M775.5 173h0M778.5 173h0M779 173.5h0M780 172h0M782.5 172h0M788 169.5h0M799.5 169.5h0M764.5 174.5h0M765 180h0M770 180h0M774 178h0M775.5 177.5h0M780.5 176.5h0M783.5 178.5h0M785 174.5h0M786 178.5h0M793.5 175.5h0M767.5 184h0M775 181h0M782.5 185h0M783.5 182.5h0M786 186h0M791 185.5h0M791.5 185h0M792 180h0M800.5 180.5h0M813 185.5h0M817 185.5h0M766 188.5h0M770 189.5h0M776 188.5h0M778 190h0M778.5 187h0M783.5 186h0M785.5 189.5h0M787.5 191.5h0M789.5 191.5h0M789.5 192h0M790 187h0M790 187.5h0M804 189.5h0M806.5 189h0M768 196h0M768 196h0M779 197h0M782.5 196h0M783.5 196.5h0M789.5 195h0M801 195h0M803.5 192.5h0M804.5 196.5h0M805 194.5h0M810.5 192.5h0M812.5 196.5h0M820.5 196h0M765 201h0M769.5 202.5h0M770.5 201h0M772.5 199.5h0M772.5 200h0M773.5 201.5h0M779.5 200.5h0M780 202.5h0M780.5 198.5h0M781 204h0M782 201h0M787 203h0M787.5 200h0M790 200.5h0M791.5 202h0M791.5 199.5h0M792 199.5h0M792.5 200.5h0M797 203.5h0M800.5 200h0M806 203h0M807 202h0M807 199h0M807.5 201.5h0M809.5 203h0M812.5 202h0M814 201h0M817 203.5h0M823 203.5h0M824.5 203h0M829.5 199.5h0M765 208.5h0M766 207h0M767.5 209h0M770 205.5h0M770.5 207h0M772 209h0M774 209.5h0M774 204h0M776.5 206h0M777.5 209h0M778 208.5h0M779.5 208h0M785.5 209h0M785.5 207h0M789.5 204h0M789.5 205h0M795.5 204.5h0M801 208h0M805 209h0M807 205.5h0M812 206.5h0M812 205.5h0M815 210h0M815 207.5h0M822.5 209.5h0M823 206.5h0M824.5 207.5h0M765 216h0M766.5 212.5h0M769.5 212h0M770 214.5h0M775.5 214.5h0M781.5 211h0M784.5 214.5h0M786.5 215.5h0M787 213.5h0M788 212h0M791.5 213.5h0M791.5 213h0M799 210.5h0M799.5 215h0M803.5 211h0M805.5 215.5h0M809 211h0M809 215.5h0M811 215h0M811.5 212h0M812.5 216h0M813 216h0M816 211.5h0M817.5 210.5h0M818.5 214h0M824 212.5h0M824 210.5h0M825 210.5h0M826 211h0M764.5 219.5h0M767 217h0M768.5 217.5h0M771 216h0M771 220h0M772 221h0M772.5 221h0M773.5 218.5h0M777.5 218h0M777.5 222h0M778 218.5h0M778.5 219h0M782 217h0M782 220.5h0M782.5 218h0M782.5 219h0M784 221h0M786 217h0M787.5 221h0M788.5 217.5h0M791 219h0M794 216.5h0M795.5 217h0M797 218.5h0M800.5 221.5h0M805 217.5h0M807 219.5h0M807 221.5h0M808 217.5h0M812 220.5h0M814 220.5h0M816.5 220h0M821.5 221h0M826 216h0M826.5 216h0M827.5 221h0M831 216h0M831.5 221.5h0M767 225.5h0M768 225.5h0M768.5 225h0M770 225.5h0M770.5 222h0M773 226h0M775.5 223h0M777.5 225.5h0M778 223h0M780 223h0M782 224h0M784 226.5h0M785.5 225.5h0M786 225.5h0M789 223.5h0M790 222.5h0M791 225.5h0M793.5 227.5h0M793.5 222.5h0M795.5 225.5h0M799 226.5h0M800 225.5h0M801.5 224h0M801.5 223.5h0M806 224h0M806.5 224.5h0M807 227h0M811 225h0M811.5 225.5h0M814 222.5h0M814 226.5h0M814.5 227.5h0M817 227h0M817.5 225.5h0M818 227h0M822 226.5h0M822 227.5h0M822.5 222h0M822.5 227.5h0M823.5 225h0M825 226h0M825.5 227h0M826 224h0M828 224.5h0M833 222h0M834 223h0M836 227h0M839.5 225h0M841 223.5h0M842 224.5h0M847 226h0M764.5 229h0M765 229.5h0M769.5 232.5h0M770 232h0M771.5 230h0M776 233h0M777.5 229h0M779 229.5h0M779 228.5h0M779 231h0M780 233h0M781 228h0M781 228h0M784 228h0M784.5 229.5h0M785.5 229.5h0M786.5 230h0M786.5 229.5h0M787.5 231h0M791.5 230h0M792 230.5h0M792 228h0M799 233h0M805.5 229h0M805.5 233.5h0M808 228.5h0M808.5 231h0M808.5 233.5h0M809 228.5h0M809.5 232.5h0M810 228.5h0M811 230h0M816 230.5h0M819 231h0M823 229h0M823.5 232.5h0M827 233.5h0M828.5 228.5h0M830.5 228.5h0M830.5 232h0M844 233h0M852.5 228.5h0M764.5 238h0M765 239.5h0M769 235.5h0M770 237h0M771 238.5h0M772 239h0M772 235.5h0M772 234.5h0M772.5 236.5h0M773 234.5h0M774 235.5h0M774.5 239h0M775 239.5h0M775.5 236.5h0M777.5 234.5h0M778 238.5h0M778 236h0M780 237h0M780 236.5h0M780.5 235h0M780.5 239.5h0M781.5 239.5h0M782 235h0M782 238.5h0M782 236h0M784 234.5h0M785.5 237h0M785.5 234.5h0M787 235h0M787.5 239.5h0M787.5 234h0M787.5 236.5h0M788 237h0M790 239.5h0M790.5 239.5h0M791.5 235h0M792 239.5h0M794.5 236h0M795 237.5h0M796 240h0M796.5 239h0M797 234h0M799 234.5h0M799.5 239h0M802 235.5h0M804.5 234h0M805 239h0M805.5 238.5h0M807.5 235h0M808.5 237.5h0M808.5 236h0M811 239h0M813.5 236.5h0M815.5 237h0M817 236h0M818.5 237.5h0M820 236.5h0M820 239h0M820.5 237h0M820.5 238h0M824 239h0M824.5 235h0M825.5 235.5h0M827.5 235.5h0M828 235.5h0M829.5 237.5h0M830.5 237.5h0M831 239.5h0M832.5 236.5h0M832.5 234.5h0M833.5 237.5h0M834 238h0M835 236h0M838 238h0M838.5 235h0M840 237h0M841 238.5h0M841 239.5h0M842.5 236.5h0M843 239.5h0M843 236h0M843.5 238h0M844.5 235h0M845 235.5h0M846 239h0M846.5 237.5h0M847 236h0M847.5 235.5h0M853.5 239h0M854.5 238h0M856 236h0M764.5 246h0M766 241h0M766.5 244.5h0M767.5 240h0M769.5 243.5h0M772 240h0M773 241.5h0M774.5 241h0M776.5 240h0M779.5 240.5h0M780 244.5h0M783.5 244.5h0M784 245h0M784.5 243h0M786 245h0M786.5 244h0M786.5 241h0M789 242.5h0M789.5 245.5h0M790 241.5h0M791 243.5h0M792.5 244h0M793.5 243.5h0M794 245h0M795.5 244h0M796.5 243.5h0M799.5 242.5h0M799.5 244h0M800.5 244h0M801 242.5h0M802 243h0M802 243h0M802.5 243.5h0M805 245.5h0M808 241h0M810 241h0M810 242h0M811.5 243.5h0M813 243.5h0M814.5 242.5h0M815 244h0M815.5 242.5h0M818.5 245h0M821 244.5h0M821.5 241h0M822.5 242.5h0M823.5 245h0M823.5 246h0M826.5 246h0M829 241.5h0M829.5 245h0M829.5 241h0M830 243.5h0M833 240.5h0M835 244.5h0M837 244.5h0M838 242h0M839.5 244h0M840.5 245.5h0M841 241h0M842 244h0M842 240h0M845.5 245h0M846 241h0M846 240h0M847.5 240.5h0M847.5 245.5h0M848.5 243.5h0M849 240h0M849 243.5h0M849.5 242.5h0M849.5 241h0M851.5 243h0M852 244h0M852.5 243.5h0M853.5 241h0M855.5 246h0M856 245.5h0M857.5 245.5h0M859.5 245.5h0M860 243h0M860.5 245h0M860.5 243.5h0M869.5 245.5h0M764.5 251.5h0M768 250h0M769.5 249.5h0M769.5 252h0M770.5 247h0M770.5 248.5h0M777 246h0M778 248.5h0M779.5 246h0M779.5 250.5h0M783 250.5h0M784 249h0M785.5 249h0M786.5 248.5h0M786.5 248.5h0M787.5 246.5h0M788 249.5h0M790 247.5h0M791 249.5h0M791.5 248h0M791.5 249.5h0M794 250h0M795 250.5h0M796.5 247.5h0M797 251h0M798 247h0M800.5 247h0M801 247.5h0M804 246.5h0M804.5 246.5h0M805.5 247h0M807.5 251h0M811.5 248.5h0M811.5 249h0M812 246.5h0M812.5 246h0M815 251.5h0M815 250.5h0M815.5 247h0M816.5 248.5h0M818.5 252h0M818.5 247h0M818.5 248h0M818.5 251h0M820 247.5h0M823.5 248h0M823.5 250h0M825.5 249.5h0M826.5 251.5h0M827 251h0M827 249h0M827.5 248.5h0M828 251.5h0M829 249h0M830 247.5h0M830.5 247h0M831 250h0M831 250.5h0M831 250h0M833.5 247.5h0M833.5 250h0M834 249.5h0M835 248.5h0M837 249.5h0M837 248h0M837 251.5h0M837.5 250h0M838.5 252h0M843.5 251h0M844.5 249.5h0M847 251.5h0M848.5 250.5h0M851 248.5h0M852 248h0M854 247.5h0M854 250h0M854 250h0M855.5 248h0M857.5 248.5h0M858.5 250h0M859.5 246.5h0M860 252h0M861 251.5h0M861.5 251.5h0M861.5 249.5h0M863.5 246.5h0M864 251h0M864.5 249h0M865 250.5h0M865.5 248.5h0M866.5 251.5h0M867 246h0M867 249h0M868.5 249.5h0M869.5 250.5h0M870 246h0M871 251.5h0M872.5 249.5h0M764 256h0M765.5 255.5h0M766 254.5h0M766 252.5h0M766 255.5h0M769 255.5h0M770 253h0M771 252h0M771 255.5h0M772.5 257h0M774 255h0M776 256.5h0M776.5 255.5h0M776.5 256h0M779 252.5h0M779.5 257.5h0M779.5 256h0M780 255h0M782.5 255.5h0M784 253.5h0M785 255.5h0M785 252h0M785.5 254.5h0M786.5 252.5h0M789.5 252.5h0M789.5 256.5h0M790.5 256h0M791.5 255h0M792 253.5h0M793 257h0M794.5 256.5h0M794.5 253h0M797 254h0M797.5 255h0M798.5 253.5h0M798.5 257h0M799 254.5h0M800.5 252h0M802.5 256h0M803 257.5h0M803.5 252h0M803.5 253.5h0M805 253.5h0M806.5 256h0M806.5 256.5h0M808.5 254h0M808.5 253.5h0M808.5 254.5h0M811 255.5h0M811.5 252.5h0M812 252.5h0M812.5 257h0M814 255h0M814 256h0M814.5 252.5h0M815.5 254h0M817 254h0M817.5 257h0M818 254.5h0M818.5 255.5h0M821 254.5h0M821.5 253h0M821.5 255h0M822.5 256.5h0M823.5 255h0M825.5 255h0M827 255.5h0M829 258h0M829.5 253h0M831.5 253.5h0M832 256h0M834 253.5h0M835 253.5h0M835 255h0M836 253.5h0M837.5 255h0M838 257h0M840.5 254h0M841 256.5h0M841 253h0M842 253h0M843 256h0M844 258h0M844.5 254h0M846.5 253h0M847 257h0M847.5 255h0M848.5 255.5h0M848.5 252.5h0M849.5 252.5h0M850 257h0M851 257.5h0M852.5 257.5h0M854.5 255h0M855 255.5h0M855 253.5h0M855.5 253h0M857 257h0M857 254.5h0M857.5 257h0M858.5 253h0M858.5 255.5h0M860.5 257.5h0M861.5 254h0M862.5 255.5h0M864 258h0M864.5 253.5h0M866 257.5h0M867.5 253.5h0M868.5 255.5h0M869.5 253h0M871 253.5h0M872.5 253h0M874 257h0M874 255h0M876.5 257.5h0M877 258h0M879.5 256h0M882 257h0M766.5 263h0M767 264h0M768 258.5h0M768 261h0M768.5 263.5h0M768.5 259h0M775 258.5h0M775.5 260.5h0M778.5 260.5h0M779 259.5h0M780.5 261.5h0M782 262h0M783.5 258.5h0M784 258h0M785 263h0M785.5 258.5h0M785.5 262.5h0M786.5 259h0M789 261.5h0M789 260.5h0M790 261h0M790.5 258h0M791 262.5h0M791.5 260.5h0M792.5 261.5h0M793.5 262h0M793.5 259h0M794 261h0M795.5 261h0M796 258.5h0M796.5 258.5h0M797.5 262.5h0M798 261.5h0M798 263.5h0M799.5 258h0M800.5 261h0M800.5 260h0M801.5 264h0M802 262h0M802.5 262.5h0M803.5 260h0M805 261h0M805.5 258.5h0M807 260.5h0M807 259.5h0M808.5 262h0M809 263.5h0M809.5 258h0M810 258h0M811.5 263h0M811.5 261h0M813 259.5h0M813.5 262h0M814 263.5h0M814 258.5h0M815 261.5h0M815.5 261h0M820 258.5h0M820.5 259h0M822 261h0M825 260.5h0M825.5 259.5h0M826 261.5h0M826.5 263.5h0M829 263h0M829 260h0M830 261h0M830 259h0M831.5 261.5h0M831.5 259h0M832 263h0M832.5 259h0M833 260.5h0M835 260h0M836.5 260.5h0M838 258h0M839 261h0M839 258.5h0M840 259h0M840.5 261h0M841.5 261h0M841.5 259.5h0M843 263h0M845.5 262h0M845.5 262.5h0M846.5 259h0M846.5 260.5h0M847 262h0M848 258.5h0M849 263.5h0M849.5 260.5h0M850 258h0M850 262.5h0M851.5 263h0M851.5 260h0M854 260.5h0M854.5 261.5h0M857 263.5h0M857 259.5h0M858.5 259.5h0M859 263h0M859.5 262.5h0M860 258h0M861.5 262h0M862.5 263.5h0M864 260h0M865 263h0M865.5 260.5h0M866.5 261h0M868.5 260.5h0M869 260.5h0M870 264h0M870 262h0M870 260.5h0M871.5 263.5h0M872 263.5h0M872.5 260h0M873.5 258.5h0M874 261h0M874 263h0M877 260.5h0M877.5 262h0M878 260h0M879.5 260.5h0M880.5 262.5h0M881 263h0M881 260h0M882.5 258.5h0M884.5 258.5h0M885 260.5h0M886 263.5h0M886 262h0M887.5 262h0M888 261.5h0M888 260.5h0M889 259h0M890 263h0M890.5 258.5h0M891 260h0M892 259h0M892 262h0M893.5 260.5h0M894 263.5h0M895.5 262.5h0M897.5 262h0M898.5 262h0M764 267.5h0M764.5 267h0M765.5 266.5h0M765.5 267.5h0M766 268h0M768.5 268.5h0M769 266.5h0M769.5 264.5h0M770 270h0M772 264.5h0M773.5 265h0M773.5 268.5h0M775 267h0M776 266h0M776 265h0M776.5 267h0M778 269.5h0M779 268.5h0M779 264.5h0M779 266h0M779 265h0M780 266.5h0M780.5 268h0M782 265.5h0M782.5 269h0M782.5 264.5h0M783.5 266.5h0M783.5 266.5h0M783.5 267.5h0M783.5 270h0M783.5 268h0M786.5 265h0M787 268.5h0M787.5 269.5h0M788.5 265h0M790 267.5h0M792 267h0M793 269h0M793 264.5h0M793.5 265.5h0M793.5 268h0M794.5 264.5h0M795 267h0M795 265h0M795 264h0M796 267.5h0M796.5 268h0M798 269.5h0M798 265.5h0M798.5 267h0M798.5 268.5h0M800 268h0M800 269h0M800 264.5h0M800.5 264h0M802 265.5h0M802.5 266h0M802.5 268h0M804 268.5h0M804 269h0M806.5 266h0M807.5 268h0M807.5 268.5h0M809.5 269.5h0M809.5 266h0M811 266.5h0M812.5 266.5h0M812.5 267h0M813.5 268.5h0M814.5 264.5h0M815.5 268.5h0M815.5 265.5h0M816.5 265h0M817 267h0M817.5 268.5h0M817.5 269.5h0M818 264.5h0M819.5 268.5h0M820 265h0M820 270h0M821 268h0M821.5 265.5h0M823 267.5h0M824 265.5h0M824.5 264.5h0M825.5 267h0M825.5 269h0M827 268h0M827 267.5h0M827.5 265h0M829 265.5h0M829.5 269.5h0M831 265h0M831.5 267h0M832.5 269h0M833 266.5h0M833.5 268.5h0M835.5 268h0M837.5 269h0M840 268h0M840 268h0M841.5 265h0M841.5 265h0M843.5 269.5h0M845 266.5h0M845.5 266h0M847 266.5h0M847 267h0M847.5 267.5h0M848 264.5h0M849.5 267.5h0M850 267h0M852 265h0M853.5 266h0M853.5 266h0M856 268.5h0M856.5 264.5h0M857.5 270h0M857.5 266h0M857.5 267h0M857.5 268.5h0M858 267h0M860 268.5h0M860.5 264.5h0M861 265h0M861 265.5h0M862.5 270h0M863 265.5h0M864.5 267.5h0M864.5 267.5h0M865 269h0M867 268h0M867 266h0M867.5 265h0M868 269h0M870 265.5h0M871 265.5h0M872.5 267.5h0M873.5 265h0M873.5 266h0M876.5 266.5h0M876.5 264.5h0M878.5 269h0M879 266h0M880.5 266h0M882.5 264.5h0M883 264.5h0M883.5 267h0M883.5 268.5h0M884.5 265.5h0M885.5 267.5h0M886 267h0M886 264.5h0M887 269.5h0M888.5 266.5h0M889 266h0M898.5 265.5h0M898.5 265h0M901 264.5h0M901 264.5h0M903.5 266h0M904 266.5h0M905 268h0M905.5 266.5h0M906.5 269.5h0M908.5 268.5h0M911 267h0M913 268.5h0M915 267.5h0M916 269.5h0M918 268.5h0M919 268.5h0M919.5 269h0M922 268.5h0M923 269.5h0M924 269.5h0M924 269h0M927.5 268.5h0M927.5 269h0M929 269h0M932 269h0M933 268.5h0M936 269.5h0M938 269h0M940 269.5h0M941 268.5h0M944.5 269.5h0M945 269.5h0M946.5 268.5h0M946.5 269h0M949 268.5h0M950 268.5h0M951.5 269h0M953.5 269h0M954 269h0M956.5 268.5h0M958 268.5h0M959.5 269h0M961 269h0M961.5 269h0M963.5 269.5h0M964 269h0M966.5 269h0M967 269h0M967.5 268.5h0M969 268.5h0M974 269h0M975 269h0M978 269h0M978 268.5h0M982 269h0M982.5 269h0M983.5 269h0M984 268.5h0M984.5 269h0M985.5 268.5h0M986.5 269h0M988 269h0M988 269h0M994 269h0M994.5 269h0M996.5 269h0M1000.5 269h0M1004 269h0M1006 269h0M1008.5 269h0M1010.5 268.5h0M1011.5 268.5h0M1012.5 269h0M1014.5 268.5h0M1019.5 269h0M1021 269h0M1024.5 269h0M1030.5 269h0M1031 268.5h0M1032 269h0M1034.5 269h0M1037 269h0M1037.5 269.5h0M1040 269h0M1040.5 268.5h0M1042.5 268.5h0M1042.5 270h0M1044 269.5h0M1045.5 268.5h0M1048.5 269h0M1053 269h0M1060 269.5h0M1067 270h0M1068 269.5h0M1070.5 269h0M1077.5 270h0M1078.5 270h0M1080 270h0M1083 270h0M1085.5 268.5h0M1087 269h0M1110 269h0M1111.5 268.5h0M1111.5 270h0M1124.5 270h0M1180 270h0M1212 270h0M765 274.5h0M765.5 272.5h0M766.5 272.5h0M770 275.5h0M770.5 271h0M770.5 274.5h0M770.5 273h0M772 273.5h0M772 271h0M772 275h0M775 272h0M775 271h0M777 272.5h0M778 275.5h0M778 271h0M779 275.5h0M780 272.5h0M780.5 272h0M781 276h0M782 272h0M782.5 275h0M783.5 272h0M784.5 272h0M785 275h0M786 273h0M786.5 274.5h0M787 271h0M788.5 271h0M788.5 272.5h0M789.5 271h0M789.5 274h0M790.5 274.5h0M790.5 271h0M791 275.5h0M793 272h0M794 275.5h0M794 274.5h0M794.5 270.5h0M795.5 273.5h0M795.5 275h0M797 273h0M798.5 272h0M799 271.5h0M799 275.5h0M801 272.5h0M801 273h0M802 275h0M803 274h0M803.5 276h0M805.5 272h0M806 271.5h0M807 271.5h0M807.5 274h0M808 273h0M809 275.5h0M809.5 270.5h0M810.5 274.5h0M811.5 271h0M811.5 272h0M812.5 273.5h0M813.5 271.5h0M813.5 272h0M815 275.5h0M815.5 275.5h0M818 276h0M818.5 271.5h0M819 274h0M820 272.5h0M820.5 273.5h0M821 275.5h0M822 272.5h0M823.5 274h0M823.5 270.5h0M824.5 271h0M826 272.5h0M826.5 271.5h0M827 275h0M827.5 275h0M829 272h0M829 274h0M829 271.5h0M830.5 273.5h0M831.5 274.5h0M832.5 270h0M832.5 272.5h0M833.5 275.5h0M835 274h0M835.5 271.5h0M835.5 271.5h0M835.5 273h0M837 276h0M838.5 275.5h0M839 271.5h0M839 272h0M840.5 274h0M841 271.5h0M841.5 275h0M843 273h0M843.5 274.5h0M845 275.5h0M847 272.5h0M847.5 270.5h0M848.5 273h0M848.5 270h0M848.5 275h0M850.5 274.5h0M853 274h0M853 275h0M854 276h0M857.5 274h0M858 274.5h0M858.5 272h0M859.5 274h0M860.5 275.5h0M860.5 275.5h0M861.5 272.5h0M861.5 275.5h0M862 270h0M864.5 275.5h0M865.5 275.5h0M875 273h0M877 275h0M877 275h0M877 273h0M886 275h0M886.5 272.5h0M887 270.5h0M889 273.5h0M889 273h0M889 275h0M889.5 270h0M894.5 275.5h0M895 274.5h0M904 271h0M907.5 270.5h0M915 270h0M931 272.5h0M931.5 270.5h0M943 270.5h0M1045.5 271h0M1046.5 271h0M1050.5 271h0M1052 270h0M1054 270.5h0M1057 270.5h0M1057 271h0M1062 271.5h0M1070.5 270h0M1072 271.5h0M1073 270h0M1073.5 273h0M1075.5 273.5h0M1076 272.5h0M1078.5 274h0M1080.5 273.5h0M1080.5 273h0M1080.5 274.5h0M1082.5 272h0M1085 274.5h0M1085 273h0M1087.5 270.5h0M1088 272.5h0M1090 273.5h0M1090.5 272h0M1090.5 276h0M1091 276h0M1091.5 270.5h0M1092.5 272.5h0M1093.5 271h0M1096 272h0M1096 273.5h0M1096.5 275.5h0M1096.5 273h0M1097 274.5h0M1098.5 272.5h0M1099.5 270h0M1101.5 273h0M1102.5 270.5h0M1104.5 275.5h0M1105 274.5h0M1107.5 275.5h0M1109 273.5h0M1111 273.5h0M1114.5 274.5h0M1116 273.5h0M1117.5 276h0M1120.5 272.5h0M1125 273h0M1127 271.5h0M1127.5 272.5h0M1132 274.5h0M1142 271.5h0M1146.5 275h0M1155.5 273h0M1161.5 270.5h0M1172 276h0M1185 271.5h0M1189 270.5h0M1205.5 275h0M1228.5 273.5h0M764.5 276.5h0M767 278.5h0M768 278.5h0M772 278h0M772.5 278h0M773 277h0M773.5 278.5h0M773.5 281h0M775 276.5h0M775.5 280h0M776.5 278.5h0M778 280h0M778 278h0M779 280.5h0M781 279h0M782 280h0M783 280.5h0M783.5 280h0M786.5 276.5h0M787 281h0M787 276.5h0M787.5 281.5h0M787.5 282h0M788.5 276.5h0M790.5 277h0M791 276.5h0M792 279h0M793 276.5h0M793.5 279.5h0M793.5 279.5h0M795 281h0M795.5 282h0M796.5 278.5h0M797 278h0M799.5 278h0M799.5 276.5h0M802.5 281h0M803 280.5h0M804.5 278h0M807.5 276h0M808 280.5h0M808 276h0M810.5 279h0M811 281h0M812 279.5h0M812.5 276h0M813.5 279.5h0M814 280.5h0M814.5 276h0M815.5 281h0M816 280h0M816 278.5h0M819 277h0M819 278.5h0M822 279.5h0M825 277h0M825 276.5h0M825.5 280h0M826 280h0M826.5 281.5h0M826.5 280.5h0M828 276h0M828 279.5h0M828 278h0M829 281.5h0M829 276.5h0M832 280.5h0M832 276.5h0M832.5 281.5h0M833 280.5h0M834 277h0M834.5 277h0M834.5 281.5h0M837 281.5h0M837 279.5h0M839 276.5h0M839.5 280h0M840.5 280.5h0M841.5 281.5h0M842 279.5h0M842 278.5h0M843 280h0M844 279.5h0M845 277h0M845 280.5h0M846 277h0M847 281h0M848 278h0M848.5 277h0M849.5 281.5h0M850 278h0M850.5 277h0M852 277h0M852.5 278h0M853 281h0M853 276.5h0M853.5 281h0M855 281.5h0M855.5 282h0M855.5 279.5h0M856 279.5h0M857 276.5h0M857.5 278h0M858 281h0M859 280h0M859.5 280.5h0M860.5 278.5h0M862 277h0M863 280h0M864.5 277.5h0M865.5 280.5h0M867 281.5h0M867 277h0M868 279.5h0M868 280h0M871 280h0M871 278.5h0M873 282h0M873.5 279.5h0M874.5 278.5h0M877 280.5h0M877.5 280h0M878 282h0M879.5 279h0M880 277.5h0M881 280.5h0M881.5 277h0M881.5 281h0M883 278h0M883 281.5h0M884.5 279h0M884.5 280h0M887 280h0M887.5 276.5h0M887.5 281h0M890 277h0M890 280h0M890 282h0M891 280.5h0M892 280.5h0M892.5 280.5h0M894 278.5h0M895.5 280h0M896.5 279.5h0M897 281.5h0M897.5 281.5h0M897.5 277.5h0M898 278.5h0M899 276.5h0M901 277.5h0M901.5 277h0M901.5 279.5h0M905.5 280.5h0M906 279.5h0M906.5 279.5h0M908.5 278h0M909 278.5h0M909.5 280h0M910.5 281.5h0M919 280.5h0M920.5 279h0M1057.5 280h0M1057.5 276.5h0M1058.5 280.5h0M1059.5 277.5h0M1066 279.5h0M1067 277h0M1071 280.5h0M1071 281h0M1071.5 277.5h0M1071.5 277h0M1074 277h0M1074 282h0M1076.5 280h0M1076.5 281h0M1077 281.5h0M1077 276.5h0M1077.5 279h0M1078 277.5h0M1079 279.5h0M1080 279h0M1080.5 278.5h0M1080.5 281h0M1081 280.5h0M1083 281.5h0M1083 278.5h0M1083.5 279.5h0M1085 278.5h0M1086.5 281.5h0M1086.5 276h0M1087.5 279h0M1089.5 279h0M1089.5 281.5h0M1090 278h0M1090.5 277.5h0M1090.5 281h0M1091.5 282h0M1092.5 280h0M1093 278h0M1094 279.5h0M1094.5 277.5h0M1096 276.5h0M1098 281.5h0M1099.5 276.5h0M1100 276.5h0M1102 278h0M1102 278.5h0M1103 278.5h0M1104.5 281h0M1105.5 280.5h0M1106 281h0M1107 277.5h0M1109 281.5h0M1110.5 277h0M1110.5 279h0M1113 282h0M1114.5 281h0M1115 279h0M1115.5 276.5h0M1116.5 279h0M1117 281.5h0M1117 277.5h0M1121.5 280.5h0M1130.5 277.5h0M1145.5 276.5h0M1146 277.5h0M1153.5 278.5h0M1154 279.5h0M1158 279.5h0M1167 276.5h0M1177.5 281.5h0M1209.5 282h0M1231 276h0M1231.5 281.5h0M1245 280.5h0M1252.5 279.5h0M765 284.5h0M766.5 285.5h0M769.5 288h0M770 285h0M773 285.5h0M774 287h0M775.5 286h0M777.5 286.5h0M780.5 287.5h0M783 283.5h0M784 288h0M785.5 282.5h0M787.5 284h0M788 284.5h0M789 283.5h0M789.5 284.5h0M790 285h0M791 282.5h0M791 287.5h0M792.5 285.5h0M793 282.5h0M793.5 288h0M793.5 282h0M795 288h0M795.5 286h0M801 284.5h0M802.5 285h0M803.5 287.5h0M804.5 284.5h0M805 285h0M805.5 285.5h0M806 286h0M807.5 287.5h0M808 285h0M809.5 285.5h0M810.5 284h0M811 283.5h0M811.5 282.5h0M814 286.5h0M815 283h0M815.5 285h0M816 284.5h0M818.5 287.5h0M819 287h0M819 284.5h0M820 287.5h0M821 285.5h0M823 286h0M824 283h0M825 284h0M825.5 286.5h0M826.5 285h0M827.5 286.5h0M828.5 287h0M829.5 286h0M831.5 286h0M831.5 284h0M832.5 282.5h0M833 286.5h0M833 284h0M833.5 286h0M835.5 283.5h0M837 285h0M837.5 286h0M839.5 285.5h0M840 287.5h0M841 282.5h0M842 283h0M842.5 288h0M843 287h0M844 283.5h0M844 284h0M844.5 284.5h0M846 283h0M846.5 285h0M847.5 287.5h0M847.5 286h0M849.5 283h0M849.5 284.5h0M850.5 286h0M851.5 286.5h0M852 283h0M853.5 287.5h0M854 286.5h0M854 283h0M854.5 285.5h0M854.5 283h0M858 286h0M858.5 283h0M859 283.5h0M859 288h0M859 285h0M861 287h0M861.5 286.5h0M864 284.5h0M864.5 287.5h0M866.5 284h0M867.5 286.5h0M867.5 286h0M868 285.5h0M868 284.5h0M868.5 282.5h0M870.5 284.5h0M871.5 283h0M872 285.5h0M872.5 285.5h0M873 288h0M873.5 283h0M874 285h0M874.5 285.5h0M874.5 283h0M874.5 283.5h0M876.5 287h0M877.5 287.5h0M878 284.5h0M878.5 282.5h0M878.5 284h0M879.5 283.5h0M879.5 287h0M880 284h0M882 285.5h0M883 285.5h0M883.5 284.5h0M884 287.5h0M884 283.5h0M884 287h0M887 287.5h0M888 282h0M889.5 282.5h0M890.5 284.5h0M891 284.5h0M892.5 282.5h0M893 284.5h0M894.5 282.5h0M895 284.5h0M896.5 285h0M897.5 284.5h0M899 284h0M899.5 285.5h0M903 286.5h0M903.5 282h0M903.5 283h0M905 285h0M906 283.5h0M906 284h0M906 287h0M907 286.5h0M917 285h0M918.5 283h0M1061 286h0M1061.5 285.5h0M1071.5 283.5h0M1073 284h0M1075.5 282.5h0M1077.5 286.5h0M1078 284.5h0M1078.5 284h0M1085 284.5h0M1086.5 287h0M1087 284h0M1087.5 283h0M1088 286.5h0M1088.5 282.5h0M1090.5 288h0M1090.5 284h0M1090.5 285.5h0M1092.5 283h0M1093.5 287.5h0M1094 286.5h0M1094.5 285.5h0M1095 282.5h0M1096 285.5h0M1096 282.5h0M1097 282.5h0M1097.5 286.5h0M1097.5 286.5h0M1098.5 286h0M1099 285h0M1100 285h0M1100.5 285.5h0M1101.5 283h0M1101.5 283h0M1102 287h0M1103.5 282.5h0M1104.5 282.5h0M1104.5 287.5h0M1105.5 285.5h0M1106.5 285.5h0M1107.5 283.5h0M1108.5 285h0M1110.5 287h0M1111 284.5h0M1112 284.5h0M1112 283h0M1113 286.5h0M1115 284.5h0M1115 282h0M1115.5 282h0M1117.5 286.5h0M1119.5 284.5h0M1120.5 283h0M1120.5 287.5h0M1121 288h0M1122.5 283.5h0M1124 283.5h0M1125.5 284.5h0M1126 287h0M1127.5 285.5h0M1127.5 285h0M1130 284.5h0M1130 286h0M1131.5 284h0M1134.5 288h0M1136 283h0M1136 282.5h0M1141.5 287h0M1151.5 285.5h0M1152.5 286h0M1153.5 283h0M1159.5 287.5h0M1170 283.5h0M1171.5 284h0M1172.5 286h0M1176 284h0M1179 284h0M1195.5 285h0M1203 285.5h0M1215 283.5h0M1216.5 283.5h0M1222 287.5h0M1232 284.5h0M767.5 293h0M768 290.5h0M768 291.5h0M769.5 293h0M770 291.5h0M772.5 293.5h0M773.5 291h0M777 293h0M778 290h0M779 289h0M779 290.5h0M781 291.5h0M781 294h0M782.5 290.5h0M785 292h0M785 291.5h0M787.5 288.5h0M788 291h0M790.5 293h0M793.5 290.5h0M793.5 289h0M795 291h0M795 293h0M798 292h0M798.5 294h0M799 288.5h0M800.5 291h0M802.5 294h0M803 293h0M806 292.5h0M806.5 288h0M807 290.5h0M808.5 291h0M809 288.5h0M809.5 292h0M810 290h0M811.5 292.5h0M812.5 290h0M814 291.5h0M814.5 290.5h0M814.5 293.5h0M815.5 289.5h0M815.5 293h0M816.5 293.5h0M817.5 290.5h0M817.5 294h0M819.5 288.5h0M821.5 294h0M821.5 290h0M822 289h0M823.5 290h0M823.5 293.5h0M824 291.5h0M825.5 289.5h0M826 292.5h0M826.5 291h0M827 292h0M828.5 291h0M828.5 290h0M830 293h0M830.5 288h0M831.5 291.5h0M832 292.5h0M832.5 289.5h0M833.5 288.5h0M834 291h0M834.5 288.5h0M835.5 288.5h0M836 290.5h0M837 293h0M838.5 293.5h0M838.5 289h0M838.5 291h0M840 292.5h0M841.5 289.5h0M841.5 291.5h0M843.5 292h0M843.5 293h0M843.5 290h0M844.5 291.5h0M846 289h0M846.5 288h0M847 292.5h0M847 293h0M849 291h0M850 291h0M850.5 292.5h0M851.5 293.5h0M853 290h0M854.5 288h0M855 291h0M856 293.5h0M856 289h0M858.5 291.5h0M859.5 293h0M860.5 290h0M862.5 290.5h0M864.5 289.5h0M864.5 293h0M864.5 288h0M865.5 291h0M866 290.5h0M866 289.5h0M867 292.5h0M868 290.5h0M868.5 290h0M869 293.5h0M869.5 289.5h0M870 293.5h0M871 289h0M873.5 293h0M873.5 293.5h0M874 288.5h0M876 290.5h0M876.5 293h0M877 289.5h0M878.5 293h0M878.5 289.5h0M879 292.5h0M880 291.5h0M880.5 288h0M881.5 290.5h0M882.5 292h0M884 292h0M884.5 290h0M886 291h0M886 291.5h0M887.5 290.5h0M887.5 289h0M888.5 293h0M889.5 292.5h0M890 289h0M892.5 293.5h0M896.5 293h0M897.5 291.5h0M906 288h0M908 290h0M908 289h0M1063.5 294h0M1082 294h0M1083.5 293h0M1084 289.5h0M1085 289.5h0M1087.5 290h0M1092 293h0M1093.5 292h0M1093.5 289h0M1095 290.5h0M1096 291h0M1096.5 292h0M1097 289h0M1098.5 289h0M1098.5 291h0M1100 293h0M1100.5 293h0M1101 290.5h0M1102 289.5h0M1103 290.5h0M1103 291h0M1104 289.5h0M1106.5 293.5h0M1108.5 291h0M1109 288.5h0M1109 291.5h0M1110.5 292.5h0M1111.5 290.5h0M1112 291h0M1112.5 294h0M1113 288h0M1113 291h0M1113.5 293.5h0M1115 292.5h0M1120 293h0M1123 289h0M1124.5 294h0M1127 294h0M1127.5 292.5h0M1128.5 290h0M1128.5 292h0M1130 290h0M1130 291.5h0M1137.5 291h0M1138.5 291.5h0M1143 292.5h0M1143.5 293.5h0M1144.5 290h0M1148 291h0M1149.5 293h0M1149.5 292h0M1155 291h0M1156.5 292.5h0M1159.5 288.5h0M1162.5 288h0M1170.5 289.5h0M1198.5 289h0M1201 290h0M1201.5 292h0M1245.5 290.5h0M765 299h0M767.5 296h0M769 296.5h0M769.5 295.5h0M770.5 297h0M777 297.5h0M778 294.5h0M781 298h0M782 296h0M786 297h0M788 297h0M789.5 295.5h0M791 299h0M792.5 298h0M793 297h0M793 300h0M793 294h0M793.5 294.5h0M794 295.5h0M796.5 294h0M798.5 299.5h0M798.5 294.5h0M799 298.5h0M800 297.5h0M803.5 298h0M803.5 294h0M804.5 295.5h0M804.5 298.5h0M805.5 298.5h0M806 296.5h0M807 296.5h0M809 295.5h0M809.5 296h0M810 298.5h0M811 298h0M812 299.5h0M813 296h0M815.5 294.5h0M816 299h0M817 300h0M818 297h0M820 297h0M820 299h0M820.5 298h0M821 295h0M821.5 299.5h0M821.5 299h0M822 295.5h0M824 296h0M824.5 294h0M825.5 295h0M825.5 294.5h0M825.5 299.5h0M827.5 299.5h0M829 298h0M830 297h0M830 294.5h0M830.5 297.5h0M831.5 294h0M832 296.5h0M832.5 296h0M833.5 298.5h0M834.5 297.5h0M834.5 299.5h0M834.5 294h0M835.5 294.5h0M836 296h0M837 297.5h0M837.5 298h0M839 297h0M840 297h0M840 298.5h0M842 295.5h0M843 297h0M844.5 296h0M844.5 299h0M845 297h0M846.5 296.5h0M847 297.5h0M848 294.5h0M848.5 300h0M849 297.5h0M849.5 294.5h0M849.5 299.5h0M850 295.5h0M851 296h0M851.5 296.5h0M852.5 295h0M854 294.5h0M855 296h0M855 298.5h0M856 298h0M856.5 299h0M856.5 296h0M857.5 298h0M857.5 296.5h0M858 296.5h0M861.5 300h0M863.5 297.5h0M864.5 298.5h0M864.5 294h0M864.5 295.5h0M867.5 299.5h0M867.5 297.5h0M869 298.5h0M869.5 294.5h0M869.5 300h0M870.5 299h0M871 297h0M871.5 295h0M873.5 296.5h0M874.5 295h0M875.5 297.5h0M876.5 295h0M876.5 295.5h0M877.5 299.5h0M880.5 298.5h0M880.5 299.5h0M882 294h0M884 297h0M884.5 296h0M885 298h0M885 299.5h0M886 294.5h0M887 295.5h0M887 299h0M888 296h0M888 299.5h0M888 296.5h0M888.5 294.5h0M890 297.5h0M890 295.5h0M891.5 294h0M901.5 299.5h0M902 296h0M902.5 298.5h0M906.5 298.5h0M906.5 298h0M909 297.5h0M909 298h0M909.5 300h0M912.5 298h0M913.5 298.5h0M916.5 299h0M916.5 298.5h0M1061.5 295h0M1063.5 295h0M1065 295.5h0M1070 295h0M1071 298h0M1072 296.5h0M1073 299h0M1074 294.5h0M1075 299h0M1075 295h0M1076 296h0M1076.5 297h0M1078 299.5h0M1078 295.5h0M1078.5 295.5h0M1080 295.5h0M1080 296h0M1081.5 299h0M1081.5 299h0M1082.5 296h0M1083 299h0M1084 299.5h0M1084.5 298h0M1085.5 294.5h0M1085.5 297h0M1085.5 294.5h0M1086 297h0M1088.5 297h0M1090.5 296h0M1091 299h0M1091 297h0M1092.5 298h0M1093.5 295.5h0M1094 298h0M1094.5 296h0M1096 296.5h0M1096 298h0M1096.5 296h0M1097 298.5h0M1098 294.5h0M1098.5 298h0M1100 298h0M1101 300h0M1101.5 297.5h0M1102 296.5h0M1102 294.5h0M1107 295h0M1108 296h0M1109 299.5h0M1109.5 296h0M1111.5 296h0M1111.5 297.5h0M1113 298.5h0M1114.5 299.5h0M1115 294.5h0M1116.5 297.5h0M1117.5 297h0M1120 299h0M1125 298h0M1127.5 294h0M1130 298.5h0M1130 298h0M1136.5 296.5h0M1136.5 295.5h0M1137 294h0M1140.5 294.5h0M1141.5 300h0M1147.5 297.5h0M1153.5 296h0M1153.5 295h0M1155 297h0M1177 299h0M764 305h0M769.5 303.5h0M772 300.5h0M773.5 302.5h0M775.5 304.5h0M776.5 302.5h0M778 302.5h0M778.5 304h0M779 301h0M779 301.5h0M780.5 302.5h0M780.5 301.5h0M781.5 305h0M782 304.5h0M783.5 300.5h0M783.5 302h0M785 303h0M785 300.5h0M785 302.5h0M785.5 304.5h0M785.5 305h0M786 304h0M787 305.5h0M787.5 300h0M789.5 301h0M791 300.5h0M792 304h0M792 302h0M792.5 303h0M796.5 303h0M798.5 301.5h0M798.5 305.5h0M800 304h0M801.5 303.5h0M802 304.5h0M802.5 302.5h0M803.5 305h0M803.5 304h0M804.5 302.5h0M807 304h0M807.5 306h0M807.5 304h0M808 302h0M808 306h0M809.5 302.5h0M810.5 301h0M810.5 303.5h0M812.5 304.5h0M814 302.5h0M815 302.5h0M815 305.5h0M815.5 304.5h0M816 302.5h0M817 304h0M817.5 302h0M818.5 302.5h0M821.5 303.5h0M821.5 302.5h0M824.5 301.5h0M825 305.5h0M825.5 303h0M825.5 302h0M826.5 303h0M827 305h0M829.5 305.5h0M831 304.5h0M831 302h0M831 301h0M831 300.5h0M832 304h0M833 302h0M833.5 301h0M835.5 300.5h0M836.5 302.5h0M837 304h0M837 304h0M837.5 301h0M839 301.5h0M842 305.5h0M843 305h0M845 302h0M845 306h0M845 300.5h0M846 305h0M847 302h0M847 303.5h0M848.5 305.5h0M849.5 303.5h0M849.5 304.5h0M850 301.5h0M850.5 300.5h0M852 305h0M852 306h0M853 300.5h0M853.5 302.5h0M855 304h0M855 304.5h0M856 305.5h0M856 303.5h0M856.5 303.5h0M857.5 300.5h0M858.5 301h0M858.5 304.5h0M859.5 305h0M860 304h0M860 301.5h0M861.5 300.5h0M862 304h0M864 302.5h0M864 306h0M867 305.5h0M867 302h0M868.5 303h0M869.5 305.5h0M869.5 304.5h0M869.5 303h0M871 306h0M872.5 304.5h0M872.5 301h0M872.5 303h0M878.5 305.5h0M879.5 303.5h0M881.5 303h0M882 303h0M883 300.5h0M883 306h0M884.5 303.5h0M886.5 302.5h0M886.5 302h0M887.5 300.5h0M895 304h0M897 304h0M898 303h0M899.5 302.5h0M900 301.5h0M915 300h0M1053.5 300.5h0M1055 302h0M1065.5 305h0M1068 301h0M1068.5 304h0M1068.5 302h0M1071 303h0M1071.5 300.5h0M1072 303.5h0M1072.5 302h0M1075 305h0M1075 304h0M1076.5 300.5h0M1078 304h0M1079.5 304.5h0M1079.5 304h0M1079.5 301h0M1081 301h0M1081 305.5h0M1083 303.5h0M1083 306h0M1083 304.5h0M1083 302.5h0M1086 302h0M1086.5 301h0M1086.5 304h0M1087 302h0M1088 300h0M1089 304h0M1089 301h0M1089.5 304.5h0M1091 306h0M1091.5 304.5h0M1092 305h0M1092.5 301.5h0M1093 301h0M1093.5 302.5h0M1095 305h0M1095 301h0M1096.5 303.5h0M1097 305h0M1097.5 300.5h0M1098 303.5h0M1100.5 304.5h0M1102.5 300.5h0M1104.5 300.5h0M1106 304h0M1106 305.5h0M1108.5 305h0M1108.5 304.5h0M1110 305.5h0M1111.5 303h0M1113.5 301h0M1114.5 306h0M1116.5 300h0M1118 302.5h0M1119.5 304.5h0M1121 305.5h0M1123 305.5h0M1126.5 302.5h0M1127 302h0M1146.5 305h0M1151.5 302h0M1154 304h0M1156.5 302h0M1174.5 303h0M1199.5 305h0M1200 305.5h0M1224 304.5h0M1227 304h0M1234 305h0M764 310.5h0M765 310.5h0M765.5 312h0M765.5 310h0M766 307.5h0M767 308h0M768 306h0M768.5 306.5h0M769 309h0M770 307h0M772 311.5h0M772.5 307.5h0M773 308h0M773 308.5h0M775.5 306.5h0M777.5 306.5h0M778.5 307.5h0M778.5 311h0M779 306.5h0M781 310h0M781.5 308.5h0M783 310h0M785.5 307.5h0M786 306.5h0M786 311h0M786.5 311h0M787.5 310h0M787.5 307h0M788 311h0M788 307.5h0M790 312h0M790.5 310h0M790.5 309h0M791.5 309h0M792 307h0M792.5 309h0M794.5 309h0M794.5 306h0M796.5 309.5h0M797.5 310h0M798.5 307.5h0M798.5 308h0M799 309h0M799.5 307h0M800 307.5h0M801 309h0M801 309h0M802.5 306h0M804 309h0M805 308.5h0M805.5 306h0M806.5 311.5h0M806.5 307.5h0M810 307h0M810.5 307.5h0M811.5 311.5h0M812 311.5h0M813 309.5h0M813.5 308h0M815 311.5h0M815 308h0M816 309.5h0M818 309.5h0M818.5 309.5h0M819 311.5h0M819.5 307h0M820.5 306.5h0M821.5 309.5h0M822 307h0M822 310h0M823 312h0M823 308h0M823.5 311h0M824 307h0M825.5 308.5h0M826 307h0M826.5 309.5h0M828 308.5h0M828.5 308.5h0M829.5 312h0M830.5 308h0M831 309h0M831.5 311h0M833 308.5h0M833.5 310h0M835.5 312h0M836 308.5h0M836.5 310h0M836.5 307.5h0M838.5 309.5h0M840 308h0M841 309h0M843 309h0M844 308h0M847 307h0M847 308.5h0M847.5 311.5h0M847.5 310h0M849.5 311h0M851.5 309h0M852 307.5h0M852 312h0M853.5 311h0M855.5 307h0M856 307h0M857.5 310.5h0M859 308.5h0M859.5 312h0M859.5 308.5h0M861 310h0M861 306h0M861 311.5h0M862 310.5h0M862 307.5h0M862.5 311h0M864.5 306.5h0M865 309.5h0M865 310.5h0M866 307h0M867 308h0M867 312h0M867.5 309.5h0M869.5 308.5h0M870 307h0M870.5 311h0M871.5 310h0M872.5 309.5h0M873.5 308.5h0M874.5 310h0M874.5 309.5h0M874.5 311h0M877 307h0M877 309.5h0M880 311h0M880 308.5h0M880 306.5h0M880.5 307h0M882 311h0M882.5 307.5h0M883.5 311h0M885 306.5h0M890 310h0M893.5 312h0M901.5 310h0M901.5 311.5h0M903 308.5h0M905 312h0M905.5 309h0M906 308.5h0M908 307.5h0M922 310h0M923.5 311h0M925.5 311h0M931.5 310.5h0M932 310h0M932.5 310h0M934.5 310h0M935 309.5h0M936.5 310h0M938 309.5h0M940.5 310.5h0M941.5 308h0M941.5 308.5h0M943 310h0M945.5 310h0M947 310.5h0M948.5 310h0M950 310h0M951.5 310h0M953 310h0M953.5 310h0M954 309.5h0M955.5 310h0M957.5 310h0M960 309.5h0M960 310h0M964.5 310h0M965 310h0M968 310h0M972 310h0M972 310.5h0M973.5 310h0M974 309.5h0M975.5 310h0M976 310h0M980 310h0M981.5 310h0M982.5 310h0M988 310h0M990 310h0M991.5 310.5h0M992 310h0M995 310h0M997 310h0M997.5 310h0M998.5 308.5h0M1000 310h0M1001.5 310h0M1002.5 310h0M1004 309.5h0M1006 310h0M1008 310.5h0M1009 310h0M1010.5 309.5h0M1012.5 309.5h0M1013 310h0M1017 310h0M1019.5 310h0M1024 310h0M1025.5 310h0M1026.5 310.5h0M1031.5 309.5h0M1034.5 310h0M1035.5 309h0M1038 309.5h0M1038.5 309.5h0M1042 310.5h0M1042 309.5h0M1043.5 310h0M1046 309.5h0M1046 309h0M1049 309.5h0M1049 309h0M1049.5 308.5h0M1052.5 307h0M1053 310h0M1053.5 307.5h0M1056 309h0M1056 310h0M1057.5 308.5h0M1057.5 310h0M1058 309.5h0M1060.5 309.5h0M1062 308.5h0M1062 309h0M1063 308.5h0M1065.5 306.5h0M1066 310h0M1067.5 307.5h0M1068.5 310h0M1069 309h0M1069 306.5h0M1072.5 307.5h0M1072.5 307.5h0M1073.5 306.5h0M1074 310.5h0M1074 309.5h0M1075 308h0M1076.5 308h0M1078 307.5h0M1079 309.5h0M1081 309.5h0M1081.5 308.5h0M1082 307h0M1083.5 310h0M1084.5 307.5h0M1085 307h0M1086 306.5h0M1087 309h0M1088 308h0M1089 308h0M1091.5 309h0M1093 306h0M1094.5 310.5h0M1095.5 307h0M1095.5 309h0M1095.5 308.5h0M1097.5 309h0M1101 310.5h0M1105.5 307.5h0M1106.5 307h0M1107.5 308h0M1111 306.5h0M1116.5 306.5h0M1122 309.5h0M1125.5 308h0M1127.5 310h0M1129.5 308h0M1130.5 306h0M1162.5 309h0M1189 309.5h0M1252 306.5h0M766 315.5h0M766 318h0M766.5 314.5h0M767 313h0M768 315.5h0M768 316.5h0M769 315.5h0M769.5 313h0M770 315.5h0M771 315.5h0M771.5 317.5h0M772.5 316h0M774 316.5h0M775 317h0M775 317.5h0M776.5 315.5h0M777.5 315h0M779 313h0M779 312.5h0M779 313h0M780.5 314.5h0M782.5 314.5h0M782.5 312.5h0M783 312.5h0M783.5 315.5h0M783.5 313h0M784 316h0M785.5 316.5h0M786.5 318h0M786.5 316h0M788 316.5h0M788.5 314h0M789.5 318h0M790.5 313.5h0M790.5 318h0M792 316h0M792.5 314h0M793 313h0M793.5 313.5h0M794 317h0M797.5 317.5h0M797.5 313.5h0M799.5 312h0M801 314.5h0M802 317.5h0M802 316.5h0M803.5 317h0M805 316.5h0M806 315.5h0M809 317h0M809 316h0M809 315h0M810 313.5h0M810.5 317.5h0M810.5 313h0M811.5 316.5h0M812.5 312.5h0M812.5 316h0M813.5 314h0M814 315h0M815.5 313.5h0M816 316h0M816 317.5h0M816.5 312.5h0M816.5 314.5h0M817 313.5h0M817.5 312.5h0M820 316.5h0M821 315.5h0M821 314h0M821.5 315h0M822.5 317h0M823.5 317.5h0M823.5 313.5h0M824.5 314h0M825 315.5h0M826.5 312h0M827 317.5h0M827 317h0M828 314h0M828 312h0M830 315.5h0M830 312h0M831.5 315h0M832 317h0M832.5 317h0M833.5 314.5h0M834.5 315h0M835.5 312h0M836 313.5h0M837 313.5h0M838 317.5h0M838 316h0M838.5 314h0M839 316h0M840.5 313h0M840.5 315.5h0M841.5 316.5h0M841.5 317h0M843 313h0M843 313h0M845 313h0M845.5 316.5h0M847.5 314h0M847.5 318h0M848 314h0M848.5 315h0M849.5 316h0M850.5 312.5h0M851.5 315h0M852 317h0M853 316h0M853.5 312.5h0M854.5 316h0M854.5 313h0M855 315.5h0M856 314.5h0M858 317.5h0M858 313.5h0M858.5 315.5h0M859 318h0M861 314.5h0M861 317.5h0M861.5 315h0M864.5 313.5h0M865 316.5h0M866.5 315h0M867 315h0M868 316h0M868.5 314h0M869 318h0M869 314h0M870 316.5h0M871 317.5h0M872 313.5h0M872.5 314.5h0M876 317h0M877.5 313.5h0M877.5 317h0M878 313.5h0M879 316.5h0M879.5 317h0M879.5 314.5h0M881 317h0M881.5 313h0M883 314.5h0M883 317h0M883.5 317h0M883.5 315.5h0M884 314.5h0M886.5 317.5h0M888 314.5h0M889 316.5h0M890.5 318h0M890.5 313h0M891 314h0M891.5 315h0M892.5 313h0M893 315h0M893 312.5h0M893 316h0M894.5 312.5h0M895.5 318h0M896 316h0M896 314.5h0M896 312h0M896.5 316h0M898.5 314.5h0M899 315.5h0M899.5 312.5h0M899.5 317h0M901.5 318h0M902.5 312.5h0M904 317.5h0M904.5 315.5h0M905 312.5h0M905.5 314.5h0M906 313h0M906 312.5h0M907.5 315h0M910.5 313h0M910.5 313.5h0M911.5 313.5h0M911.5 318h0M913 316h0M913.5 316.5h0M914 312.5h0M916 314h0M917 313h0M919.5 314.5h0M919.5 313h0M922 313h0M924.5 312.5h0M924.5 312.5h0M765 321.5h0M765 323h0M766 320.5h0M766 319h0M766.5 319h0M767 321.5h0M768.5 323.5h0M769 318h0M769 323.5h0M769.5 322.5h0M771 319.5h0M771.5 322h0M771.5 318.5h0M772.5 321h0M773.5 319h0M775 324h0M777.5 320h0M778 321h0M779 320h0M779.5 320h0M781.5 322.5h0M783 322h0M783.5 320h0M783.5 318h0M786 321.5h0M786 321.5h0M787.5 319h0M788 319.5h0M788 323h0M788.5 323.5h0M790 324h0M790.5 321h0M792 320.5h0M793 318.5h0M793.5 323.5h0M794 320.5h0M796 322h0M796 321h0M797.5 321.5h0M798.5 319h0M799 318h0M799 320h0M800.5 319h0M800.5 322h0M800.5 323.5h0M801.5 321h0M802 318h0M802 320h0M804 322.5h0M806.5 320h0M807 323.5h0M808.5 322h0M810 320.5h0M811.5 321.5h0M814.5 321h0M815 321.5h0M817 320h0M817.5 320h0M819.5 318.5h0M819.5 322h0M820.5 319.5h0M822 323h0M822.5 319.5h0M822.5 319.5h0M823 322.5h0M823.5 323h0M825 320.5h0M825.5 323.5h0M829 323.5h0M830.5 322h0M831 323.5h0M831 321h0M831.5 319h0M833.5 319h0M835.5 319.5h0M835.5 322.5h0M836 320h0M837 322h0M837.5 323h0M837.5 323h0M841 323.5h0M843 319.5h0M846 321.5h0M846.5 318h0M847 323.5h0M847.5 318h0M848 321.5h0M848 321h0M850.5 319h0M850.5 319h0M851 322h0M852.5 319.5h0M852.5 323h0M852.5 321h0M854.5 319.5h0M855 323h0M855 320h0M855 321h0M856.5 318.5h0M857 322.5h0M857.5 319h0M857.5 320.5h0M860 319.5h0M860.5 323h0M862.5 321.5h0M862.5 320h0M863 321.5h0M864.5 323.5h0M865 319.5h0M865.5 319.5h0M866 321h0M866.5 320h0M866.5 324h0M869.5 319.5h0M870.5 321.5h0M870.5 322h0M872 321.5h0M872.5 318.5h0M873 320h0M874 319h0M874.5 323.5h0M875 320h0M875.5 318h0M875.5 322.5h0M876.5 320.5h0M877 319h0M878 322.5h0M878 322.5h0M880 319h0M880 322h0M880.5 321.5h0M882 321.5h0M882 320.5h0M884 322.5h0M885 318.5h0M886.5 320.5h0M886.5 323h0M889 318.5h0M889.5 323.5h0M891 322.5h0M891 320.5h0M893 322h0M893.5 321.5h0M897 320.5h0M897.5 320.5h0M899 323.5h0M900.5 321h0M901.5 320h0M901.5 319.5h0M904 320h0M906.5 318h0M764 329h0M765 325.5h0M768.5 326h0M771.5 327h0M774 325.5h0M775.5 329.5h0M776 327h0M776.5 327h0M778 325.5h0M779 327.5h0M779.5 324.5h0M779.5 329h0M780 329.5h0M782.5 329.5h0M783 326.5h0M785 324.5h0M785 326.5h0M786 326.5h0M787 328h0M787.5 325.5h0M788 324h0M788 329h0M788.5 325.5h0M791.5 328.5h0M794.5 329.5h0M795 327h0M796 326h0M796.5 325h0M798 328.5h0M799.5 324h0M799.5 324.5h0M801.5 326.5h0M801.5 328.5h0M802 328h0M802.5 326h0M803.5 324.5h0M804 327.5h0M804.5 330h0M806.5 328h0M807 325h0M808 324h0M808.5 329h0M810 325h0M810 325.5h0M810.5 329.5h0M811 328.5h0M812 326h0M813.5 330h0M814 325h0M814 325h0M815 329.5h0M816.5 330h0M817.5 326h0M820 329h0M821 325h0M821.5 328.5h0M822 325h0M822 329.5h0M823 324h0M823.5 330h0M824 324.5h0M825.5 329.5h0M828 324.5h0M831.5 326.5h0M831.5 329.5h0M834 325h0M834.5 324.5h0M834.5 326h0M835 328h0M836.5 325h0M838.5 326h0M839 325.5h0M840 325.5h0M842.5 327h0M843 327h0M843.5 330h0M844 325.5h0M844.5 328h0M845.5 326h0M847 330h0M847.5 330h0M848 329h0M849 328h0M849 329h0M850.5 329.5h0M851.5 324.5h0M852 328h0M852.5 324.5h0M853.5 327h0M854.5 325h0M858 327h0M860.5 326.5h0M861 329h0M861.5 328.5h0M861.5 325.5h0M862 324h0M864 329.5h0M866.5 327.5h0M867 329h0M867 329.5h0M869 325.5h0M869.5 327h0M869.5 326.5h0M871 329h0M871 326.5h0M871 324.5h0M871.5 324h0M872 324.5h0M873.5 326.5h0M873.5 329.5h0M873.5 329.5h0M875.5 324h0M876 329h0M878 326.5h0M880.5 324.5h0M880.5 329.5h0M880.5 326.5h0M882.5 324.5h0M883.5 325.5h0M886 330h0M886 326h0M886.5 324.5h0M887.5 326h0M888.5 326h0M889.5 327.5h0M767 334.5h0M767 332h0M768 335h0M770.5 334h0M774.5 330h0M775 331h0M776 332.5h0M776 332h0M776 330.5h0M777 332h0M782 332h0M783 333h0M785 335h0M785.5 331.5h0M789.5 333.5h0M789.5 332h0M790 331.5h0M792.5 335.5h0M793.5 334h0M797 331h0M797 331h0M800.5 332h0M800.5 330h0M801 332.5h0M801 333h0M801.5 331.5h0M801.5 334.5h0M802 332h0M803 332.5h0M803 331h0M806 331.5h0M806.5 332.5h0M807 334.5h0M807.5 333.5h0M808 330.5h0M809.5 331.5h0M809.5 331.5h0M810 335.5h0M810 333.5h0M811 334.5h0M813.5 331h0M814 330.5h0M815 332h0M816.5 334h0M819 331.5h0M820.5 333h0M821.5 330.5h0M822 334.5h0M822 333.5h0M822.5 335.5h0M824 333.5h0M824 333h0M825 331h0M825 331h0M827 330h0M828 335h0M829.5 334h0M830.5 330.5h0M831 334.5h0M831 333.5h0M831.5 334h0M832.5 331.5h0M833.5 331.5h0M834.5 333.5h0M835 335h0M837.5 333h0M839 335.5h0M839.5 336h0M842.5 331h0M843 334.5h0M844.5 334h0M846 330.5h0M849 333.5h0M853 333h0M855 331.5h0M855.5 330h0M858.5 334.5h0M858.5 333.5h0M859.5 331.5h0M861.5 335h0M863 335.5h0M864 332.5h0M864 332h0M864.5 332.5h0M870.5 331h0M871 332.5h0M872.5 331.5h0M875 335.5h0M877.5 335h0M878.5 336h0M765 341.5h0M770.5 338h0M771 341h0M771.5 337h0M771.5 341h0M772 340h0M776 339.5h0M777 337h0M777.5 339.5h0M777.5 341h0M781 337.5h0M782.5 340.5h0M782.5 339.5h0M783.5 338.5h0M784 341h0M784 340h0M786 337h0M787.5 341.5h0M789 339.5h0M789 340.5h0M789.5 338h0M789.5 340h0M792 337.5h0M793.5 336h0M794.5 339.5h0M795 338h0M796 339.5h0M797.5 341h0M799 338h0M800 337.5h0M802 339.5h0M804 336.5h0M804 339.5h0M804.5 341h0M808.5 341.5h0M809 340.5h0M810 337h0M812.5 336.5h0M815.5 340.5h0M816 342h0M817.5 340h0M817.5 339.5h0M817.5 340h0M819.5 337.5h0M820.5 340h0M821.5 341.5h0M823.5 336.5h0M824.5 339h0M826 341.5h0M826.5 341h0M827 337.5h0M827.5 340.5h0M828.5 341h0M829 337h0M829.5 337h0M830.5 339h0M831.5 341h0M833.5 336.5h0M835.5 341.5h0M836.5 339.5h0M839.5 336.5h0M842 339h0M843 341h0M844.5 341.5h0M845.5 338h0M848.5 336.5h0M849 340.5h0M854.5 336.5h0M856.5 339.5h0M858 339h0M859 339.5h0M860 337.5h0M862.5 338h0M872.5 341.5h0M765 348h0M765.5 344h0M767 342h0M769 342.5h0M770 348h0M770 348h0M770 343.5h0M771 345.5h0M771.5 344h0M772.5 345h0M773 346h0M775 346h0M776.5 346h0M779 342.5h0M782 346h0M784.5 343.5h0M785 344h0M786 343.5h0M786.5 347.5h0M787 346.5h0M790 342h0M790.5 342.5h0M795 342.5h0M796 347.5h0M799.5 346h0M799.5 346.5h0M801 344h0M802.5 342h0M803.5 343.5h0M805.5 345.5h0M806.5 347h0M807.5 342.5h0M809.5 346h0M813.5 346.5h0M815.5 343h0M820 343.5h0M823.5 346.5h0M827.5 345.5h0M829 342h0M830.5 345h0M832.5 344h0M833 345h0M837 346h0M837.5 347h0M837.5 343h0M838 345.5h0M839 345.5h0M839.5 347h0M844.5 346h0M845.5 345h0M846 343h0M847 348h0M848 342h0M850.5 344.5h0M851 346h0M853.5 347h0M859 343h0M862 347h0M862.5 343.5h0M866.5 342h0M868 342h0M764 349.5h0M765 352.5h0M765.5 348.5h0M765.5 350h0M769 352h0M771 352h0M771 352.5h0M774.5 353h0M775 348h0M777.5 349h0M778.5 350h0M779.5 348.5h0M779.5 350.5h0M779.5 351.5h0M780.5 353h0M782 349h0M785.5 352.5h0M786.5 351h0M787 353.5h0M787.5 352.5h0M788 351h0M789 350.5h0M789.5 348.5h0M790 352.5h0M794.5 351.5h0M795 349h0M795.5 348.5h0M796 348.5h0M797 353.5h0M798 350.5h0M799.5 350.5h0M800 349.5h0M800.5 351h0M802.5 348.5h0M804 348.5h0M804 352.5h0M806.5 351h0M808.5 348.5h0M810 352h0M810.5 352h0M810.5 353.5h0M811 348.5h0M813.5 349h0M813.5 353.5h0M814.5 351.5h0M815 351.5h0M818 350h0M818 352h0M821 350.5h0M824.5 351.5h0M824.5 352.5h0M825.5 348.5h0M828 348.5h0M829 348.5h0M829.5 349h0M831.5 353.5h0M836.5 353h0M839 348.5h0M843 353.5h0M849.5 353h0M853 349h0M855.5 348.5h0M767 355h0M771.5 360h0M772 358h0M772 356.5h0M772.5 357h0M775 354.5h0M776 358.5h0M779.5 356h0M783.5 357h0M789 356h0M789 359h0M789 355h0M789 356h0M790 358.5h0M794 355.5h0M795 358.5h0M795.5 359h0M796 356h0M801.5 357.5h0M802.5 359.5h0M803.5 358h0M803.5 354.5h0M805.5 355h0M807 357h0M809.5 359h0M811.5 355.5h0M812 356h0M814 356.5h0M819 356h0M819.5 360h0M822 358.5h0M825.5 358.5h0M843 354.5h0M859 355h0M765 360h0M766 363h0M769.5 362.5h0M769.5 361h0M776 365h0M779.5 361h0M780.5 360.5h0M781 364h0M782.5 366h0M784.5 364.5h0M786.5 364h0M789 364.5h0M790 366h0M793.5 361h0M794 362.5h0M797 363.5h0M800 361.5h0M803.5 361h0M806 362h0M806.5 360h0M812.5 360.5h0M818.5 362h0M819 362.5h0M826.5 365h0M829 364h0M837 361.5h0M838 361.5h0M838.5 362h0M842 364.5h0M842 361h0M850.5 362.5h0M769 368.5h0M771.5 366.5h0M775 369h0M777 366.5h0M782 371h0M785.5 371h0M787 368h0M788 367.5h0M788.5 369.5h0M789 370.5h0M790 368.5h0M790.5 371.5h0M792.5 366.5h0M794.5 367.5h0M796 369h0M799 370.5h0M799 370.5h0M799 370h0M802.5 368.5h0M805 368.5h0M806.5 371.5h0M807 371.5h0M807.5 370h0M816 366.5h0M829 367h0M834.5 371h0M769 374h0M769.5 377h0M771.5 373.5h0M773 372.5h0M773 378h0M775.5 373h0M780 374h0M796 372h0M806.5 373h0M813 373h0M813.5 377.5h0M820.5 374h0M825.5 377h0M829 374h0M839.5 373.5h0M768 382h0M779.5 382h0M782 378.5h0M788 380h0M790 381.5h0M798 381h0M809.5 382.5h0M812.5 383h0M829 379.5h0M830 382.5h0M783 385.5h0M784.5 388.5h0M788 386.5h0M796.5 386h0M802 386h0M803 386.5h0M813 385.5h0M764 391h0M769 393.5h0M769.5 394.5h0M770 394.5h0M778.5 393.5h0M784.5 391.5h0M788.5 393h0M789 395h0M792.5 395h0M797 394.5h0M765 400h0M765.5 401h0M776.5 398.5h0M780.5 397.5h0M765 405.5h0M768 402.5h0M769 404.5h0M773 402.5h0M781 407.5h0M782.5 407h0M788.5 405.5h0M801.5 403.5h0M814.5 407.5h0M817.5 406.5h0M819.5 403.5h0M767.5 411h0M770 412h0M779.5 412h0M786.5 411.5h0M801.5 413.5h0M781 416h0M802 414h0M768.5 426h0M774 423.5h0M782 426h0M794 422.5h0M809.5 421.5h0M772 426.5h0M781 427h0M786.5 426.5h0M779.5 434h0M791 435.5h0M793 432.5h0M775.5 438h0M783 443h0M773.5 454.5h0M774.5 453h0M769 456h0M771.5 461h0M792 466h0M782 477h0" stroke-width="3.3" fill="none" stroke="#808080" stroke-opacity="0.62" stroke-linecap="round"/>
<path d="M777 96.5h2M777 97.5h1M806 160.5h2M817 177.5h2M816 178.5h3M828 197.5h1M827 198.5h1M857 204.5h2M843 206.5h1M843 207.5h2M843 208.5h2M951 221.5h1M846 222.5h2M951 222.5h1M917 226.5h2M917 227.5h2M917 228.5h1M921 228.5h1M967 228.5h2M905 229.5h1M921 229.5h1M966 229.5h2M852 230.5h2M905 230.5h1M922 230.5h1M953 230.5h2M967 230.5h1M852 231.5h3M905 231.5h1M954 231.5h2M967 231.5h2M1025 231.5h1M852 232.5h3M926 232.5h1M954 232.5h2M967 232.5h2M922 233.5h1M928 233.5h1M955 233.5h2M968 233.5h1M927 234.5h1M1000 234.5h1M971 235.5h1M1000 235.5h1M1003 235.5h1M927 236.5h1M967 236.5h1M1002 236.5h1M1018 236.5h1M967 237.5h1M1018 237.5h1M907 238.5h1M961 238.5h2M887 239.5h2M902 239.5h1M909 239.5h1M950 239.5h2M960 239.5h2M975 239.5h1M983 239.5h1M887 240.5h3M902 240.5h1M909 240.5h3M916 240.5h1M950 240.5h2M960 240.5h3M974 240.5h3M1013 240.5h1M1019 240.5h2M909 241.5h3M951 241.5h1M957 241.5h1M960 241.5h2M974 241.5h2M1004 241.5h2M1019 241.5h3M909 242.5h2M927 242.5h1M955 242.5h3M967 242.5h2M974 242.5h2M1003 242.5h3M1011 242.5h2M1018 242.5h3M1041 242.5h3M870 243.5h2M918 243.5h1M926 243.5h3M933 243.5h3M955 243.5h3M967 243.5h1M974 243.5h1M976 243.5h2M1003 243.5h3M1018 243.5h1M1041 243.5h3M870 244.5h1M892 244.5h1M917 244.5h3M926 244.5h3M933 244.5h3M963 244.5h1M966 244.5h3M975 244.5h3M979 244.5h1M1004 244.5h2M1012 244.5h1M870 245.5h3M892 245.5h2M899 245.5h2M915 245.5h1M917 245.5h1M919 245.5h1M924 245.5h1M926 245.5h3M933 245.5h3M946 245.5h2M962 245.5h2M966 245.5h3M975 245.5h4M986 245.5h1M1004 245.5h1M1021 245.5h1M1033 245.5h1M870 246.5h2M891 246.5h2M898 246.5h3M925 246.5h7M946 246.5h3M962 246.5h1M966 246.5h1M970 246.5h3M980 246.5h3M984 246.5h3M997 246.5h1M1001 246.5h1M1033 246.5h3M1039 246.5h1M896 247.5h1M898 247.5h4M910 247.5h1M924 247.5h3M928 247.5h3M934 247.5h1M969 247.5h5M975 247.5h1M980 247.5h3M984 247.5h3M996 247.5h1M1000 247.5h2M1005 247.5h1M1034 247.5h4M886 248.5h4M897 248.5h1M899 248.5h1M911 248.5h1M923 248.5h4M933 248.5h3M946 248.5h4M970 248.5h3M980 248.5h3M986 248.5h2M994 248.5h3M1005 248.5h2M1011 248.5h1M1034 248.5h3M877 249.5h1M885 249.5h5M894 249.5h2M898 249.5h2M901 249.5h2M915 249.5h4M920 249.5h1M924 249.5h2M932 249.5h5M946 249.5h3M950 249.5h4M966 249.5h2M974 249.5h2M979 249.5h1M981 249.5h1M986 249.5h1M990 249.5h1M992 249.5h4M1005 249.5h1M1010 249.5h2M885 250.5h1M887 250.5h4M898 250.5h3M915 250.5h4M922 250.5h1M924 250.5h2M931 250.5h2M934 250.5h1M946 250.5h3M950 250.5h4M958 250.5h1M966 250.5h3M973 250.5h4M978 250.5h4M987 250.5h4M993 250.5h3M1005 250.5h2M1010 250.5h2M1059 250.5h1M1067 250.5h1M887 251.5h1M890 251.5h2M898 251.5h5M908 251.5h1M916 251.5h1M922 251.5h1M932 251.5h1M945 251.5h4M950 251.5h4M955 251.5h1M957 251.5h3M961 251.5h1M966 251.5h3M973 251.5h10M986 251.5h1M988 251.5h2M993 251.5h3M1004 251.5h1M1006 251.5h1M1009 251.5h3M1028 251.5h1M1067 251.5h1M1071 251.5h1M880 252.5h1M886 252.5h1M888 252.5h3M898 252.5h1M900 252.5h3M906 252.5h3M926 252.5h1M928 252.5h4M936 252.5h1M945 252.5h2M950 252.5h10M961 252.5h2M966 252.5h4M975 252.5h1M977 252.5h5M986 252.5h4M1005 252.5h1M1008 252.5h3M1016 252.5h1M1020 252.5h1M1030 252.5h1M1032 252.5h1M1046 252.5h1M878 253.5h1M880 253.5h1M882 253.5h2M886 253.5h3M890 253.5h3M895 253.5h1M900 253.5h3M907 253.5h2M926 253.5h1M928 253.5h3M943 253.5h1M945 253.5h3M951 253.5h13M966 253.5h5M977 253.5h4M986 253.5h3M995 253.5h2M1004 253.5h2M1008 253.5h1M1012 253.5h5M1019 253.5h1M1025 253.5h2M882 254.5h3M886 254.5h2M891 254.5h6M905 254.5h3M927 254.5h4M941 254.5h3M945 254.5h1M950 254.5h2M955 254.5h18M974 254.5h3M978 254.5h2M985 254.5h5M994 254.5h4M1003 254.5h2M1006 254.5h4M1011 254.5h5M1018 254.5h2M1026 254.5h2M1046 254.5h1M882 255.5h2M885 255.5h4M892 255.5h5M905 255.5h4M910 255.5h2M914 255.5h3M922 255.5h2M929 255.5h3M941 255.5h3M947 255.5h1M949 255.5h2M955 255.5h13M969 255.5h11M985 255.5h8M994 255.5h3M1002 255.5h1M1004 255.5h5M1012 255.5h3M1016 255.5h3M1024 255.5h3M1028 255.5h1M1030 255.5h5M1050 255.5h1M1057 255.5h2M885 256.5h3M892 256.5h8M905 256.5h4M910 256.5h3M914 256.5h4M922 256.5h2M926 256.5h1M929 256.5h4M938 256.5h1M941 256.5h2M948 256.5h4M955 256.5h11M967 256.5h1M970 256.5h10M986 256.5h7M995 256.5h5M1002 256.5h3M1006 256.5h3M1011 256.5h1M1015 256.5h5M1023 256.5h4M1030 256.5h5M1046 256.5h1M1048 256.5h1M1050 256.5h1M1057 256.5h2M891 257.5h9M906 257.5h2M910 257.5h7M921 257.5h11M934 257.5h1M936 257.5h3M945 257.5h2M948 257.5h2M955 257.5h6M966 257.5h3M972 257.5h2M978 257.5h3M984 257.5h24M1011 257.5h9M1023 257.5h3M1029 257.5h1M1031 257.5h4M1038 257.5h3M1045 257.5h4M1057 257.5h2M889 258.5h3M893 258.5h9M903 258.5h1M905 258.5h2M911 258.5h30M943 258.5h4M949 258.5h2M955 258.5h8M964 258.5h3M970 258.5h3M975 258.5h1M979 258.5h2M982 258.5h21M1005 258.5h3M1010 258.5h9M1024 258.5h2M1031 258.5h4M1038 258.5h4M1044 258.5h4M1064 258.5h1M890 259.5h2M895 259.5h1M904 259.5h2M911 259.5h5M917 259.5h8M926 259.5h15M942 259.5h6M949 259.5h3M954 259.5h13M969 259.5h26M996 259.5h7M1004 259.5h4M1010 259.5h7M1024 259.5h4M1030 259.5h5M1038 259.5h4M1045 259.5h4M1064 259.5h2M891 260.5h1M896 260.5h1M904 260.5h2M912 260.5h13M926 260.5h10M938 260.5h3M942 260.5h6M949 260.5h3M954 260.5h63M1021 260.5h1M1023 260.5h5M1030 260.5h5M1037 260.5h5M1046 260.5h3M1064 260.5h1M892 261.5h1M904 261.5h4M911 261.5h1M913 261.5h2M918 261.5h18M939 261.5h9M949 261.5h3M953 261.5h5M959 261.5h6M966 261.5h51M1019 261.5h16M1036 261.5h5M1048 261.5h1M895 262.5h2M902 262.5h11M917 262.5h20M940 262.5h12M953 262.5h58M1012 262.5h4M1018 262.5h10M1029 262.5h2M1032 262.5h9M1055 262.5h1M1071 262.5h3M895 263.5h1M901 263.5h8M910 263.5h3M916 263.5h22M940 263.5h3M944 263.5h7M952 263.5h31M984 263.5h24M1012 263.5h6M1019 263.5h13M1034 263.5h7M1045 263.5h1M1053 263.5h4M1071 263.5h4M901 264.5h51M953 264.5h70M1027 264.5h14M1044 264.5h3M1052 264.5h4M1071 264.5h3M904 265.5h137M1044 265.5h3M1048 265.5h2M1052 265.5h4M1070 265.5h5M1079 265.5h1M907 266.5h37M945 266.5h93M1046 266.5h5M1052 266.5h3M1058 266.5h1M1060 266.5h1M1068 266.5h6M1088 266.5h2M1093 266.5h3M911 267.5h26M940 267.5h3M946 267.5h60M1007 267.5h26M1034 267.5h4M1047 267.5h4M1053 267.5h1M1058 267.5h1M1069 267.5h5M1088 267.5h1M915 268.5h1M917 268.5h1M923 268.5h1M925 268.5h10M940 268.5h2M949 268.5h2M952 268.5h8M961 268.5h8M970 268.5h15M986 268.5h3M999 268.5h2M1002 268.5h2M1008 268.5h4M1019 268.5h2M1023 268.5h2M1047 268.5h2M1071 268.5h2M935 308.5h1M940 308.5h3M953 308.5h1M958 308.5h2M974 308.5h2M979 308.5h1M987 308.5h1M991 308.5h1M1007 308.5h3M1037 308.5h1M927 309.5h5M933 309.5h5M940 309.5h4M946 309.5h26M973 309.5h39M1014 309.5h1M1017 309.5h3M1021 309.5h5M1033 309.5h2M1036 309.5h4M1041 309.5h2M1054 309.5h3M921 310.5h3M925 310.5h7M933 310.5h5M939 310.5h6M946 310.5h82M1032 310.5h11M1045 310.5h1M1054 310.5h3M1062 310.5h2M921 311.5h16M939 311.5h7M947 311.5h73M1022 311.5h7M1030 311.5h10M1041 311.5h1M1045 311.5h2M1051 311.5h2M1062 311.5h2M1080 311.5h1M916 312.5h1M918 312.5h19M940 312.5h6M947 312.5h71M1019 312.5h1M1023 312.5h13M1037 312.5h1M1039 312.5h2M1044 312.5h3M1079 312.5h2M912 313.5h1M914 313.5h1M916 313.5h1M918 313.5h20M939 313.5h81M1022 313.5h6M1029 313.5h9M1039 313.5h2M1045 313.5h4M910 314.5h2M914 314.5h2M918 314.5h30M949 314.5h11M961 314.5h48M1011 314.5h9M1021 314.5h8M1031 314.5h11M1043 314.5h2M1046 314.5h4M1064 314.5h1M913 315.5h2M918 315.5h8M927 315.5h21M949 315.5h33M984 315.5h36M1021 315.5h8M1031 315.5h3M1035 315.5h7M1044 315.5h2M1047 315.5h2M1063 315.5h1M913 316.5h2M918 316.5h15M934 316.5h10M945 316.5h1M949 316.5h3M953 316.5h17M971 316.5h7M979 316.5h31M1013 316.5h7M1021 316.5h3M1026 316.5h1M1031 316.5h1M1037 316.5h1M1039 316.5h3M1044 316.5h2M1047 316.5h1M1063 316.5h1M908 317.5h9M918 317.5h25M948 317.5h2M951 317.5h17M970 317.5h12M983 317.5h15M1000 317.5h10M1023 317.5h1M1029 317.5h3M1039 317.5h2M1045 317.5h3M1049 317.5h1M1058 317.5h1M1063 317.5h1M907 318.5h4M913 318.5h4M919 318.5h3M923 318.5h2M926 318.5h2M931 318.5h2M934 318.5h9M952 318.5h11M965 318.5h3M969 318.5h4M975 318.5h4M981 318.5h10M997 318.5h14M1017 318.5h1M1028 318.5h4M1040 318.5h1M1044 318.5h4M1049 318.5h1M1051 318.5h1M1057 318.5h1M1063 318.5h1M908 319.5h3M912 319.5h8M922 319.5h3M938 319.5h5M951 319.5h8M960 319.5h2M965 319.5h3M970 319.5h3M976 319.5h3M981 319.5h2M984 319.5h2M988 319.5h2M996 319.5h6M1005 319.5h6M1016 319.5h4M1024 319.5h8M1033 319.5h1M1045 319.5h7M907 320.5h6M914 320.5h5M923 320.5h3M932 320.5h2M939 320.5h2M950 320.5h8M959 320.5h6M966 320.5h7M976 320.5h2M982 320.5h3M988 320.5h1M997 320.5h5M1004 320.5h6M1016 320.5h4M1023 320.5h6M1031 320.5h4M1045 320.5h4M901 321.5h2M911 321.5h2M916 321.5h4M923 321.5h2M931 321.5h3M950 321.5h3M954 321.5h7M962 321.5h1M966 321.5h5M972 321.5h1M977 321.5h1M981 321.5h4M988 321.5h1M990 321.5h1M993 321.5h1M998 321.5h3M1004 321.5h5M1014 321.5h1M1016 321.5h3M1023 321.5h5M1032 321.5h4M1040 321.5h3M902 322.5h1M907 322.5h1M909 322.5h4M917 322.5h8M931 322.5h2M934 322.5h1M950 322.5h3M955 322.5h7M967 322.5h5M982 322.5h3M987 322.5h5M997 322.5h2M1003 322.5h3M1032 322.5h5M1040 322.5h3M1047 322.5h1M911 323.5h1M918 323.5h7M934 323.5h3M950 323.5h3M956 323.5h1M958 323.5h2M967 323.5h5M978 323.5h2M981 323.5h4M988 323.5h4M994 323.5h2M1003 323.5h3M1035 323.5h1M1046 323.5h3M905 324.5h1M918 324.5h7M928 324.5h1M934 324.5h3M969 324.5h2M983 324.5h3M989 324.5h3M993 324.5h1M1004 324.5h2M1011 324.5h1M1020 324.5h2M1046 324.5h1M893 325.5h1M903 325.5h3M916 325.5h1M919 325.5h3M926 325.5h3M934 325.5h3M942 325.5h2M970 325.5h2M982 325.5h3M987 325.5h3M991 325.5h4M1020 325.5h1M903 326.5h4M915 326.5h1M920 326.5h1M926 326.5h1M933 326.5h2M941 326.5h4M946 326.5h1M950 326.5h1M970 326.5h3M982 326.5h1M984 326.5h1M987 326.5h4M992 326.5h1M897 327.5h1M903 327.5h1M905 327.5h1M915 327.5h1M921 327.5h4M926 327.5h1M933 327.5h1M942 327.5h11M970 327.5h3M982 327.5h1M988 327.5h3M1019 327.5h1M897 328.5h1M920 328.5h3M924 328.5h2M944 328.5h8M971 328.5h1M977 328.5h2M981 328.5h2M988 328.5h2M1002 328.5h1M1004 328.5h1M1019 328.5h2M897 329.5h1M915 329.5h1M920 329.5h5M946 329.5h1M951 329.5h4M978 329.5h1M986 329.5h1M1001 329.5h3M1005 329.5h2M1018 329.5h1M894 330.5h2M911 330.5h1M921 330.5h1M931 330.5h1M952 330.5h3M966 330.5h2M969 330.5h1M982 330.5h2M1001 330.5h3M1018 330.5h1M894 331.5h1M896 331.5h1M931 331.5h2M951 331.5h5M967 331.5h3M1001 331.5h3M894 332.5h1M951 332.5h3M895 333.5h1M926 333.5h2M951 333.5h2M989 333.5h1M925 334.5h3M966 334.5h1M988 334.5h3M1026 334.5h1M896 335.5h1M925 335.5h3M958 335.5h2M966 335.5h1M988 335.5h3M1054 335.5h1M880 336.5h1M900 336.5h1M926 336.5h1M966 336.5h2M988 336.5h1M997 336.5h1M999 336.5h1M980 338.5h1M994 338.5h2M979 339.5h3M994 339.5h2M878 340.5h1M981 340.5h1M994 340.5h2M877 341.5h2M877 342.5h1M878 343.5h1M918 344.5h1M997 359.5h2M997 360.5h2" stroke="#f50a0a" stroke-width="1" shape-rendering="crispEdges"/>
<path d="M792.5 66h0M944 65h0M770.5 66.5h0M793.5 70h0M882 67h0M770 74.5h0M785 74.5h0M798.5 77.5h0M778.5 79h0M822 80h0M910.5 79h0M775.5 85h0M796 84h0M816.5 89h0M818.5 88h0M770 95h0M777 91.5h0M819 92h0M767.5 101.5h0M778 97h0M778 97.5h0M779 98.5h0M788 102h0M797.5 96.5h0M836 97h0M817 107.5h0M835 107.5h0M853.5 108h0M865 106h0M784.5 112h0M794.5 112h0M795.5 108h0M797 110h0M843 109h0M783.5 117.5h0M788 119h0M820.5 114.5h0M798 124.5h0M814 124.5h0M825 121h0M945.5 126h0M963 126h0M788 129h0M789 130h0M793 131.5h0M797 132h0M802 132h0M814.5 126.5h0M817 132h0M835 129.5h0M924 129.5h0M1046.5 126.5h0M791.5 134.5h0M796 132h0M825.5 132.5h0M831 136.5h0M839 136h0M799 143h0M826.5 142.5h0M828 143h0M832 141.5h0M837.5 138.5h0M852.5 140h0M879 140h0M811.5 146.5h0M834.5 148h0M835 148.5h0M842.5 148.5h0M866 147.5h0M920 145.5h0M961 149h0M802 151h0M830 153.5h0M841.5 152.5h0M872 154h0M875.5 150.5h0M804 160.5h0M807.5 160.5h0M808 161h0M814 158h0M814.5 160h0M818.5 161h0M819.5 159.5h0M882 160.5h0M802.5 162.5h0M805 166h0M808.5 168h0M808.5 162h0M836 168h0M895.5 162.5h0M814.5 174h0M817 173h0M824.5 170h0M830.5 173.5h0M864 172.5h0M887.5 170h0M940 173h0M968 168h0M999.5 173.5h0M812.5 176h0M815.5 175h0M817.5 178h0M818 178h0M819 180h0M841.5 179h0M845.5 179h0M850.5 178.5h0M878.5 174.5h0M904.5 178.5h0M927 175.5h0M942 176h0M1017 178h0M818.5 180h0M825 185.5h0M832 184h0M833 181h0M843 182h0M844.5 183h0M850.5 183.5h0M857.5 184h0M874 185.5h0M907 183.5h0M910 183.5h0M971 181h0M987.5 185h0M816.5 187h0M821 190h0M824 189.5h0M826 187.5h0M828.5 186.5h0M834 191h0M834.5 189h0M838.5 190h0M841 187h0M854 191h0M857 189h0M876.5 186.5h0M876.5 190h0M906.5 190.5h0M916 188.5h0M917.5 189h0M940.5 190h0M943 187h0M1013.5 189h0M818.5 193h0M823.5 196h0M827.5 197.5h0M847.5 196.5h0M848.5 194h0M854 193h0M863 193h0M869 197h0M935.5 193.5h0M946.5 195.5h0M953.5 194h0M970 194.5h0M1074 192h0M1172 196h0M827 200h0M829.5 198.5h0M830 199h0M831.5 203.5h0M835 203.5h0M839.5 198.5h0M840.5 201.5h0M854 203.5h0M855 200h0M858.5 204h0M869.5 203h0M870.5 201h0M875.5 200.5h0M876.5 199h0M915 203.5h0M950 199.5h0M952.5 203.5h0M954.5 198.5h0M966 202h0M972.5 201.5h0M1003.5 200h0M1013.5 198h0M1019 202h0M1028 203h0M829 206h0M834 205.5h0M837 208h0M840.5 208.5h0M843 205.5h0M844 208.5h0M845 208h0M845 208h0M849.5 208.5h0M851 204h0M851.5 207h0M855.5 206.5h0M858.5 208.5h0M858.5 206h0M859.5 205h0M869.5 209h0M870.5 205.5h0M871 208h0M878 208h0M912.5 209.5h0M913.5 208h0M940.5 204.5h0M943.5 207h0M959 207.5h0M969 204.5h0M989 209h0M1008 209h0M1014 207h0M1050.5 209.5h0M836.5 211.5h0M838 215h0M847.5 214h0M864 215.5h0M874 214.5h0M877 211.5h0M879 213.5h0M880 213.5h0M885 211h0M890.5 213h0M891 210h0M891.5 215h0M892 212.5h0M917.5 211h0M919 213h0M921 211h0M921 214h0M924.5 214h0M936 214h0M954.5 215.5h0M965.5 213.5h0M1013.5 214h0M1018.5 212h0M1032 216h0M841.5 220.5h0M843.5 217h0M848 220.5h0M848.5 217h0M853 216.5h0M855.5 220.5h0M858 217.5h0M858.5 216.5h0M867.5 218h0M868 221h0M870 217.5h0M871.5 219h0M875.5 221.5h0M878.5 219h0M880 217.5h0M883 220h0M886 219h0M899.5 218.5h0M913.5 219h0M917 221.5h0M929.5 218.5h0M937 219.5h0M937.5 220.5h0M962 221.5h0M969 221h0M982 219.5h0M995 216.5h0M1010.5 217.5h0M1012 218h0M1017.5 218.5h0M1031 219h0M1032.5 217h0M1052.5 221.5h0M843 225h0M844 223h0M846.5 223h0M847.5 224.5h0M848.5 222.5h0M849 227h0M851.5 222h0M854.5 223h0M867 224h0M869.5 224.5h0M870.5 222.5h0M870.5 225h0M873.5 225h0M875 222.5h0M885.5 224h0M887.5 225h0M895 223.5h0M913.5 227.5h0M918 227.5h0M923.5 222h0M925 227.5h0M925 226.5h0M930.5 226h0M932.5 227.5h0M936 227h0M936 225h0M940.5 227h0M951.5 222h0M952 224h0M953.5 222.5h0M963 227.5h0M969 226h0M971 227.5h0M975 225h0M975 223h0M985 226.5h0M993 222.5h0M1001 225.5h0M1004 227h0M1008 223h0M1021 224h0M1031 227.5h0M1034.5 223.5h0M1047.5 226h0M1102 225h0M850 231.5h0M853.5 232.5h0M853.5 229.5h0M854 234h0M854 231.5h0M854.5 232.5h0M855.5 234h0M858 232.5h0M861.5 230h0M862.5 231h0M862.5 233h0M865 232h0M868 229.5h0M869.5 232.5h0M871 234h0M876 234h0M877.5 230.5h0M890.5 228h0M892 230.5h0M894.5 232.5h0M896 231h0M899.5 232.5h0M900.5 228.5h0M905 231h0M905 231h0M907 231.5h0M915 229.5h0M918 228.5h0M919 232h0M919 228.5h0M921.5 230.5h0M922 229h0M922 234h0M923 230h0M924.5 232.5h0M925.5 233h0M928 233h0M934.5 234h0M935 232.5h0M935 229h0M950 233.5h0M954 231h0M954.5 230h0M955 232.5h0M956.5 233.5h0M956.5 233h0M960 232h0M962.5 228h0M967.5 231h0M967.5 228.5h0M969 233.5h0M969 230h0M969 230.5h0M969.5 233.5h0M974.5 232.5h0M976 231.5h0M977.5 231.5h0M980.5 234h0M995 232h0M1001 228.5h0M1006 232.5h0M1007.5 231h0M1009.5 230h0M1020 231.5h0M1021 233.5h0M1025.5 231h0M1027 234h0M1028 232.5h0M1038 228h0M1047.5 231.5h0M1057 233.5h0M1057.5 234h0M1063 228h0M1074.5 229h0M1101.5 229h0M851.5 236h0M855 236.5h0M856 239h0M859.5 235h0M862 236h0M863 238h0M864 236.5h0M866.5 237h0M866.5 239.5h0M867.5 236.5h0M876.5 239.5h0M877.5 235.5h0M877.5 237h0M881.5 238h0M886 237h0M892 234.5h0M898.5 239.5h0M900 236.5h0M903.5 236.5h0M907.5 238h0M908.5 239.5h0M913.5 237.5h0M916 234h0M916.5 236.5h0M919 237h0M922.5 235h0M924 235h0M927.5 236.5h0M927.5 234.5h0M928.5 238.5h0M929.5 238h0M929.5 235.5h0M938 238.5h0M940 238h0M940 236.5h0M943.5 237h0M944.5 235.5h0M951.5 235h0M953.5 234.5h0M956.5 235h0M960.5 238h0M961.5 239h0M963 236h0M964 240h0M967 237.5h0M967 237.5h0M968.5 234.5h0M969 238h0M970.5 239.5h0M970.5 236.5h0M972.5 235.5h0M972.5 237.5h0M979 240h0M980 239.5h0M981 237.5h0M984 238.5h0M984 238.5h0M992 234.5h0M992 239.5h0M993 239.5h0M996 235h0M1000.5 237h0M1001.5 236.5h0M1002.5 236h0M1004.5 238h0M1005 235h0M1008.5 236.5h0M1009 240h0M1010 240h0M1013 236h0M1016 234.5h0M1016.5 238h0M1018 238h0M1020 236.5h0M1020.5 237.5h0M1024.5 238h0M1028.5 235.5h0M1030.5 239.5h0M1031.5 235.5h0M1033.5 234.5h0M1036.5 234.5h0M1041.5 237h0M1044.5 234.5h0M1059.5 237h0M1088 237.5h0M1090.5 238h0M1131.5 238h0M1169.5 239h0M863 240h0M867 241.5h0M869.5 241.5h0M870.5 244h0M871.5 245.5h0M872 245.5h0M876.5 243h0M883.5 241h0M886.5 244.5h0M888.5 245h0M889 242h0M889 240h0M889 241.5h0M894 244.5h0M898.5 241h0M902 241.5h0M903 241.5h0M904.5 241h0M909 240.5h0M910 243.5h0M911 241.5h0M911 245.5h0M911.5 241.5h0M914.5 242.5h0M915 245.5h0M916.5 240h0M916.5 240.5h0M917.5 243h0M918.5 246h0M919 245h0M920.5 245h0M923.5 240h0M925 244.5h0M926 243.5h0M928.5 245h0M928.5 244h0M929 245h0M931 242h0M933.5 244h0M936 245h0M936.5 245h0M941 244h0M942.5 240.5h0M948 245.5h0M951 241h0M952 240h0M952 241h0M952.5 244h0M955.5 244h0M956.5 244h0M957.5 244h0M958 242h0M959 243h0M961 241.5h0M961.5 241h0M962 242h0M963.5 240.5h0M964.5 243.5h0M966.5 245.5h0M967.5 246h0M968.5 242.5h0M969 244.5h0M969.5 244h0M972 241.5h0M975 242.5h0M975.5 241h0M976 242h0M976 243.5h0M976.5 240.5h0M977 245h0M978.5 245.5h0M979 245.5h0M980.5 242h0M981 246h0M984 241h0M988.5 245.5h0M993 245.5h0M996 242h0M1002 242.5h0M1002.5 240h0M1005 243.5h0M1005 242h0M1005.5 244.5h0M1005.5 245.5h0M1006 241.5h0M1008 244.5h0M1012 246h0M1013 242h0M1013 242h0M1013.5 244.5h0M1014.5 244h0M1015 240.5h0M1017.5 244h0M1018 244h0M1019 242h0M1020.5 244.5h0M1020.5 242.5h0M1021 242.5h0M1022.5 241.5h0M1023 246h0M1027 240h0M1028.5 241h0M1030.5 243h0M1031 245h0M1032.5 242h0M1034 245h0M1037 243h0M1043.5 244.5h0M1043.5 243h0M1043.5 244h0M1048 245.5h0M1049.5 245.5h0M1056 246h0M1057.5 243.5h0M1066.5 243h0M1072 244h0M1074.5 245h0M867.5 247h0M871.5 247.5h0M872 248.5h0M874.5 247.5h0M875 246.5h0M877.5 251.5h0M877.5 249.5h0M878.5 248.5h0M882 252h0M883.5 248h0M885.5 249.5h0M886.5 250.5h0M887 251.5h0M888 248h0M889 248.5h0M890 250.5h0M892 246.5h0M892 251.5h0M892 247.5h0M893.5 247.5h0M894 246.5h0M895 251h0M896 249h0M896.5 249.5h0M899 248.5h0M899 251.5h0M899.5 249h0M899.5 247h0M900 251.5h0M900 251h0M900.5 246h0M901 247.5h0M902 247h0M902.5 251.5h0M903 252h0M903 249h0M906 247.5h0M907.5 250h0M910.5 249.5h0M912 249.5h0M912.5 247.5h0M915 246.5h0M915 251.5h0M916 252h0M916.5 250.5h0M917 246h0M917 251h0M918.5 251.5h0M919 250h0M920 251.5h0M922 251.5h0M922.5 250h0M922.5 247.5h0M924.5 248h0M925.5 250h0M925.5 250h0M926 250h0M926 247.5h0M927.5 246h0M928 247.5h0M928.5 249h0M930 247.5h0M931 248.5h0M931 247.5h0M932 251.5h0M933.5 246.5h0M934 251h0M934.5 250h0M935 249h0M936 250h0M937.5 249.5h0M938 252h0M941.5 249.5h0M944 246h0M944.5 248.5h0M947 246.5h0M947 251.5h0M948 248h0M948.5 246.5h0M949 249h0M950 250h0M950.5 249.5h0M952.5 251h0M953.5 249h0M955.5 251h0M957 248.5h0M958 247.5h0M959.5 252h0M961 249h0M963 246h0M963 251.5h0M963 247.5h0M964.5 246.5h0M966 248.5h0M966.5 250h0M967.5 251.5h0M968 251.5h0M968 246.5h0M969.5 250h0M970 248h0M971 247.5h0M973 248.5h0M973 248h0M974.5 251.5h0M975 247.5h0M975.5 249.5h0M976.5 251h0M976.5 247h0M979 250h0M979 251.5h0M981.5 249.5h0M982 248.5h0M982.5 251h0M983.5 246.5h0M983.5 247.5h0M984 249.5h0M986 247h0M986 247h0M987 249h0M987 249.5h0M988 250.5h0M989.5 246h0M990.5 250h0M991 251h0M992 249.5h0M994 251.5h0M994.5 250h0M995 251.5h0M995.5 251.5h0M996.5 250.5h0M996.5 249.5h0M997 246h0M997.5 247h0M998.5 248.5h0M1001 248h0M1002.5 247.5h0M1002.5 249h0M1004 251.5h0M1005 247.5h0M1006 251.5h0M1007 250h0M1007 248h0M1007.5 249h0M1011.5 249h0M1011.5 249.5h0M1012.5 250.5h0M1016.5 249h0M1018 249h0M1019.5 248.5h0M1021.5 246.5h0M1023.5 246.5h0M1026 247.5h0M1027 250h0M1028.5 251h0M1031.5 248h0M1034.5 248h0M1035.5 246.5h0M1035.5 248h0M1036 249h0M1037 248h0M1037.5 249.5h0M1039 248.5h0M1039.5 246h0M1041 248.5h0M1042.5 251h0M1050.5 248h0M1056.5 252h0M1056.5 249h0M1058 252h0M1060.5 250h0M1061 247h0M1065 250h0M1067.5 251h0M1067.5 252h0M1069 252h0M1072.5 251h0M1074 250h0M1082 250h0M1098.5 249.5h0M878.5 254h0M880 255h0M880 253.5h0M882.5 253.5h0M883 256h0M883.5 255.5h0M884 255h0M885.5 257h0M886.5 254.5h0M887 257h0M887.5 254h0M888 256h0M888 257.5h0M889 253.5h0M890.5 254.5h0M890.5 252.5h0M892 253.5h0M892.5 255h0M892.5 254h0M892.5 257h0M894.5 254.5h0M896 256h0M896.5 255.5h0M897 257h0M898 252.5h0M898 257.5h0M900 253h0M900.5 253h0M902.5 254.5h0M903.5 253.5h0M905 256.5h0M906.5 256.5h0M907.5 255h0M908 252.5h0M908.5 253.5h0M908.5 256h0M909.5 254.5h0M910.5 253.5h0M911.5 256.5h0M912 257.5h0M914.5 254h0M915.5 257h0M916.5 256.5h0M917.5 257.5h0M920 255.5h0M922.5 255.5h0M923 253h0M923.5 258h0M924.5 252h0M924.5 257h0M926.5 253h0M927 255.5h0M928 254.5h0M928 257h0M928.5 253h0M930 258h0M932 255h0M932 256.5h0M932 252h0M934.5 256.5h0M935.5 253.5h0M938 255h0M939.5 255h0M942 257h0M943 256.5h0M943.5 255h0M943.5 256.5h0M945.5 255.5h0M945.5 254h0M946.5 252.5h0M947.5 255.5h0M947.5 252.5h0M949.5 253.5h0M949.5 257h0M950 256h0M950.5 258h0M951 256.5h0M951.5 253h0M952 256.5h0M952.5 253.5h0M953.5 254.5h0M954.5 254.5h0M955 252.5h0M956 254.5h0M957 257h0M957 253h0M958 252.5h0M960 252.5h0M961 253.5h0M963 254h0M963 257.5h0M963.5 252.5h0M964 255.5h0M964.5 257h0M965 257h0M966.5 258h0M967 254.5h0M967 255.5h0M967 256.5h0M969.5 257.5h0M971.5 255h0M973.5 255.5h0M973.5 257h0M975 252h0M975 257h0M975.5 252h0M976.5 256h0M977 253h0M978.5 255.5h0M979 253.5h0M979.5 256.5h0M980 255h0M980.5 257.5h0M982 253h0M984 253h0M985.5 257h0M986 253h0M987 254h0M987.5 257.5h0M988.5 253h0M989 253h0M989 255h0M990 252.5h0M992 255.5h0M992 254.5h0M996 252h0M996 256h0M997.5 254h0M999 257.5h0M999 256.5h0M999 252h0M1000 254.5h0M1002 256h0M1004 257h0M1004.5 257h0M1005 254h0M1006 255h0M1006 253h0M1006.5 257.5h0M1007.5 257h0M1008 258h0M1008 252.5h0M1008.5 255h0M1009 255.5h0M1010 254h0M1011 252h0M1011 256h0M1011.5 252.5h0M1012 253.5h0M1013 256h0M1014 255.5h0M1015 255h0M1016 253.5h0M1017 255h0M1017 256h0M1017 253.5h0M1019.5 257h0M1020 253h0M1020.5 256h0M1020.5 254.5h0M1022 253h0M1024 257h0M1025.5 257h0M1025.5 254h0M1026.5 256h0M1027.5 254h0M1027.5 256.5h0M1028 256.5h0M1029.5 253h0M1030 257.5h0M1030.5 252h0M1031 256h0M1032 252h0M1032.5 256.5h0M1033.5 252.5h0M1034 257h0M1034.5 253.5h0M1036 256h0M1039 256.5h0M1039.5 253.5h0M1039.5 252.5h0M1041.5 257.5h0M1041.5 254.5h0M1045.5 258h0M1046 256.5h0M1046.5 252.5h0M1047 254h0M1048 254.5h0M1048 258h0M1050 257h0M1051 256.5h0M1052.5 257h0M1054 254h0M1058 257.5h0M1059 255h0M1059.5 257h0M1060.5 253h0M1061.5 252.5h0M1063 253.5h0M1069 256h0M1069.5 256.5h0M1071.5 254h0M1072.5 253h0M1075.5 255h0M1082.5 255.5h0M1089 255.5h0M1091 252.5h0M1092 257.5h0M1097.5 257h0M1108.5 256.5h0M1119 255h0M1119 256.5h0M885 259.5h0M889.5 258h0M891 259h0M891.5 260h0M892 261.5h0M892.5 258.5h0M893 260.5h0M894 263h0M895.5 259h0M896 260h0M896.5 263h0M897.5 259.5h0M897.5 264h0M900 259h0M900.5 258h0M901 260h0M902 263.5h0M902.5 260h0M903 258.5h0M904 263.5h0M905.5 260h0M905.5 263.5h0M905.5 259.5h0M907 260h0M907 261.5h0M907.5 258h0M908.5 263.5h0M908.5 263h0M911 262.5h0M912 263h0M913 261h0M915 261.5h0M917 262.5h0M917.5 260h0M918 260h0M918.5 263.5h0M919 258h0M923.5 258.5h0M925 262h0M925 262h0M927 259h0M927.5 259h0M932.5 258h0M934 259h0M936 261h0M936 258.5h0M937.5 263h0M938.5 258.5h0M938.5 258.5h0M939 259h0M939.5 261h0M940.5 262h0M940.5 260h0M940.5 260.5h0M941 262.5h0M942.5 262.5h0M943 258.5h0M944 261.5h0M946 259h0M946.5 258.5h0M947.5 259h0M949.5 262.5h0M950 259.5h0M950 258h0M950.5 262h0M951.5 261h0M952 260h0M954 263.5h0M955 261h0M956 260h0M957 258h0M959 261h0M959 263h0M961.5 258.5h0M963.5 260h0M965.5 260.5h0M966.5 262.5h0M967 259.5h0M968 262.5h0M968 259.5h0M970.5 259h0M972.5 258.5h0M973.5 259h0M974 261h0M975.5 260.5h0M975.5 260.5h0M977 258.5h0M977.5 258h0M980 259h0M980.5 260.5h0M981.5 260.5h0M981.5 258.5h0M984.5 259.5h0M985 260h0M994.5 258h0M996.5 261.5h0M996.5 259.5h0M1000.5 258.5h0M1002.5 259.5h0M1003 258.5h0M1004.5 261.5h0M1006 260h0M1006.5 260.5h0M1007.5 259h0M1007.5 258.5h0M1009 261.5h0M1010 263h0M1011.5 258h0M1011.5 261.5h0M1013 262h0M1013 259h0M1016 258.5h0M1016 258h0M1017 259.5h0M1017 262h0M1017.5 263.5h0M1018 259.5h0M1019 258.5h0M1020 262.5h0M1020 259h0M1021 261.5h0M1022.5 262.5h0M1023 262.5h0M1025 261.5h0M1025.5 258.5h0M1025.5 260.5h0M1026.5 260h0M1028 262.5h0M1028 261.5h0M1029 259h0M1029.5 264h0M1031 262h0M1031 263h0M1031.5 258.5h0M1032 263.5h0M1032 260.5h0M1034.5 262.5h0M1035 260.5h0M1035 260h0M1035 263h0M1038 260.5h0M1038.5 262.5h0M1039.5 260.5h0M1041 259h0M1043 262.5h0M1044 260.5h0M1045.5 263.5h0M1046 262h0M1046 259.5h0M1047.5 260h0M1048 258h0M1048 261h0M1050 262h0M1050 261.5h0M1053.5 259.5h0M1056.5 263.5h0M1056.5 258.5h0M1057.5 260.5h0M1057.5 264h0M1059.5 258h0M1060 262.5h0M1062.5 258h0M1064.5 260.5h0M1065.5 262h0M1066 260h0M1066 259.5h0M1071.5 260h0M1071.5 262h0M1073 264h0M1077.5 261h0M1084.5 260h0M1088 259h0M1091 262.5h0M1102 259h0M1108.5 263.5h0M1115.5 260h0M1121 261.5h0M1136.5 260h0M1153 259h0M1153.5 260.5h0M1161.5 262.5h0M1229 261h0M1235 261h0M896.5 264.5h0M899.5 264.5h0M903 265h0M903.5 264.5h0M905.5 266.5h0M906.5 265.5h0M908.5 266h0M909 266.5h0M910 267h0M910 265.5h0M910.5 264h0M911 267h0M912 268.5h0M913 264.5h0M914 264.5h0M914.5 268h0M917 265.5h0M917.5 268.5h0M917.5 268.5h0M919 267.5h0M919 268h0M920.5 268.5h0M923.5 268h0M925 268h0M925 268h0M935 268.5h0M936 268h0M937 264h0M937.5 265h0M939.5 265.5h0M941 268h0M941 268h0M942.5 268.5h0M943 268.5h0M943 264.5h0M945 266.5h0M948.5 267.5h0M949 268h0M951.5 268h0M951.5 265.5h0M952 264h0M952 268h0M954 265.5h0M960 268h0M962 268h0M969.5 268h0M971 268.5h0M983 265h0M985 265.5h0M985 268h0M986.5 268h0M989 268h0M990 268h0M992.5 268.5h0M993.5 268h0M995.5 267.5h0M996.5 268.5h0M997.5 268h0M999.5 268h0M1000.5 268.5h0M1002 268h0M1002 268h0M1004.5 268.5h0M1005 268h0M1007 268h0M1007.5 266.5h0M1009 268h0M1010 264h0M1011.5 265.5h0M1012 268.5h0M1013.5 264.5h0M1014 268h0M1015.5 267.5h0M1016 268.5h0M1019.5 268h0M1020 268.5h0M1020.5 265h0M1022 268h0M1022 267.5h0M1024 267h0M1024 268h0M1024 268.5h0M1024.5 265h0M1025.5 267.5h0M1027.5 265h0M1027.5 266h0M1028.5 268.5h0M1029 267.5h0M1031 268.5h0M1033.5 268h0M1035 264.5h0M1036 268h0M1037 268.5h0M1038.5 267h0M1038.5 267.5h0M1041 265.5h0M1041.5 268.5h0M1041.5 264.5h0M1041.5 268h0M1044 265h0M1044.5 266h0M1046 266h0M1047 265.5h0M1047.5 266h0M1048.5 268.5h0M1048.5 268h0M1049 268.5h0M1050 268h0M1050.5 266.5h0M1050.5 267h0M1052.5 268.5h0M1053 264.5h0M1054.5 265h0M1055 268.5h0M1055 266h0M1056 265h0M1057.5 267.5h0M1058 268h0M1060 265.5h0M1060.5 268h0M1060.5 268h0M1062 266h0M1068 266h0M1069 268h0M1070.5 268h0M1070.5 267h0M1071.5 264h0M1073 268.5h0M1073.5 268.5h0M1074.5 265.5h0M1074.5 267h0M1074.5 267h0M1075.5 265h0M1079 267h0M1079 265.5h0M1081.5 267h0M1088.5 267h0M1088.5 265h0M1089.5 268.5h0M1090.5 267.5h0M1091.5 265h0M1095 266h0M1095.5 268.5h0M1095.5 268h0M1111 265h0M1115 266h0M1119.5 268h0M1137.5 268.5h0M1156 264.5h0M1168.5 267h0M1187 268h0M1200 264h0M923 311h0M923 310.5h0M925.5 312h0M927 311h0M928 311h0M930.5 311h0M931 310.5h0M933 312h0M933.5 311.5h0M935.5 310.5h0M936.5 310.5h0M937 310.5h0M937.5 312h0M940.5 310.5h0M941 311h0M943.5 310.5h0M945.5 311.5h0M947.5 310.5h0M949 311h0M954 311h0M954.5 310.5h0M955.5 311h0M956.5 311h0M957 311h0M957 311h0M958.5 310.5h0M959 310.5h0M961 310.5h0M963 310.5h0M964 310.5h0M966.5 310.5h0M969.5 311h0M970 310.5h0M973 311.5h0M974 310.5h0M977 310.5h0M978.5 310.5h0M980.5 310.5h0M981 310.5h0M982.5 310.5h0M983.5 311h0M986 311h0M987.5 311h0M989 310.5h0M991.5 310.5h0M992.5 310.5h0M993 310.5h0M994.5 311h0M996 310.5h0M996.5 310.5h0M997 311h0M1000 310.5h0M1001.5 310.5h0M1002.5 311h0M1004 311h0M1005.5 310.5h0M1007 310.5h0M1010.5 310.5h0M1011 310.5h0M1012 311.5h0M1014.5 311.5h0M1014.5 310.5h0M1016.5 311.5h0M1018.5 311h0M1020 311.5h0M1021.5 310.5h0M1022.5 310.5h0M1023.5 312h0M1024.5 310.5h0M1025 311h0M1027 312h0M1028 311h0M1033 311h0M1034.5 311h0M1035.5 311h0M1037.5 310.5h0M1038 310.5h0M1039 310.5h0M1039.5 310.5h0M1040 311h0M1042 310.5h0M1043 311h0M1043.5 311.5h0M1047 311.5h0M1054.5 311.5h0M1056 311h0M1056.5 311h0M1057.5 310.5h0M1063 311.5h0M1066.5 310.5h0M1081.5 312h0M1086 312h0M1088.5 310.5h0M1089 310.5h0M1097 312h0M905 317.5h0M911.5 317h0M911.5 314.5h0M912 314h0M913.5 317.5h0M914.5 315.5h0M915 316.5h0M915.5 314h0M916.5 315.5h0M918 313.5h0M918.5 314h0M919.5 317h0M920 315.5h0M921.5 313h0M926 313h0M927 315.5h0M928 318h0M931.5 318h0M933 318h0M938.5 315.5h0M939.5 315.5h0M939.5 312.5h0M941.5 314h0M945.5 318h0M945.5 314h0M946 316.5h0M947 317.5h0M947.5 314h0M948 315h0M949 318h0M950.5 317.5h0M951.5 317h0M953 317h0M954.5 318h0M960.5 316h0M963 315h0M968.5 316.5h0M971.5 316h0M972.5 317.5h0M979.5 316.5h0M980 316.5h0M982.5 316h0M983 315h0M985.5 316.5h0M1000.5 316.5h0M1009 314.5h0M1010 315.5h0M1010.5 317h0M1011 317h0M1012 315h0M1013 317h0M1015 316.5h0M1015.5 318h0M1019 317.5h0M1019 313.5h0M1019.5 315.5h0M1019.5 313.5h0M1020 316h0M1023 317.5h0M1023 315.5h0M1023.5 317h0M1024.5 314.5h0M1025 317h0M1025.5 317.5h0M1028 312.5h0M1028 316.5h0M1028.5 316h0M1030 313h0M1030 313.5h0M1031.5 313.5h0M1032 318h0M1033 312.5h0M1033 316.5h0M1036 315h0M1036 315.5h0M1037.5 312.5h0M1037.5 316h0M1037.5 312h0M1039.5 313h0M1040.5 315h0M1040.5 313h0M1040.5 317h0M1041 314.5h0M1041.5 317.5h0M1041.5 316h0M1041.5 318h0M1043.5 315.5h0M1045 314h0M1045.5 318h0M1046 316h0M1046 312.5h0M1046.5 317h0M1046.5 313h0M1048 314h0M1049 314.5h0M1049.5 316.5h0M1049.5 317h0M1050.5 312h0M1052 313h0M1053.5 313h0M1057.5 314h0M1058 317.5h0M1058 315.5h0M1061.5 314.5h0M1063.5 317h0M1063.5 312.5h0M1064 316.5h0M1064 312h0M1065 316.5h0M1066.5 315h0M1070 316.5h0M1077 313.5h0M1079 314.5h0M1080 312h0M1081.5 313.5h0M1082.5 316h0M1090.5 315h0M1092.5 315h0M1095.5 316.5h0M1095.5 316.5h0M1103 317.5h0M1105.5 312.5h0M1110 313.5h0M1118 317.5h0M1123.5 313.5h0M1127 312h0M1134 312.5h0M1211 318h0M896 323.5h0M899 322.5h0M902 322.5h0M902.5 323.5h0M903 321h0M904 323h0M907 322.5h0M908.5 318.5h0M909 322h0M909.5 320.5h0M911.5 322.5h0M911.5 320.5h0M912.5 322.5h0M913 319.5h0M913 323.5h0M914 321h0M914.5 318.5h0M916 319h0M916 321h0M917 320.5h0M918 322h0M919 322h0M919 319.5h0M919.5 321h0M920 319h0M921.5 319.5h0M921.5 323.5h0M922 320.5h0M924 319.5h0M924 322h0M924 323h0M924.5 320.5h0M925 324h0M925 322h0M925.5 318.5h0M926.5 319.5h0M927.5 321.5h0M928.5 318.5h0M928.5 318h0M929 323h0M932 318h0M932.5 322h0M933 322h0M933 323h0M933 318.5h0M934.5 319.5h0M935 322h0M936.5 323h0M936.5 319h0M938.5 319h0M939 319h0M940 322h0M940 321.5h0M941.5 320.5h0M942 320h0M943.5 320h0M945.5 321h0M950 320h0M951.5 322.5h0M952 324h0M952.5 320.5h0M953 319h0M953.5 323.5h0M954 323h0M956.5 323.5h0M959.5 324h0M959.5 322.5h0M959.5 320h0M961 320.5h0M961.5 324h0M962 322h0M962 320.5h0M964 322h0M964 322h0M965 320h0M966.5 319h0M967 320h0M967 323.5h0M967.5 321.5h0M968.5 322h0M969 320h0M969.5 318.5h0M971.5 320h0M971.5 322h0M973 322.5h0M973.5 320.5h0M973.5 324h0M976 318.5h0M977.5 322.5h0M977.5 320h0M977.5 320h0M978.5 321h0M979.5 323h0M981 318h0M982 323.5h0M982 321h0M982.5 320.5h0M983.5 318.5h0M983.5 323h0M983.5 320h0M984.5 322h0M984.5 318h0M985.5 321.5h0M986 319h0M986.5 324h0M988 322h0M988 319h0M989 321h0M990 323h0M990 323.5h0M990.5 320.5h0M991.5 318.5h0M992 318.5h0M992.5 322h0M995 318.5h0M995 321.5h0M995.5 323h0M997.5 319h0M998 322h0M998.5 322h0M998.5 320h0M999 323.5h0M1000 323h0M1002 320h0M1002 322h0M1004 319.5h0M1004.5 323h0M1005.5 323.5h0M1005.5 322h0M1006 321.5h0M1009 322.5h0M1009.5 323.5h0M1010.5 320.5h0M1011.5 320.5h0M1014 323.5h0M1016 321.5h0M1016.5 322.5h0M1018 321h0M1018 322.5h0M1018 321.5h0M1018.5 319.5h0M1019 321h0M1020.5 321h0M1021 321.5h0M1024.5 321h0M1024.5 320.5h0M1025.5 322h0M1027 321.5h0M1028 321.5h0M1029 320h0M1030 319h0M1030.5 321.5h0M1031.5 319h0M1031.5 324h0M1033 321h0M1033.5 321h0M1036 323.5h0M1036 322.5h0M1036.5 319.5h0M1037 323.5h0M1037.5 318.5h0M1038.5 320.5h0M1041 322.5h0M1041.5 320.5h0M1042 323h0M1042.5 323.5h0M1043 322.5h0M1045.5 320h0M1045.5 321h0M1047.5 321h0M1049 322.5h0M1049 319.5h0M1050.5 321.5h0M1051 319.5h0M1051.5 319h0M1053 318.5h0M1053.5 321.5h0M1056.5 322h0M1058.5 318h0M1060 319.5h0M1063 319h0M1065 319.5h0M1065 320.5h0M1071.5 318.5h0M1078 320.5h0M1095 322h0M1132.5 319h0M1135.5 323.5h0M1150 318.5h0M890 329h0M891 330h0M892.5 324h0M893.5 327.5h0M893.5 326h0M895.5 326h0M896.5 329h0M898.5 328.5h0M899 329.5h0M901 326.5h0M903 327.5h0M904 327h0M905.5 325.5h0M905.5 327.5h0M906 326.5h0M907 329h0M907 324h0M907.5 327h0M911.5 330h0M911.5 324.5h0M911.5 330h0M915.5 329h0M916.5 327.5h0M917.5 328h0M918 325h0M919.5 325.5h0M920.5 326h0M922 328h0M922 329h0M924 325h0M924 329h0M924 326.5h0M924.5 329h0M926 329.5h0M926.5 327.5h0M927.5 327h0M928 325.5h0M928.5 327.5h0M930 325.5h0M930.5 325.5h0M933 327.5h0M934 327.5h0M935 327.5h0M935.5 325h0M936 325.5h0M936 326h0M937.5 325h0M938 327h0M940 326.5h0M941 325h0M943.5 326.5h0M943.5 329h0M943.5 327.5h0M944.5 328.5h0M945.5 326h0M946.5 329.5h0M947 328.5h0M948 324.5h0M948.5 328h0M949 325.5h0M950.5 330h0M951 328.5h0M951 329h0M951.5 325h0M951.5 327.5h0M953 329h0M955 328h0M956.5 325.5h0M958 328.5h0M958.5 325h0M962 325h0M963 328h0M964 328.5h0M966.5 328h0M968 327h0M970 325h0M970 324.5h0M971 324.5h0M972 327h0M972.5 328.5h0M978.5 329.5h0M979 325.5h0M979 329h0M980.5 324h0M982.5 328h0M982.5 327.5h0M983.5 330h0M984 324.5h0M984 326h0M984.5 327h0M985 324.5h0M985.5 326.5h0M987.5 327h0M988.5 325h0M988.5 330h0M989 330h0M989.5 326.5h0M990.5 328h0M993 325.5h0M993 325.5h0M993.5 327h0M994.5 327.5h0M995 324h0M996 325h0M997 327h0M997.5 330h0M1001.5 329.5h0M1001.5 326.5h0M1004 329h0M1005 324.5h0M1005 324.5h0M1005 328h0M1006.5 324.5h0M1007 329h0M1011.5 324.5h0M1011.5 329.5h0M1013 326h0M1013.5 326.5h0M1019.5 330h0M1020 329h0M1021 324.5h0M1021 325h0M1021.5 326.5h0M1021.5 329h0M1029 326h0M1029 328.5h0M1032 325h0M1035.5 327.5h0M1036 330h0M1039 328h0M1040 327h0M1046 325h0M1047.5 324.5h0M1048.5 325h0M1050 328h0M1055 328.5h0M1055.5 325.5h0M1059 326.5h0M1059 326h0M1063.5 325.5h0M1073.5 327.5h0M1086 324.5h0M1090.5 325h0M1104.5 328h0M888 331.5h0M888 331.5h0M894 334.5h0M894 331.5h0M896 332.5h0M896 336h0M896 332.5h0M897.5 334.5h0M897.5 331h0M900.5 336h0M901 330.5h0M903 334h0M906 333h0M912 334h0M913 332.5h0M916.5 334.5h0M916.5 331.5h0M916.5 331h0M920.5 331.5h0M922 331h0M923.5 331.5h0M925.5 330.5h0M927 335.5h0M928 336h0M928.5 334h0M932 332.5h0M932 332h0M933.5 332h0M936.5 333.5h0M943 332.5h0M945.5 333.5h0M946.5 332h0M947 330.5h0M949 334.5h0M949.5 330h0M952 334h0M953 334h0M953 333.5h0M953 331h0M953.5 332h0M955 331.5h0M956 331h0M956.5 334h0M958 333h0M959 335h0M960.5 331h0M961 332.5h0M963.5 333.5h0M966 334h0M966.5 330.5h0M967.5 331h0M968.5 332h0M969 332h0M971 332.5h0M973 331h0M975.5 331.5h0M978.5 331h0M983.5 332h0M984.5 330.5h0M984.5 333h0M986 330h0M989 335.5h0M990 335h0M990.5 335.5h0M993 332h0M994 334.5h0M995 330h0M997.5 333h0M1000 334.5h0M1003 332h0M1003 332.5h0M1005.5 331h0M1006.5 332h0M1012 336h0M1013.5 332.5h0M1018 332.5h0M1019 332h0M1019 335.5h0M1023.5 332.5h0M1026.5 332h0M1026.5 335h0M1027 332h0M1029 334.5h0M1034 334h0M1038.5 331.5h0M1052.5 332.5h0M1054.5 335h0M1060 335.5h0M1063.5 335.5h0M1076.5 332.5h0M1080.5 331.5h0M1098.5 332.5h0M873 340h0M875 337h0M875.5 336.5h0M877.5 342h0M880 338h0M881.5 337.5h0M883 337h0M884.5 341h0M889 338h0M891.5 338.5h0M894 339.5h0M897.5 337.5h0M898.5 342h0M900 338.5h0M902 338.5h0M904.5 339.5h0M906.5 338h0M909.5 338h0M914 340h0M915.5 336h0M916.5 337.5h0M919.5 337h0M921.5 341h0M923.5 337h0M924.5 341h0M927.5 336h0M935.5 340h0M942.5 339.5h0M951.5 337h0M951.5 338h0M954 338h0M959.5 337.5h0M960.5 337h0M963 340h0M964 341h0M966 336.5h0M967.5 338.5h0M968 337.5h0M968 336.5h0M972 339h0M976.5 336.5h0M979 341.5h0M981 340.5h0M981 339h0M982 340h0M983 337h0M985.5 338h0M986 340.5h0M988.5 337h0M988.5 342h0M990 336.5h0M995 339h0M995.5 340.5h0M995.5 338h0M996 340h0M996.5 341h0M997.5 336h0M997.5 336.5h0M999 338h0M1000.5 338.5h0M1001 336.5h0M1002.5 341.5h0M1005 339h0M1006 338.5h0M1015.5 338h0M1016 341.5h0M1020 337.5h0M1026.5 336.5h0M1029 341.5h0M1036 339.5h0M1037 342h0M1054 337h0M1056.5 336.5h0M1059.5 336.5h0M1068.5 336h0M1077.5 339h0M1189.5 337.5h0M869 342.5h0M871 347.5h0M873 344.5h0M878 345h0M878.5 343h0M879.5 342.5h0M882 342.5h0M882 342.5h0M888 345.5h0M888.5 346.5h0M892 348h0M892.5 344h0M893.5 348h0M899 344.5h0M912.5 346h0M917.5 345h0M918 345.5h0M920 344.5h0M925.5 344h0M931 346h0M931 342.5h0M934.5 345.5h0M938 343h0M945.5 347h0M951 342.5h0M963 346h0M969.5 346.5h0M974.5 342.5h0M976.5 342.5h0M983 342.5h0M988 346.5h0M988.5 345.5h0M996 345.5h0M998 344.5h0M999.5 343h0M1001.5 343.5h0M1005 345h0M1006 344h0M1008.5 347.5h0M1017 345.5h0M1021 344h0M1023.5 345h0M1025 345h0M1027 344h0M1030 345h0M1030.5 343h0M1040 346h0M1045 347.5h0M1058 348h0M1067 346.5h0M1069.5 347h0M858 352.5h0M868.5 349.5h0M873.5 351h0M874 350.5h0M882.5 353h0M903.5 352h0M911.5 353h0M917 353.5h0M922.5 353h0M930 352h0M948.5 349h0M952.5 348.5h0M956 350.5h0M960 353h0M964.5 354h0M967 350.5h0M969 349h0M970 352.5h0M972.5 349h0M979.5 354h0M995.5 351.5h0M1004.5 348.5h0M1008.5 351.5h0M1026.5 348h0M1036.5 350h0M1043.5 352.5h0M1093 351.5h0M1139.5 353.5h0M858 354.5h0M858.5 359.5h0M862.5 356h0M866 357.5h0M871 358h0M876 357.5h0M885 355h0M896.5 356.5h0M906.5 356.5h0M914 354h0M915.5 354.5h0M935.5 358h0M948.5 354h0M951 355h0M956.5 359h0M964.5 358.5h0M970.5 357.5h0M982 355.5h0M987 358.5h0M990.5 357h0M991 357.5h0M995.5 357h0M999 360h0M1014 355.5h0M1016.5 354h0M1052.5 357h0M860 366h0M869 363.5h0M870.5 364.5h0M872.5 365h0M906 363.5h0M925 361.5h0M951.5 365h0M957 365.5h0M957.5 361.5h0M970 361h0M976 364h0M984.5 364h0M991.5 365.5h0M993.5 363h0M998.5 361h0M998.5 361.5h0M1002.5 363h0M1008 365.5h0M1034 366h0M848.5 369h0M851 368h0M857.5 367.5h0M862 367h0M867 369.5h0M873 368h0M876.5 367h0M898.5 372h0M917 371h0M919 371.5h0M926.5 368.5h0M944.5 370h0M964.5 370h0M1002.5 371.5h0M851.5 375.5h0M854.5 376.5h0M876.5 376h0M877 374.5h0M885.5 373h0M887 377h0M887.5 373h0M973.5 373.5h0M974.5 374h0M994 374h0M1018 374h0M1038 374.5h0M857 383h0M864.5 384h0M871 379.5h0M880.5 381h0M914 379h0M929 383h0M937 381.5h0M1044 379.5h0M1065.5 378.5h0M842.5 384.5h0M875.5 390h0M876.5 387.5h0M936.5 386h0M951 389.5h0M999.5 385.5h0M881.5 392.5h0M887 392.5h0M898 391.5h0M940.5 390h0M945.5 395.5h0M987.5 391.5h0M1013 393.5h0M1014.5 395.5h0M829 396.5h0M834 400h0M841 396.5h0M1002 397h0M831 404h0M834 402.5h0M858 406h0M886 406h0M969 404h0M993.5 404.5h0M834 410.5h0M932 409h0M920.5 418h0M1044.5 416.5h0M821 425.5h0M844.5 426h0M870.5 421.5h0M917 423h0M989 426h0M1059.5 420.5h0M1218 425h0M816 429h0M819 431.5h0M819 429h0M828.5 431h0M866.5 428.5h0M938 428h0M1028 429.5h0M818.5 432h0M829 434.5h0M866 439.5h0M826 445.5h0M837 455h0M970 454.5h0M830.5 460.5h0M906.5 460h0M1072 460h0M801 464.5h0M826 467.5h0M843 464.5h0M766 476h0M787 477h0M769 480h0M803 480h0M795.5 488h0M778.5 505h0M822 505h0M932 509h0M988 507h0M786 512h0" stroke-width="3.3" fill="none" stroke="#ea2830" stroke-opacity="0.8" stroke-linecap="round"/>
<path d="M746.7 268.4L1260.1 268.4" stroke="#000" stroke-width="2.7" stroke-dasharray="5.2 1.8"/>
<path d="M746.7 310.7L1260.1 310.7" stroke="#000" stroke-width="2.7" stroke-dasharray="5.2 1.8"/>
<rect x="746.7" y="61.8" width="513.4" height="454.3" fill="none" stroke="#000" stroke-width="2.9"/>
<path d="M736 121L746.7 121" stroke="#000" stroke-width="2.9" />
<text x="723.5" y="129.8" font-size="25" text-anchor="end" >4</text>
<path d="M736 206L746.7 206" stroke="#000" stroke-width="2.9" />
<text x="723.5" y="214.8" font-size="25" text-anchor="end" >2</text>
<path d="M736 247.8L746.7 247.8" stroke="#000" stroke-width="2.9" />
<text x="723.5" y="256.6" font-size="25" text-anchor="end" >1</text>
<path d="M736 289.5L746.7 289.5" stroke="#000" stroke-width="2.9" />
<text x="723.5" y="298.3" font-size="25" text-anchor="end" >0</text>
<path d="M736 331.3L746.7 331.3" stroke="#000" stroke-width="2.9" />
<text x="723.5" y="340.1" font-size="25" text-anchor="end" >–1</text>
<path d="M736 373.3L746.7 373.3" stroke="#000" stroke-width="2.9" />
<text x="723.5" y="382.1" font-size="25" text-anchor="end" >–2</text>
<path d="M736 457.5L746.7 457.5" stroke="#000" stroke-width="2.9" />
<text x="723.5" y="466.3" font-size="25" text-anchor="end" >–4</text>
<path d="M750.3 516.1L750.3 526" stroke="#000" stroke-width="2.9" />
<text x="750.3" y="556.8" font-size="25" text-anchor="middle" >1</text>
<path d="M946.7 516.1L946.7 526" stroke="#000" stroke-width="2.9" />
<text x="946.7" y="556.8" font-size="25" text-anchor="middle" >100</text>
<path d="M1144 516.1L1144 526" stroke="#000" stroke-width="2.9" />
<text x="1144" y="556.8" font-size="25" text-anchor="middle" >10,000</text>
<text transform="translate(671.9 378.3) rotate(-90)" font-size="25">log<tspan font-size="16" dy="6.3">2</tspan><tspan dy="-6.3" dx="1.6"> fold change</tspan></text>
<text x="1003.5" y="596" font-size="25" text-anchor="middle" >Mean of normalized counts</text>
<text x="867.5" y="42.2" font-size="25" >P10 Control vs. <tspan font-style="italic">Rbpj</tspan><tspan dx="7.5" dy="-12.3" font-size="16">iPC</tspan></text>
<circle cx="1005.7" cy="352.1" r="6.2" fill="none" stroke="#000" stroke-width="2.9"/>
<text x="982.5" y="384.3" font-size="25" font-style="italic" >Rbpj</text>
<text x="1301" y="30.5" font-size="41" font-weight="bold" >b</text>
<circle cx="1392.3" cy="291.9" r="88.4" fill="#c9dcea"/>
<circle cx="1552.7" cy="291.6" r="205" fill="#fddcc3"/>
<clipPath id="cpb"><circle cx="1552.7" cy="291.6" r="205"/></clipPath>
<circle cx="1392.3" cy="291.9" r="88.4" fill="#d8c5b3" clip-path="url(#cpb)"/>
<circle cx="1552.7" cy="291.6" r="205" fill="none" stroke="#e8212a" stroke-width="2.9"/>
<circle cx="1392.3" cy="291.9" r="88.4" fill="none" stroke="#2e3192" stroke-width="2.9"/>
<text x="1556" y="78" font-size="25" text-anchor="middle" fill="#e8212a" >P10</text>
<text x="1301.5" y="221.5" font-size="25" fill="#2e3192" >P7</text>
<text x="1326.6" y="300.8" font-size="25" text-anchor="middle" >96</text>
<text x="1407" y="300.8" font-size="25" text-anchor="middle" >354</text>
<text x="1707.8" y="300.8" font-size="25" text-anchor="middle" >2197</text>
<text x="-1" y="685" font-size="41" font-weight="bold" >c</text>
<text x="504.5" y="707.3" font-size="25" text-anchor="end" >Biological processes</text>
<rect x="524.6" y="723.6" width="331.7" height="21.6" fill="#000"/>
<path d="M513.6 734.4L524.6 734.4" stroke="#000" stroke-width="2.9" />
<text x="505" y="743" font-size="25" text-anchor="end" >Vasculature development</text>
<rect x="524.6" y="752.9" width="323.9" height="21.6" fill="#000"/>
<path d="M513.6 763.7L524.6 763.7" stroke="#000" stroke-width="2.9" />
<text x="505" y="772.3" font-size="25" text-anchor="end" >Blood vessel morphogenesis</text>
<rect x="524.6" y="782.2" width="321.4" height="21.6" fill="#000"/>
<path d="M513.6 793L524.6 793" stroke="#000" stroke-width="2.9" />
<text x="505" y="801.6" font-size="25" text-anchor="end" >Blood vessel development</text>
<rect x="524.6" y="811.5" width="318.3" height="21.6" fill="#000"/>
<path d="M513.6 822.3L524.6 822.3" stroke="#000" stroke-width="2.9" />
<text x="505" y="830.9" font-size="25" text-anchor="end" >Cardiovascular system development</text>
<rect x="524.6" y="840.8" width="318.3" height="21.6" fill="#000"/>
<path d="M513.6 851.6L524.6 851.6" stroke="#000" stroke-width="2.9" />
<text x="505" y="860.2" font-size="25" text-anchor="end" >Circulatory system development</text>
<rect x="524.6" y="870.1" width="313.9" height="21.6" fill="#000"/>
<path d="M513.6 880.9L524.6 880.9" stroke="#000" stroke-width="2.9" />
<text x="505" y="889.5" font-size="25" text-anchor="end" >Response to stimulus</text>
<rect x="524.6" y="899.4" width="305.1" height="21.6" fill="#000"/>
<path d="M513.6 910.2L524.6 910.2" stroke="#000" stroke-width="2.9" />
<text x="505" y="918.8" font-size="25" text-anchor="end" >Multicellular organismal process</text>
<rect x="524.6" y="928.7" width="303.2" height="21.6" fill="#000"/>
<path d="M513.6 939.5L524.6 939.5" stroke="#000" stroke-width="2.9" />
<text x="505" y="948.1" font-size="25" text-anchor="end" >Signal transduction</text>
<rect x="524.6" y="958" width="287.3" height="21.6" fill="#000"/>
<path d="M513.6 968.8L524.6 968.8" stroke="#000" stroke-width="2.9" />
<text x="505" y="977.4" font-size="25" text-anchor="end" >Angiogenesis</text>
<rect x="524.6" y="987.3" width="284.4" height="21.6" fill="#000"/>
<path d="M513.6 998.1L524.6 998.1" stroke="#000" stroke-width="2.9" />
<text x="505" y="1006.7" font-size="25" text-anchor="end" >Single organism signaling</text>
<path d="M523.4 1017.1L903.9 1017.1" stroke="#000" stroke-width="2.9" />
<path d="M524.6 1017.1L524.6 1028.1" stroke="#000" stroke-width="2.9" />
<text x="524.6" y="1059.1" font-size="25" text-anchor="middle" >0</text>
<path d="M650.8 1017.1L650.8 1028.1" stroke="#000" stroke-width="2.9" />
<text x="650.8" y="1059.1" font-size="25" text-anchor="middle" >5</text>
<path d="M776.8 1017.1L776.8 1028.1" stroke="#000" stroke-width="2.9" />
<text x="776.8" y="1059.1" font-size="25" text-anchor="middle" >10</text>
<path d="M902.7 1017.1L902.7 1028.1" stroke="#000" stroke-width="2.9" />
<text x="902.7" y="1059.1" font-size="25" text-anchor="middle" >15</text>
<text x="713.5" y="1097.2" font-size="25" text-anchor="middle" >–log<tspan font-size="16" dy="6">10</tspan><tspan dy="-6"> </tspan><tspan font-style="italic">p</tspan>-value</text>
<text x="491.5" y="1158" font-size="25" text-anchor="end" >Cellular components</text>
<rect x="512.7" y="1178.6" width="338.3" height="24.1" fill="#000"/>
<path d="M501.7 1190.6L512.7 1190.6" stroke="#000" stroke-width="2.9" />
<text x="491.5" y="1199.2" font-size="25" text-anchor="end" >Extracellular space</text>
<rect x="512.7" y="1211.1" width="317" height="24.1" fill="#000"/>
<path d="M501.7 1223.1L512.7 1223.1" stroke="#000" stroke-width="2.9" />
<text x="491.5" y="1231.7" font-size="25" text-anchor="end" >Extracellular matrix</text>
<rect x="512.7" y="1243.6" width="240" height="24.1" fill="#000"/>
<path d="M501.7 1255.6L512.7 1255.6" stroke="#000" stroke-width="2.9" />
<text x="491.5" y="1264.2" font-size="25" text-anchor="end" >Extracellular region</text>
<rect x="512.7" y="1276.1" width="240" height="24.1" fill="#000"/>
<path d="M501.7 1288.1L512.7 1288.1" stroke="#000" stroke-width="2.9" />
<text x="491.5" y="1296.7" font-size="25" text-anchor="end" >Proteinaceous extracellular matrix</text>
<rect x="512.7" y="1308.6" width="231.5" height="24.1" fill="#000"/>
<path d="M501.7 1320.6L512.7 1320.6" stroke="#000" stroke-width="2.9" />
<text x="491.5" y="1329.2" font-size="25" text-anchor="end" >Cell surface</text>
<rect x="512.7" y="1341.1" width="202.4" height="24.1" fill="#000"/>
<path d="M501.7 1353.1L512.7 1353.1" stroke="#000" stroke-width="2.9" />
<text x="491.5" y="1361.7" font-size="25" text-anchor="end" >Extracellular region part</text>
<rect x="512.7" y="1373.6" width="157.9" height="24.1" fill="#000"/>
<path d="M501.7 1385.6L512.7 1385.6" stroke="#000" stroke-width="2.9" />
<text x="491.5" y="1394.2" font-size="25" text-anchor="end" >Cell periphery</text>
<rect x="512.7" y="1406.1" width="147.8" height="24.1" fill="#000"/>
<path d="M501.7 1418.1L512.7 1418.1" stroke="#000" stroke-width="2.9" />
<text x="491.5" y="1426.7" font-size="25" text-anchor="end" >Plasma membrane part</text>
<rect x="512.7" y="1438.6" width="147.8" height="24.1" fill="#000"/>
<path d="M501.7 1450.6L512.7 1450.6" stroke="#000" stroke-width="2.9" />
<text x="491.5" y="1459.2" font-size="25" text-anchor="end" >Plasma membrane</text>
<path d="M512.7 1169.2L512.7 1472.1" stroke="#000" stroke-width="2.9" />
<path d="M511.5 1472.1L892.3 1472.1" stroke="#000" stroke-width="2.9" />
<path d="M512.7 1472.1L512.7 1482.8" stroke="#000" stroke-width="2.9" />
<text x="512.7" y="1512.6" font-size="25" text-anchor="middle" >0</text>
<path d="M638.9 1472.1L638.9 1482.8" stroke="#000" stroke-width="2.9" />
<text x="638.9" y="1512.6" font-size="25" text-anchor="middle" >5</text>
<path d="M765.8 1472.1L765.8 1482.8" stroke="#000" stroke-width="2.9" />
<text x="765.8" y="1512.6" font-size="25" text-anchor="middle" >10</text>
<path d="M891.1 1472.1L891.1 1482.8" stroke="#000" stroke-width="2.9" />
<text x="891.1" y="1512.6" font-size="25" text-anchor="middle" >15</text>
<text x="702" y="1552.9" font-size="25" text-anchor="middle" >–log<tspan font-size="16" dy="6">10</tspan><tspan dy="-6"> </tspan><tspan font-style="italic">p</tspan>-value</text>
<text x="-1" y="1601.5" font-size="41" font-weight="bold" >d</text>
<rect x="104.6" y="1592" width="46.7" height="22" fill="#ff0000"/>
<text x="93.3" y="1608.4" font-size="20.5" text-anchor="end" >&gt;0.34</text>
<rect x="104.6" y="1613.7" width="46.7" height="22" fill="#ff1c08"/>
<text x="93.3" y="1630.1" font-size="20.5" text-anchor="end" >0.22</text>
<rect x="104.6" y="1635.4" width="46.7" height="22" fill="#ff3c00"/>
<text x="93.3" y="1651.8" font-size="20.5" text-anchor="end" >0.15</text>
<rect x="104.6" y="1657.1" width="46.7" height="22" fill="#ff5f00"/>
<text x="93.3" y="1673.5" font-size="20.5" text-anchor="end" >0.10</text>
<rect x="104.6" y="1678.8" width="46.7" height="22" fill="#ff8000"/>
<text x="93.3" y="1695.2" font-size="20.5" text-anchor="end" >0.06</text>
<rect x="104.6" y="1700.5" width="46.7" height="22" fill="#ff9d00"/>
<text x="93.3" y="1716.9" font-size="20.5" text-anchor="end" >0.02</text>
<rect x="104.6" y="1722.1" width="46.7" height="22" fill="#ffbb08"/>
<text x="93.3" y="1738.6" font-size="20.5" text-anchor="end" >–0.02</text>
<rect x="104.6" y="1743.8" width="46.7" height="22" fill="#ffdf00"/>
<text x="93.3" y="1760.3" font-size="20.5" text-anchor="end" >–0.06</text>
<rect x="104.6" y="1765.5" width="46.7" height="22" fill="#ffff00"/>
<text x="93.3" y="1782" font-size="20.5" text-anchor="end" >–0.10</text>
<rect x="104.6" y="1787.2" width="46.7" height="22" fill="#ffff4d"/>
<text x="93.3" y="1803.7" font-size="20.5" text-anchor="end" >–0.15</text>
<rect x="104.6" y="1808.9" width="46.7" height="22" fill="#ffffaa"/>
<text x="93.3" y="1825.3" font-size="20.5" text-anchor="end" >–0.22</text>
<rect x="104.6" y="1830.6" width="46.7" height="22" fill="#fffff0"/>
<text x="93.3" y="1847" font-size="20.5" text-anchor="end" >&lt;–0.34</text>
<rect x="152.6" y="1857.6" width="830.4" height="4.2" fill="#ffa01e"/>
<rect x="152.6" y="1861.4" width="111.5" height="30" fill="#ff3c00"/>
<path d="M153.2 1861.4v30M154.5 1861.4v30M161 1861.4v30M162.3 1861.4v30M163.6 1861.4v30M164.9 1861.4v30M166.2 1861.4v30M170.1 1861.4v30M171.4 1861.4v30M179.2 1861.4v30M189.6 1861.4v30M192.1 1861.4v30M193.4 1861.4v30M194.7 1861.4v30M196 1861.4v30M203.8 1861.4v30M205.1 1861.4v30M206.4 1861.4v30M207.7 1861.4v30M209 1861.4v30M210.3 1861.4v30M255.7 1861.4v30M257 1861.4v30M258.3 1861.4v30" stroke="#ff1c08" stroke-width="1.6" fill="none"/>
<path d="M223.3 1861.4v30M238.8 1861.4v30M262.2 1861.4v30M263.5 1861.4v30" stroke="#ff5f00" stroke-width="1.6" fill="none"/>
<rect x="152.6" y="1890.9" width="111.5" height="29.7" fill="#ffdf00"/>
<path d="M155.8 1890.9v29.7M166.2 1890.9v29.7M167.5 1890.9v29.7M174 1890.9v29.7M175.3 1890.9v29.7M181.8 1890.9v29.7M183.1 1890.9v29.7M185.7 1890.9v29.7M187 1890.9v29.7M188.3 1890.9v29.7M215.5 1890.9v29.7M216.8 1890.9v29.7M240.1 1890.9v29.7M241.4 1890.9v29.7M242.7 1890.9v29.7M244 1890.9v29.7M245.3 1890.9v29.7M251.8 1890.9v29.7M255.7 1890.9v29.7" stroke="#ffff00" stroke-width="1.6" fill="none"/>
<path d="M157.1 1890.9v29.7M158.4 1890.9v29.7M159.7 1890.9v29.7M161 1890.9v29.7" stroke="#ff9d00" stroke-width="1.6" fill="none"/>
<path d="M189.6 1890.9v29.7M190.8 1890.9v29.7M192.1 1890.9v29.7M193.4 1890.9v29.7M194.7 1890.9v29.7M196 1890.9v29.7M197.3 1890.9v29.7M198.6 1890.9v29.7M199.9 1890.9v29.7M203.8 1890.9v29.7M205.1 1890.9v29.7M206.4 1890.9v29.7M211.6 1890.9v29.7M212.9 1890.9v29.7M219.4 1890.9v29.7M220.7 1890.9v29.7M222 1890.9v29.7M223.3 1890.9v29.7M224.6 1890.9v29.7M225.9 1890.9v29.7M228.4 1890.9v29.7M231 1890.9v29.7M232.3 1890.9v29.7M234.9 1890.9v29.7M236.2 1890.9v29.7M237.5 1890.9v29.7M238.8 1890.9v29.7M257 1890.9v29.7M258.3 1890.9v29.7M259.6 1890.9v29.7M260.9 1890.9v29.7" stroke="#ffbb08" stroke-width="1.6" fill="none"/>
<rect x="152.6" y="1920.1" width="111.5" height="29.9" fill="#ff9d00"/>
<path d="M157.1 1920.1v29.9M158.4 1920.1v29.9M159.7 1920.1v29.9M161 1920.1v29.9M163.6 1920.1v29.9M177.9 1920.1v29.9M181.8 1920.1v29.9M183.1 1920.1v29.9M207.7 1920.1v29.9M209 1920.1v29.9M238.8 1920.1v29.9M240.1 1920.1v29.9M241.4 1920.1v29.9M242.7 1920.1v29.9M244 1920.1v29.9M245.3 1920.1v29.9M246.6 1920.1v29.9M254.4 1920.1v29.9M255.7 1920.1v29.9M258.3 1920.1v29.9M259.6 1920.1v29.9M260.9 1920.1v29.9M262.2 1920.1v29.9M263.5 1920.1v29.9" stroke="#ffbb08" stroke-width="1.6" fill="none"/>
<path d="M170.1 1920.1v29.9M185.7 1920.1v29.9M188.3 1920.1v29.9M196 1920.1v29.9M197.3 1920.1v29.9M214.2 1920.1v29.9M215.5 1920.1v29.9M216.8 1920.1v29.9M218.1 1920.1v29.9M220.7 1920.1v29.9M225.9 1920.1v29.9M228.4 1920.1v29.9M234.9 1920.1v29.9M236.2 1920.1v29.9" stroke="#ff8000" stroke-width="1.6" fill="none"/>
<path d="M190.8 1920.1v29.9M193.4 1920.1v29.9M194.7 1920.1v29.9M219.4 1920.1v29.9M222 1920.1v29.9M223.3 1920.1v29.9M224.6 1920.1v29.9" stroke="#ff5f00" stroke-width="1.6" fill="none"/>
<rect x="152.6" y="1949.5" width="111.5" height="29.3" fill="#ffff00"/>
<path d="M153.2 1949.5v29.3M157.1 1949.5v29.3M158.4 1949.5v29.3M159.7 1949.5v29.3M161 1949.5v29.3M162.3 1949.5v29.3M163.6 1949.5v29.3M164.9 1949.5v29.3M168.8 1949.5v29.3M170.1 1949.5v29.3M174 1949.5v29.3M175.3 1949.5v29.3M176.6 1949.5v29.3M188.3 1949.5v29.3M202.5 1949.5v29.3M203.8 1949.5v29.3M206.4 1949.5v29.3M207.7 1949.5v29.3M210.3 1949.5v29.3M211.6 1949.5v29.3M214.2 1949.5v29.3M216.8 1949.5v29.3M218.1 1949.5v29.3M219.4 1949.5v29.3M236.2 1949.5v29.3M237.5 1949.5v29.3M244 1949.5v29.3M245.3 1949.5v29.3M254.4 1949.5v29.3M255.7 1949.5v29.3M258.3 1949.5v29.3M262.2 1949.5v29.3" stroke="#ffdf00" stroke-width="1.6" fill="none"/>
<path d="M166.2 1949.5v29.3M199.9 1949.5v29.3M209 1949.5v29.3M212.9 1949.5v29.3M249.2 1949.5v29.3M250.5 1949.5v29.3M251.8 1949.5v29.3M253.1 1949.5v29.3M257 1949.5v29.3M260.9 1949.5v29.3" stroke="#ffbb08" stroke-width="1.6" fill="none"/>
<path d="M171.4 1949.5v29.3M189.6 1949.5v29.3M220.7 1949.5v29.3M224.6 1949.5v29.3M227.1 1949.5v29.3M228.4 1949.5v29.3M238.8 1949.5v29.3M263.5 1949.5v29.3" stroke="#ffff4d" stroke-width="1.6" fill="none"/>
<rect x="264.1" y="1861.4" width="35.1" height="30" fill="#ff1c08"/>
<path d="M264.8 1861.4v30M272.6 1861.4v30M273.9 1861.4v30M275.2 1861.4v30M276.4 1861.4v30M280.4 1861.4v30M284.2 1861.4v30" stroke="#ff0000" stroke-width="1.6" fill="none"/>
<rect x="264.1" y="1890.9" width="35.1" height="29.7" fill="#ffff00"/>
<path d="M267.4 1890.9v29.7M285.6 1890.9v29.7M286.9 1890.9v29.7M289.4 1890.9v29.7M298.6 1890.9v29.7" stroke="#ffffaa" stroke-width="1.6" fill="none"/>
<path d="M277.8 1890.9v29.7M279.1 1890.9v29.7M280.4 1890.9v29.7M281.6 1890.9v29.7M282.9 1890.9v29.7M290.8 1890.9v29.7M292.1 1890.9v29.7M293.4 1890.9v29.7M295.9 1890.9v29.7M297.2 1890.9v29.7" stroke="#ffff4d" stroke-width="1.6" fill="none"/>
<rect x="264.1" y="1920.1" width="35.1" height="29.9" fill="#ffbb08"/>
<path d="M266.1 1920.1v29.9M267.4 1920.1v29.9M275.2 1920.1v29.9M286.9 1920.1v29.9M294.6 1920.1v29.9" stroke="#ff9d00" stroke-width="1.6" fill="none"/>
<path d="M268.7 1920.1v29.9M276.4 1920.1v29.9M277.8 1920.1v29.9M282.9 1920.1v29.9M284.2 1920.1v29.9M285.6 1920.1v29.9" stroke="#ffdf00" stroke-width="1.6" fill="none"/>
<rect x="264.1" y="1949.5" width="35.1" height="29.3" fill="#ffffaa"/>
<path d="M264.8 1949.5v29.3M266.1 1949.5v29.3M286.9 1949.5v29.3M290.8 1949.5v29.3" stroke="#ffff4d" stroke-width="1.6" fill="none"/>
<path d="M267.4 1949.5v29.3M268.7 1949.5v29.3M270 1949.5v29.3M276.4 1949.5v29.3M277.8 1949.5v29.3M281.6 1949.5v29.3M282.9 1949.5v29.3M284.2 1949.5v29.3M285.6 1949.5v29.3M292.1 1949.5v29.3" stroke="#fffff0" stroke-width="1.6" fill="none"/>
<rect x="299.2" y="1861.4" width="137.2" height="30" fill="#ffff00"/>
<path d="M299.8 1861.4v30M306.3 1861.4v30M330.9 1861.4v30M364.6 1861.4v30M365.9 1861.4v30M367.2 1861.4v30M371 1861.4v30M372.3 1861.4v30M373.6 1861.4v30M384 1861.4v30M385.3 1861.4v30M396.9 1861.4v30" stroke="#ffff4d" stroke-width="1.6" fill="none"/>
<path d="M307.6 1861.4v30M315.4 1861.4v30M321.9 1861.4v30M323.1 1861.4v30M327 1861.4v30M328.3 1861.4v30M329.6 1861.4v30M332.2 1861.4v30M337.4 1861.4v30M343.9 1861.4v30M346.4 1861.4v30M349 1861.4v30M358.1 1861.4v30M374.9 1861.4v30M394.3 1861.4v30M395.6 1861.4v30M398.2 1861.4v30M399.5 1861.4v30M400.8 1861.4v30M412.5 1861.4v30M413.7 1861.4v30M415 1861.4v30M416.3 1861.4v30M417.6 1861.4v30M418.9 1861.4v30M420.2 1861.4v30M431.9 1861.4v30M434.5 1861.4v30" stroke="#ffdf00" stroke-width="1.6" fill="none"/>
<path d="M320.6 1861.4v30M350.3 1861.4v30M351.6 1861.4v30M393 1861.4v30M403.4 1861.4v30M404.7 1861.4v30M406 1861.4v30" stroke="#ffbb08" stroke-width="1.6" fill="none"/>
<rect x="299.2" y="1890.9" width="137.2" height="29.7" fill="#ff3c00"/>
<path d="M306.3 1890.9v29.7M307.6 1890.9v29.7M308.9 1890.9v29.7M310.2 1890.9v29.7M355.5 1890.9v29.7M363.3 1890.9v29.7M385.3 1890.9v29.7" stroke="#ff1c08" stroke-width="1.6" fill="none"/>
<path d="M311.5 1890.9v29.7M312.8 1890.9v29.7M314.1 1890.9v29.7M315.4 1890.9v29.7M316.7 1890.9v29.7M318 1890.9v29.7M319.3 1890.9v29.7M321.9 1890.9v29.7M323.1 1890.9v29.7M324.4 1890.9v29.7M332.2 1890.9v29.7M333.5 1890.9v29.7M340 1890.9v29.7M341.3 1890.9v29.7M342.6 1890.9v29.7M343.9 1890.9v29.7M356.8 1890.9v29.7M358.1 1890.9v29.7M386.6 1890.9v29.7M387.9 1890.9v29.7M390.5 1890.9v29.7M391.7 1890.9v29.7M393 1890.9v29.7M395.6 1890.9v29.7M402.1 1890.9v29.7M403.4 1890.9v29.7M404.7 1890.9v29.7M408.6 1890.9v29.7M411.2 1890.9v29.7M415 1890.9v29.7M416.3 1890.9v29.7M426.7 1890.9v29.7M431.9 1890.9v29.7" stroke="#ff5f00" stroke-width="1.6" fill="none"/>
<path d="M389.2 1890.9v29.7" stroke="#ff8000" stroke-width="1.6" fill="none"/>
<rect x="299.2" y="1920.1" width="137.2" height="29.9" fill="#ffdf00"/>
<path d="M299.8 1920.1v29.9M301.1 1920.1v29.9M302.4 1920.1v29.9M303.7 1920.1v29.9M305 1920.1v29.9M306.3 1920.1v29.9M307.6 1920.1v29.9M308.9 1920.1v29.9M312.8 1920.1v29.9M316.7 1920.1v29.9M318 1920.1v29.9M328.3 1920.1v29.9M333.5 1920.1v29.9M334.8 1920.1v29.9M340 1920.1v29.9M356.8 1920.1v29.9M358.1 1920.1v29.9M359.4 1920.1v29.9M377.5 1920.1v29.9M381.4 1920.1v29.9M382.7 1920.1v29.9M384 1920.1v29.9M393 1920.1v29.9M403.4 1920.1v29.9M424.1 1920.1v29.9M425.4 1920.1v29.9M426.7 1920.1v29.9" stroke="#ffff00" stroke-width="1.6" fill="none"/>
<path d="M310.2 1920.1v29.9M319.3 1920.1v29.9M320.6 1920.1v29.9M329.6 1920.1v29.9M330.9 1920.1v29.9M337.4 1920.1v29.9M347.7 1920.1v29.9M351.6 1920.1v29.9M352.9 1920.1v29.9M369.7 1920.1v29.9M371 1920.1v29.9M372.3 1920.1v29.9M389.2 1920.1v29.9M398.2 1920.1v29.9M399.5 1920.1v29.9M400.8 1920.1v29.9M402.1 1920.1v29.9M404.7 1920.1v29.9M406 1920.1v29.9M407.3 1920.1v29.9M408.6 1920.1v29.9M418.9 1920.1v29.9M430.6 1920.1v29.9M431.9 1920.1v29.9M433.2 1920.1v29.9M435.8 1920.1v29.9" stroke="#ffbb08" stroke-width="1.6" fill="none"/>
<path d="M338.7 1920.1v29.9M354.2 1920.1v29.9M355.5 1920.1v29.9" stroke="#ff9d00" stroke-width="1.6" fill="none"/>
<path d="M341.3 1920.1v29.9M342.6 1920.1v29.9M343.9 1920.1v29.9M345.1 1920.1v29.9M346.4 1920.1v29.9M360.7 1920.1v29.9M422.8 1920.1v29.9" stroke="#ffff4d" stroke-width="1.6" fill="none"/>
<rect x="299.2" y="1949.5" width="137.2" height="29.3" fill="#ff8000"/>
<path d="M301.1 1949.5v29.3M302.4 1949.5v29.3M303.7 1949.5v29.3M307.6 1949.5v29.3M316.7 1949.5v29.3M323.1 1949.5v29.3M325.7 1949.5v29.3M327 1949.5v29.3M328.3 1949.5v29.3M333.5 1949.5v29.3M341.3 1949.5v29.3M342.6 1949.5v29.3M351.6 1949.5v29.3M363.3 1949.5v29.3M371 1949.5v29.3M372.3 1949.5v29.3M374.9 1949.5v29.3M406 1949.5v29.3M407.3 1949.5v29.3M416.3 1949.5v29.3M418.9 1949.5v29.3M429.3 1949.5v29.3M434.5 1949.5v29.3" stroke="#ff5f00" stroke-width="1.6" fill="none"/>
<path d="M310.2 1949.5v29.3M311.5 1949.5v29.3M312.8 1949.5v29.3M315.4 1949.5v29.3M318 1949.5v29.3M320.6 1949.5v29.3M321.9 1949.5v29.3M343.9 1949.5v29.3M345.1 1949.5v29.3M359.4 1949.5v29.3M364.6 1949.5v29.3M373.6 1949.5v29.3M380.1 1949.5v29.3M381.4 1949.5v29.3M382.7 1949.5v29.3M384 1949.5v29.3M390.5 1949.5v29.3M391.7 1949.5v29.3M417.6 1949.5v29.3M431.9 1949.5v29.3M433.2 1949.5v29.3" stroke="#ff9d00" stroke-width="1.6" fill="none"/>
<path d="M314.1 1949.5v29.3M386.6 1949.5v29.3M387.9 1949.5v29.3M389.2 1949.5v29.3" stroke="#ffbb08" stroke-width="1.6" fill="none"/>
<path d="M338.7 1949.5v29.3M349 1949.5v29.3M350.3 1949.5v29.3M352.9 1949.5v29.3M354.2 1949.5v29.3M408.6 1949.5v29.3M409.9 1949.5v29.3M411.2 1949.5v29.3M412.5 1949.5v29.3M413.7 1949.5v29.3" stroke="#ff3c00" stroke-width="1.6" fill="none"/>
<rect x="436.4" y="1861.4" width="180.6" height="30" fill="#ff8000"/>
<path d="M437 1861.4v30M438.3 1861.4v30M440.9 1861.4v30M446.1 1861.4v30M459.1 1861.4v30M460.4 1861.4v30M461.7 1861.4v30M463 1861.4v30M464.3 1861.4v30M466.9 1861.4v30M474.7 1861.4v30M476 1861.4v30M481.2 1861.4v30M482.5 1861.4v30M509.8 1861.4v30M511.1 1861.4v30M512.4 1861.4v30M513.7 1861.4v30M516.3 1861.4v30M520.2 1861.4v30M521.5 1861.4v30M530.6 1861.4v30M542.3 1861.4v30M543.6 1861.4v30M544.9 1861.4v30M546.2 1861.4v30M547.5 1861.4v30M548.8 1861.4v30M550.1 1861.4v30M551.4 1861.4v30M552.7 1861.4v30M560.5 1861.4v30M561.8 1861.4v30M568.3 1861.4v30M569.6 1861.4v30M570.9 1861.4v30M572.2 1861.4v30M573.5 1861.4v30M574.8 1861.4v30M576.1 1861.4v30M577.4 1861.4v30M578.7 1861.4v30M580 1861.4v30M582.6 1861.4v30M583.9 1861.4v30M589.1 1861.4v30M590.4 1861.4v30M604.7 1861.4v30M606 1861.4v30" stroke="#ff5f00" stroke-width="1.6" fill="none"/>
<path d="M465.6 1861.4v30" stroke="#ff1c08" stroke-width="1.6" fill="none"/>
<path d="M468.2 1861.4v30M469.5 1861.4v30M470.8 1861.4v30M472.1 1861.4v30M473.4 1861.4v30M563.1 1861.4v30M564.4 1861.4v30M565.7 1861.4v30M567 1861.4v30M586.5 1861.4v30M587.8 1861.4v30" stroke="#ff3c00" stroke-width="1.6" fill="none"/>
<path d="M483.8 1861.4v30M485.1 1861.4v30M487.7 1861.4v30M489 1861.4v30M490.3 1861.4v30M593 1861.4v30M609.9 1861.4v30" stroke="#ff9d00" stroke-width="1.6" fill="none"/>
<rect x="436.4" y="1890.9" width="180.6" height="29.7" fill="#ff5f00"/>
<path d="M438.3 1890.9v29.7M442.2 1890.9v29.7M443.5 1890.9v29.7M444.8 1890.9v29.7M461.7 1890.9v29.7M464.3 1890.9v29.7M482.5 1890.9v29.7M487.7 1890.9v29.7M489 1890.9v29.7M490.3 1890.9v29.7M495.5 1890.9v29.7M511.1 1890.9v29.7M518.9 1890.9v29.7M520.2 1890.9v29.7M530.6 1890.9v29.7M541 1890.9v29.7M552.7 1890.9v29.7M591.7 1890.9v29.7M594.3 1890.9v29.7M612.5 1890.9v29.7" stroke="#ff8000" stroke-width="1.6" fill="none"/>
<path d="M451.3 1890.9v29.7M452.6 1890.9v29.7M465.6 1890.9v29.7M466.9 1890.9v29.7M492.9 1890.9v29.7M499.4 1890.9v29.7M529.3 1890.9v29.7M531.9 1890.9v29.7M533.2 1890.9v29.7M534.5 1890.9v29.7M538.4 1890.9v29.7M539.7 1890.9v29.7M550.1 1890.9v29.7M564.4 1890.9v29.7M565.7 1890.9v29.7M567 1890.9v29.7M568.3 1890.9v29.7M569.6 1890.9v29.7M570.9 1890.9v29.7M573.5 1890.9v29.7M581.3 1890.9v29.7M582.6 1890.9v29.7M586.5 1890.9v29.7M587.8 1890.9v29.7M589.1 1890.9v29.7M613.8 1890.9v29.7M615.1 1890.9v29.7M616.4 1890.9v29.7" stroke="#ff3c00" stroke-width="1.6" fill="none"/>
<rect x="436.4" y="1920.1" width="180.6" height="29.9" fill="#ffdf00"/>
<path d="M437 1920.1v29.9M446.1 1920.1v29.9M447.4 1920.1v29.9M448.7 1920.1v29.9M463 1920.1v29.9M465.6 1920.1v29.9M466.9 1920.1v29.9M468.2 1920.1v29.9M470.8 1920.1v29.9M472.1 1920.1v29.9M481.2 1920.1v29.9M482.5 1920.1v29.9M483.8 1920.1v29.9M492.9 1920.1v29.9M494.2 1920.1v29.9M495.5 1920.1v29.9M496.8 1920.1v29.9M498.1 1920.1v29.9M500.7 1920.1v29.9M502 1920.1v29.9M503.3 1920.1v29.9M504.6 1920.1v29.9M515 1920.1v29.9M517.6 1920.1v29.9M520.2 1920.1v29.9M521.5 1920.1v29.9M524.1 1920.1v29.9M535.8 1920.1v29.9M557.9 1920.1v29.9M559.2 1920.1v29.9M569.6 1920.1v29.9M574.8 1920.1v29.9M576.1 1920.1v29.9M577.4 1920.1v29.9M578.7 1920.1v29.9M580 1920.1v29.9M581.3 1920.1v29.9M583.9 1920.1v29.9M585.2 1920.1v29.9M586.5 1920.1v29.9M594.3 1920.1v29.9M595.6 1920.1v29.9M596.9 1920.1v29.9M598.2 1920.1v29.9M599.5 1920.1v29.9M600.8 1920.1v29.9M602.1 1920.1v29.9M606 1920.1v29.9M608.6 1920.1v29.9M611.2 1920.1v29.9M612.5 1920.1v29.9M613.8 1920.1v29.9M615.1 1920.1v29.9M616.4 1920.1v29.9" stroke="#ffff00" stroke-width="1.6" fill="none"/>
<path d="M440.9 1920.1v29.9M443.5 1920.1v29.9M460.4 1920.1v29.9M461.7 1920.1v29.9M582.6 1920.1v29.9M591.7 1920.1v29.9M593 1920.1v29.9" stroke="#ffff4d" stroke-width="1.6" fill="none"/>
<path d="M541 1920.1v29.9" stroke="#ffbb08" stroke-width="1.6" fill="none"/>
<rect x="436.4" y="1949.5" width="180.6" height="29.3" fill="#ffff00"/>
<path d="M437 1949.5v29.3M438.3 1949.5v29.3M439.6 1949.5v29.3M440.9 1949.5v29.3M442.2 1949.5v29.3M446.1 1949.5v29.3M447.4 1949.5v29.3M450 1949.5v29.3M453.9 1949.5v29.3M455.2 1949.5v29.3M465.6 1949.5v29.3M466.9 1949.5v29.3M468.2 1949.5v29.3M469.5 1949.5v29.3M474.7 1949.5v29.3M476 1949.5v29.3M479.9 1949.5v29.3M481.2 1949.5v29.3M482.5 1949.5v29.3M483.8 1949.5v29.3M485.1 1949.5v29.3M486.4 1949.5v29.3M487.7 1949.5v29.3M489 1949.5v29.3M521.5 1949.5v29.3M522.8 1949.5v29.3M526.7 1949.5v29.3M533.2 1949.5v29.3M535.8 1949.5v29.3M557.9 1949.5v29.3M559.2 1949.5v29.3M560.5 1949.5v29.3M561.8 1949.5v29.3M563.1 1949.5v29.3M564.4 1949.5v29.3M565.7 1949.5v29.3M581.3 1949.5v29.3M593 1949.5v29.3M594.3 1949.5v29.3M595.6 1949.5v29.3M600.8 1949.5v29.3M602.1 1949.5v29.3M603.4 1949.5v29.3M604.7 1949.5v29.3M609.9 1949.5v29.3M611.2 1949.5v29.3M612.5 1949.5v29.3M616.4 1949.5v29.3" stroke="#ffdf00" stroke-width="1.6" fill="none"/>
<path d="M448.7 1949.5v29.3M451.3 1949.5v29.3M452.6 1949.5v29.3M456.5 1949.5v29.3M457.8 1949.5v29.3M459.1 1949.5v29.3M460.4 1949.5v29.3M461.7 1949.5v29.3M492.9 1949.5v29.3M494.2 1949.5v29.3M495.5 1949.5v29.3M496.8 1949.5v29.3M498.1 1949.5v29.3M504.6 1949.5v29.3M505.9 1949.5v29.3M507.2 1949.5v29.3M508.5 1949.5v29.3M542.3 1949.5v29.3M543.6 1949.5v29.3M546.2 1949.5v29.3M547.5 1949.5v29.3M551.4 1949.5v29.3M552.7 1949.5v29.3M554 1949.5v29.3M568.3 1949.5v29.3M589.1 1949.5v29.3M598.2 1949.5v29.3M599.5 1949.5v29.3" stroke="#ffff4d" stroke-width="1.6" fill="none"/>
<path d="M499.4 1949.5v29.3M503.3 1949.5v29.3" stroke="#ffffaa" stroke-width="1.6" fill="none"/>
<rect x="617" y="1861.4" width="172.6" height="30" fill="#ffffaa"/>
<path d="M621.5 1861.4v30M631.9 1861.4v30M651.4 1861.4v30M652.7 1861.4v30M692.9 1861.4v30M694.2 1861.4v30M711.1 1861.4v30M712.4 1861.4v30M729.3 1861.4v30M731.9 1861.4v30M733.1 1861.4v30M735.7 1861.4v30M737 1861.4v30M738.3 1861.4v30M740.9 1861.4v30M772.1 1861.4v30M778.6 1861.4v30M779.9 1861.4v30" stroke="#fffff0" stroke-width="1.6" fill="none"/>
<path d="M630.6 1861.4v30M634.5 1861.4v30M637.1 1861.4v30M638.4 1861.4v30M639.7 1861.4v30M642.3 1861.4v30M643.6 1861.4v30M659.2 1861.4v30M665.7 1861.4v30M667 1861.4v30M668.3 1861.4v30M669.6 1861.4v30M670.9 1861.4v30M672.2 1861.4v30M673.5 1861.4v30M678.6 1861.4v30M679.9 1861.4v30M681.2 1861.4v30M685.1 1861.4v30M686.4 1861.4v30M687.7 1861.4v30M689 1861.4v30M695.5 1861.4v30M703.3 1861.4v30M713.7 1861.4v30M715 1861.4v30M716.3 1861.4v30M717.6 1861.4v30M718.9 1861.4v30M720.2 1861.4v30M721.5 1861.4v30M728 1861.4v30M734.4 1861.4v30M748.7 1861.4v30M750 1861.4v30M757.8 1861.4v30M774.7 1861.4v30M776 1861.4v30M781.2 1861.4v30M782.5 1861.4v30" stroke="#ffff4d" stroke-width="1.6" fill="none"/>
<path d="M635.8 1861.4v30M648.8 1861.4v30M650.1 1861.4v30M674.7 1861.4v30M676 1861.4v30M677.3 1861.4v30M699.4 1861.4v30M704.6 1861.4v30M773.4 1861.4v30" stroke="#ffff00" stroke-width="1.6" fill="none"/>
<path d="M644.9 1861.4v30M646.2 1861.4v30M647.5 1861.4v30" stroke="#ffdf00" stroke-width="1.6" fill="none"/>
<rect x="617" y="1890.9" width="172.6" height="29.7" fill="#ffffaa"/>
<path d="M617.6 1890.9v29.7M618.9 1890.9v29.7M625.4 1890.9v29.7M628 1890.9v29.7M651.4 1890.9v29.7M652.7 1890.9v29.7M654 1890.9v29.7M655.3 1890.9v29.7M656.6 1890.9v29.7M663.1 1890.9v29.7M679.9 1890.9v29.7M681.2 1890.9v29.7M689 1890.9v29.7M690.3 1890.9v29.7M691.6 1890.9v29.7M707.2 1890.9v29.7M708.5 1890.9v29.7M715 1890.9v29.7M716.3 1890.9v29.7M717.6 1890.9v29.7M733.1 1890.9v29.7M738.3 1890.9v29.7M739.6 1890.9v29.7M740.9 1890.9v29.7M768.2 1890.9v29.7M769.5 1890.9v29.7M770.8 1890.9v29.7M772.1 1890.9v29.7M773.4 1890.9v29.7M774.7 1890.9v29.7M787.7 1890.9v29.7M789 1890.9v29.7" stroke="#ffff00" stroke-width="1.6" fill="none"/>
<path d="M622.8 1890.9v29.7M624.1 1890.9v29.7M626.7 1890.9v29.7M641 1890.9v29.7M668.3 1890.9v29.7M669.6 1890.9v29.7M670.9 1890.9v29.7M673.5 1890.9v29.7M674.7 1890.9v29.7M676 1890.9v29.7M682.5 1890.9v29.7M685.1 1890.9v29.7M686.4 1890.9v29.7M687.7 1890.9v29.7M695.5 1890.9v29.7M696.8 1890.9v29.7M698.1 1890.9v29.7M699.4 1890.9v29.7M709.8 1890.9v29.7M711.1 1890.9v29.7M728 1890.9v29.7M730.6 1890.9v29.7M731.9 1890.9v29.7M734.4 1890.9v29.7M735.7 1890.9v29.7M746.1 1890.9v29.7M747.4 1890.9v29.7M748.7 1890.9v29.7M750 1890.9v29.7M751.3 1890.9v29.7M757.8 1890.9v29.7M759.1 1890.9v29.7M760.4 1890.9v29.7M761.7 1890.9v29.7M763 1890.9v29.7M764.3 1890.9v29.7M765.6 1890.9v29.7M766.9 1890.9v29.7" stroke="#ffff4d" stroke-width="1.6" fill="none"/>
<path d="M634.5 1890.9v29.7M635.8 1890.9v29.7M637.1 1890.9v29.7M638.4 1890.9v29.7M642.3 1890.9v29.7M643.6 1890.9v29.7M644.9 1890.9v29.7M646.2 1890.9v29.7M667 1890.9v29.7M678.6 1890.9v29.7M694.2 1890.9v29.7M700.7 1890.9v29.7M702 1890.9v29.7M703.3 1890.9v29.7M704.6 1890.9v29.7M705.9 1890.9v29.7M712.4 1890.9v29.7M737 1890.9v29.7M752.6 1890.9v29.7M778.6 1890.9v29.7" stroke="#fffff0" stroke-width="1.6" fill="none"/>
<path d="M664.4 1890.9v29.7M665.7 1890.9v29.7M677.3 1890.9v29.7M785.1 1890.9v29.7" stroke="#ffdf00" stroke-width="1.6" fill="none"/>
<rect x="617" y="1920.1" width="172.6" height="29.9" fill="#ff3c00"/>
<path d="M618.9 1920.1v29.9M622.8 1920.1v29.9M624.1 1920.1v29.9M638.4 1920.1v29.9M669.6 1920.1v29.9M670.9 1920.1v29.9M672.2 1920.1v29.9M682.5 1920.1v29.9M683.8 1920.1v29.9M689 1920.1v29.9M690.3 1920.1v29.9M691.6 1920.1v29.9M696.8 1920.1v29.9M698.1 1920.1v29.9M699.4 1920.1v29.9M700.7 1920.1v29.9M716.3 1920.1v29.9M720.2 1920.1v29.9M721.5 1920.1v29.9M730.6 1920.1v29.9M733.1 1920.1v29.9M734.4 1920.1v29.9M735.7 1920.1v29.9M737 1920.1v29.9M753.9 1920.1v29.9M755.2 1920.1v29.9M770.8 1920.1v29.9" stroke="#ff1c08" stroke-width="1.6" fill="none"/>
<path d="M633.2 1920.1v29.9M656.6 1920.1v29.9M657.9 1920.1v29.9M659.2 1920.1v29.9M679.9 1920.1v29.9M686.4 1920.1v29.9M687.7 1920.1v29.9M709.8 1920.1v29.9M728 1920.1v29.9M729.3 1920.1v29.9M731.9 1920.1v29.9M740.9 1920.1v29.9M742.2 1920.1v29.9M761.7 1920.1v29.9M763 1920.1v29.9M764.3 1920.1v29.9M782.5 1920.1v29.9M783.8 1920.1v29.9M785.1 1920.1v29.9M789 1920.1v29.9" stroke="#ff5f00" stroke-width="1.6" fill="none"/>
<rect x="617" y="1949.5" width="172.6" height="29.3" fill="#ff3c00"/>
<path d="M617.6 1949.5v29.3M637.1 1949.5v29.3M638.4 1949.5v29.3M639.7 1949.5v29.3M651.4 1949.5v29.3M652.7 1949.5v29.3M655.3 1949.5v29.3M656.6 1949.5v29.3M660.5 1949.5v29.3M661.8 1949.5v29.3M663.1 1949.5v29.3M664.4 1949.5v29.3M668.3 1949.5v29.3M669.6 1949.5v29.3M670.9 1949.5v29.3M673.5 1949.5v29.3M678.6 1949.5v29.3M679.9 1949.5v29.3M683.8 1949.5v29.3M685.1 1949.5v29.3M686.4 1949.5v29.3M687.7 1949.5v29.3M698.1 1949.5v29.3M699.4 1949.5v29.3M702 1949.5v29.3M703.3 1949.5v29.3M704.6 1949.5v29.3M721.5 1949.5v29.3M722.8 1949.5v29.3M724.1 1949.5v29.3M750 1949.5v29.3M757.8 1949.5v29.3M760.4 1949.5v29.3M761.7 1949.5v29.3M763 1949.5v29.3M764.3 1949.5v29.3M772.1 1949.5v29.3M773.4 1949.5v29.3M774.7 1949.5v29.3M787.7 1949.5v29.3M789 1949.5v29.3" stroke="#ff1c08" stroke-width="1.6" fill="none"/>
<path d="M642.3 1949.5v29.3M643.6 1949.5v29.3M711.1 1949.5v29.3M712.4 1949.5v29.3M715 1949.5v29.3M716.3 1949.5v29.3M717.6 1949.5v29.3M718.9 1949.5v29.3M720.2 1949.5v29.3M726.7 1949.5v29.3M729.3 1949.5v29.3M734.4 1949.5v29.3M735.7 1949.5v29.3M737 1949.5v29.3M748.7 1949.5v29.3M765.6 1949.5v29.3M766.9 1949.5v29.3M768.2 1949.5v29.3" stroke="#ff5f00" stroke-width="1.6" fill="none"/>
<path d="M657.9 1949.5v29.3M659.2 1949.5v29.3M700.7 1949.5v29.3M756.5 1949.5v29.3" stroke="#ff0000" stroke-width="1.6" fill="none"/>
<rect x="789.6" y="1861.4" width="193.4" height="30" fill="#ff9d00"/>
<path d="M794.1 1861.4v30M795.4 1861.4v30M796.7 1861.4v30M798 1861.4v30M801.9 1861.4v30M803.2 1861.4v30M808.4 1861.4v30M820.1 1861.4v30M859 1861.4v30M881.1 1861.4v30M882.4 1861.4v30M883.7 1861.4v30M895.4 1861.4v30M927.8 1861.4v30M962.9 1861.4v30M964.2 1861.4v30M965.5 1861.4v30M966.8 1861.4v30M968.1 1861.4v30M969.4 1861.4v30M982.4 1861.4v30" stroke="#ffbb08" stroke-width="1.6" fill="none"/>
<path d="M800.6 1861.4v30M804.5 1861.4v30M805.8 1861.4v30M807.1 1861.4v30M809.7 1861.4v30M811 1861.4v30M812.3 1861.4v30M829.2 1861.4v30M830.5 1861.4v30M831.8 1861.4v30M839.6 1861.4v30M840.9 1861.4v30M842.2 1861.4v30M847.4 1861.4v30M865.5 1861.4v30M866.8 1861.4v30M868.1 1861.4v30M870.7 1861.4v30M873.3 1861.4v30M901.9 1861.4v30M903.2 1861.4v30M914.9 1861.4v30M916.2 1861.4v30M917.5 1861.4v30M938.2 1861.4v30M943.4 1861.4v30M944.7 1861.4v30M947.3 1861.4v30M949.9 1861.4v30M951.2 1861.4v30M952.5 1861.4v30M953.8 1861.4v30M957.7 1861.4v30" stroke="#ff8000" stroke-width="1.6" fill="none"/>
<path d="M834.4 1861.4v30M835.7 1861.4v30M837 1861.4v30M838.3 1861.4v30M946 1861.4v30" stroke="#ff5f00" stroke-width="1.6" fill="none"/>
<path d="M892.8 1861.4v30M894.1 1861.4v30M977.2 1861.4v30" stroke="#ffdf00" stroke-width="1.6" fill="none"/>
<rect x="789.6" y="1890.9" width="193.4" height="29.7" fill="#ffbb08"/>
<path d="M790.2 1890.9v29.7M791.5 1890.9v29.7M792.8 1890.9v29.7M794.1 1890.9v29.7M803.2 1890.9v29.7M827.9 1890.9v29.7M835.7 1890.9v29.7M837 1890.9v29.7M838.3 1890.9v29.7M912.3 1890.9v29.7M913.6 1890.9v29.7M914.9 1890.9v29.7M929.1 1890.9v29.7M930.4 1890.9v29.7M931.7 1890.9v29.7M933 1890.9v29.7M934.3 1890.9v29.7M952.5 1890.9v29.7M965.5 1890.9v29.7" stroke="#ffff00" stroke-width="1.6" fill="none"/>
<path d="M800.6 1890.9v29.7M801.9 1890.9v29.7M804.5 1890.9v29.7M817.5 1890.9v29.7M818.8 1890.9v29.7M820.1 1890.9v29.7M831.8 1890.9v29.7M839.6 1890.9v29.7M848.7 1890.9v29.7M850 1890.9v29.7M851.3 1890.9v29.7M853.9 1890.9v29.7M857.7 1890.9v29.7M859 1890.9v29.7M860.3 1890.9v29.7M861.6 1890.9v29.7M862.9 1890.9v29.7M870.7 1890.9v29.7M872 1890.9v29.7M873.3 1890.9v29.7M874.6 1890.9v29.7M875.9 1890.9v29.7M877.2 1890.9v29.7M878.5 1890.9v29.7M882.4 1890.9v29.7M883.7 1890.9v29.7M890.2 1890.9v29.7M891.5 1890.9v29.7M896.7 1890.9v29.7M898 1890.9v29.7M899.3 1890.9v29.7M900.6 1890.9v29.7M901.9 1890.9v29.7M903.2 1890.9v29.7M904.5 1890.9v29.7M905.8 1890.9v29.7M907.1 1890.9v29.7M908.4 1890.9v29.7M909.7 1890.9v29.7M920 1890.9v29.7M921.3 1890.9v29.7M926.5 1890.9v29.7M927.8 1890.9v29.7M936.9 1890.9v29.7M939.5 1890.9v29.7M940.8 1890.9v29.7M947.3 1890.9v29.7M948.6 1890.9v29.7M953.8 1890.9v29.7M955.1 1890.9v29.7M956.4 1890.9v29.7M960.3 1890.9v29.7M961.6 1890.9v29.7M962.9 1890.9v29.7M964.2 1890.9v29.7M966.8 1890.9v29.7M975.9 1890.9v29.7M977.2 1890.9v29.7M978.5 1890.9v29.7M979.8 1890.9v29.7" stroke="#ffdf00" stroke-width="1.6" fill="none"/>
<path d="M824 1890.9v29.7M825.3 1890.9v29.7M833.1 1890.9v29.7M834.4 1890.9v29.7M894.1 1890.9v29.7M895.4 1890.9v29.7M968.1 1890.9v29.7M973.3 1890.9v29.7M974.6 1890.9v29.7" stroke="#ff9d00" stroke-width="1.6" fill="none"/>
<rect x="789.6" y="1920.1" width="193.4" height="29.9" fill="#ff8000"/>
<path d="M792.8 1920.1v29.9M794.1 1920.1v29.9M795.4 1920.1v29.9M812.3 1920.1v29.9M814.9 1920.1v29.9M830.5 1920.1v29.9M831.8 1920.1v29.9M833.1 1920.1v29.9M839.6 1920.1v29.9M851.3 1920.1v29.9M856.4 1920.1v29.9M859 1920.1v29.9M860.3 1920.1v29.9M861.6 1920.1v29.9M862.9 1920.1v29.9M866.8 1920.1v29.9M868.1 1920.1v29.9M874.6 1920.1v29.9M878.5 1920.1v29.9M879.8 1920.1v29.9M881.1 1920.1v29.9M882.4 1920.1v29.9M883.7 1920.1v29.9M885 1920.1v29.9M895.4 1920.1v29.9M903.2 1920.1v29.9M904.5 1920.1v29.9M907.1 1920.1v29.9M908.4 1920.1v29.9M909.7 1920.1v29.9M911 1920.1v29.9M917.5 1920.1v29.9M918.7 1920.1v29.9M920 1920.1v29.9M921.3 1920.1v29.9M922.6 1920.1v29.9M923.9 1920.1v29.9M925.2 1920.1v29.9M926.5 1920.1v29.9M961.6 1920.1v29.9M962.9 1920.1v29.9M964.2 1920.1v29.9M965.5 1920.1v29.9M966.8 1920.1v29.9M968.1 1920.1v29.9M969.4 1920.1v29.9M975.9 1920.1v29.9M977.2 1920.1v29.9M978.5 1920.1v29.9M979.8 1920.1v29.9M981.1 1920.1v29.9M982.4 1920.1v29.9" stroke="#ff9d00" stroke-width="1.6" fill="none"/>
<path d="M817.5 1920.1v29.9M834.4 1920.1v29.9M835.7 1920.1v29.9M886.3 1920.1v29.9M898 1920.1v29.9M899.3 1920.1v29.9M900.6 1920.1v29.9M955.1 1920.1v29.9M956.4 1920.1v29.9M959 1920.1v29.9M960.3 1920.1v29.9" stroke="#ff5f00" stroke-width="1.6" fill="none"/>
<path d="M872 1920.1v29.9M873.3 1920.1v29.9M905.8 1920.1v29.9" stroke="#ffbb08" stroke-width="1.6" fill="none"/>
<path d="M938.2 1920.1v29.9M939.5 1920.1v29.9M940.8 1920.1v29.9" stroke="#ff3c00" stroke-width="1.6" fill="none"/>
<rect x="789.6" y="1949.5" width="193.4" height="29.3" fill="#ff9d00"/>
<path d="M791.5 1949.5v29.3M801.9 1949.5v29.3M803.2 1949.5v29.3M808.4 1949.5v29.3M811 1949.5v29.3M812.3 1949.5v29.3M818.8 1949.5v29.3M821.4 1949.5v29.3M822.7 1949.5v29.3M830.5 1949.5v29.3M831.8 1949.5v29.3M833.1 1949.5v29.3M837 1949.5v29.3M838.3 1949.5v29.3M839.6 1949.5v29.3M840.9 1949.5v29.3M844.8 1949.5v29.3M847.4 1949.5v29.3M848.7 1949.5v29.3M857.7 1949.5v29.3M859 1949.5v29.3M866.8 1949.5v29.3M868.1 1949.5v29.3M883.7 1949.5v29.3M886.3 1949.5v29.3M888.9 1949.5v29.3M892.8 1949.5v29.3M895.4 1949.5v29.3M896.7 1949.5v29.3M898 1949.5v29.3M900.6 1949.5v29.3M913.6 1949.5v29.3M914.9 1949.5v29.3M916.2 1949.5v29.3M923.9 1949.5v29.3M929.1 1949.5v29.3M930.4 1949.5v29.3M931.7 1949.5v29.3M933 1949.5v29.3M934.3 1949.5v29.3M935.6 1949.5v29.3M936.9 1949.5v29.3M938.2 1949.5v29.3M939.5 1949.5v29.3M944.7 1949.5v29.3M959 1949.5v29.3M969.4 1949.5v29.3M970.7 1949.5v29.3M972 1949.5v29.3M974.6 1949.5v29.3M975.9 1949.5v29.3M977.2 1949.5v29.3" stroke="#ff8000" stroke-width="1.6" fill="none"/>
<path d="M798 1949.5v29.3M870.7 1949.5v29.3M872 1949.5v29.3M885 1949.5v29.3M943.4 1949.5v29.3M949.9 1949.5v29.3M953.8 1949.5v29.3M955.1 1949.5v29.3M968.1 1949.5v29.3" stroke="#ffbb08" stroke-width="1.6" fill="none"/>
<path d="M862.9 1949.5v29.3M864.2 1949.5v29.3M865.5 1949.5v29.3M891.5 1949.5v29.3M903.2 1949.5v29.3M904.5 1949.5v29.3M905.8 1949.5v29.3M907.1 1949.5v29.3M908.4 1949.5v29.3M909.7 1949.5v29.3M911 1949.5v29.3M912.3 1949.5v29.3" stroke="#ff5f00" stroke-width="1.6" fill="none"/>
<rect x="152.6" y="1859" width="283.8" height="117.2" fill="none" stroke="#ffe94a" stroke-width="2.4"/>
<rect x="152.6" y="1859" width="283.8" height="117.2" fill="none" stroke="#000" stroke-width="2.4" stroke-dasharray="6 2.2"/>
<path d="M152.6 1978L152.6 1984" stroke="#000" stroke-width="1.6" />
<path d="M264.1 1978L264.1 1982" stroke="#000" stroke-width="1.6" />
<path d="M299.2 1978L299.2 1984" stroke="#000" stroke-width="1.6" />
<path d="M436.4 1978L436.4 1984" stroke="#000" stroke-width="1.6" />
<path d="M617.2 1978L617.2 1984" stroke="#000" stroke-width="1.6" />
<path d="M789.5 1978L789.5 1984" stroke="#000" stroke-width="1.6" />
<path d="M982.5 1978L982.5 1984" stroke="#000" stroke-width="1.6" />
<text x="209.3" y="2007.8" font-size="25" text-anchor="middle" >1</text>
<text x="280.4" y="2007.8" font-size="25" text-anchor="middle" >6</text>
<text x="373.4" y="2007.8" font-size="25" text-anchor="middle" >2</text>
<text x="528" y="2007.8" font-size="25" text-anchor="middle" >3</text>
<text x="708.6" y="2007.8" font-size="25" text-anchor="middle" >4</text>
<text x="882" y="2007.8" font-size="25" text-anchor="middle" >5</text>
<path d="M345.9 1686.2V1601.3H794.5V1770.5" stroke="#000" stroke-width="2.9" fill="none" />
<path d="M245 1771.4V1686.2H447.4V1771.4" stroke="#000" stroke-width="2.9" fill="none" />
<path d="M208.6 1858.5V1771.4H281.6V1858.5" stroke="#000" stroke-width="2.9" fill="none" />
<path d="M367.8 1858.5V1771.4H527V1858.5" stroke="#000" stroke-width="2.9" fill="none" />
<path d="M703 1858.5V1770.5H886V1858.5" stroke="#000" stroke-width="2.9" fill="none" />
<text x="42.8" y="1897.2" font-size="25" text-anchor="end" >P10</text>
<text x="42.8" y="1962.4" font-size="25" text-anchor="end" >P7</text>
<path d="M55.8 1863.9L55.8 1914" stroke="#000" stroke-width="2.9" />
<path d="M55.8 1928L55.8 1978.8" stroke="#000" stroke-width="2.9" />
<text x="63.2" y="1882" font-size="25" ><tspan font-style="italic">Rbpj</tspan><tspan dx="6" dy="-11.5" font-size="15.5">iPC</tspan></text>
<text x="61.5" y="1913" font-size="25" >Control</text>
<text x="63.2" y="1945.4" font-size="25" ><tspan font-style="italic">Rbpj</tspan><tspan dx="6" dy="-11.5" font-size="15.5">iPC</tspan></text>
<text x="61.5" y="1976" font-size="25" >Control</text>
<text x="1044" y="685.5" font-size="41" font-weight="bold" >e</text>
<text transform="translate(1064.6 933.4) rotate(-90)" font-size="25">Relative expression</text>
<text transform="translate(1094.4 938.2) rotate(-90)" font-size="25">(Normalized to <tspan font-style="italic">Actb</tspan>)</text>
<path d="M1177.5 964.4V777.8H1214.5V964.4" fill="#e8e8e8" stroke="#000" stroke-width="2.9"/>
<path d="M1233.5 964.4V845.9H1270.5V964.4" fill="#ff2a00" stroke="#000" stroke-width="2.9"/>
<path d="M1289.6 964.4V777.8H1326.7V964.4" fill="#e8e8e8" stroke="#000" stroke-width="2.9"/>
<path d="M1345.6 964.4V954.1H1382.7V964.4" fill="#ff2a00" stroke="#000" stroke-width="2.9"/>
<path d="M1401.7 964.4V777.8H1438.8V964.4" fill="#e8e8e8" stroke="#000" stroke-width="2.9"/>
<path d="M1513.8 964.4V777.8H1550.9V964.4" fill="#e8e8e8" stroke="#000" stroke-width="2.9"/>
<path d="M1569.8 964.4V930H1606.9V964.4" fill="#ff2a00" stroke="#000" stroke-width="2.9"/>
<path d="M1625.9 964.4V777.8H1663V964.4" fill="#e8e8e8" stroke="#000" stroke-width="2.9"/>
<path d="M1681.9 964.4V958.5H1719V964.4" fill="#ff2a00" stroke="#000" stroke-width="2.9"/>
<path d="M1168.05 682.5V964.4H1728.6" stroke="#000" stroke-width="2.9" fill="none" />
<path d="M1161.5 683.9L1168 683.9" stroke="#000" stroke-width="2.9" />
<text x="1151" y="692.8" font-size="25" text-anchor="end" >1.5</text>
<path d="M1161.5 777.3L1168 777.3" stroke="#000" stroke-width="2.9" />
<text x="1151" y="786.2" font-size="25" text-anchor="end" >1.0</text>
<path d="M1161.5 870.6L1168 870.6" stroke="#000" stroke-width="2.9" />
<text x="1151" y="879.5" font-size="25" text-anchor="end" >0.5</text>
<circle cx="1184.3" cy="762.9" r="5.6" fill="#fff" stroke="#000" stroke-width="3.0"/>
<circle cx="1195.9" cy="768.6" r="5.6" fill="#fff" stroke="#000" stroke-width="3.0"/>
<circle cx="1207.8" cy="769.9" r="5.6" fill="#fff" stroke="#000" stroke-width="3.0"/>
<circle cx="1195.9" cy="803.9" r="5.6" fill="#fff" stroke="#000" stroke-width="3.0"/>
<path d="M1192.7 765.8H1199.1M1195.9 765.8V777" stroke="#000" stroke-width="2.9" fill="none" />
<circle cx="1240.3" cy="832.6" r="5.65" fill="#000"/>
<circle cx="1252.1" cy="832.6" r="5.65" fill="#000"/>
<circle cx="1263.6" cy="839.6" r="5.65" fill="#000"/>
<circle cx="1252.1" cy="872.7" r="5.65" fill="#000"/>
<path d="M1248.9 838H1255.3M1252.1 838V845" stroke="#000" stroke-width="2.9" fill="none" />
<circle cx="1299.4" cy="757.3" r="5.6" fill="#fff" stroke="#000" stroke-width="3.0"/>
<circle cx="1317.5" cy="757.3" r="5.6" fill="#fff" stroke="#000" stroke-width="3.0"/>
<circle cx="1308.2" cy="780.9" r="5.6" fill="#fff" stroke="#000" stroke-width="3.0"/>
<circle cx="1308.2" cy="808.4" r="5.6" fill="#fff" stroke="#000" stroke-width="3.0"/>
<path d="M1300.7 762.8H1315.7M1308.2 762.8V777" stroke="#000" stroke-width="2.9" fill="none" />
<circle cx="1352.1" cy="950.8" r="5.2" fill="#000"/>
<circle cx="1360.1" cy="952" r="5.2" fill="#000"/>
<circle cx="1368.4" cy="954.5" r="5.2" fill="#000"/>
<circle cx="1375.9" cy="955.8" r="5.2" fill="#000"/>
<circle cx="1408.5" cy="776.5" r="5.6" fill="#fff" stroke="#000" stroke-width="3.0"/>
<circle cx="1420.4" cy="765.9" r="5.6" fill="#fff" stroke="#000" stroke-width="3.0"/>
<circle cx="1420.4" cy="780.1" r="5.6" fill="#fff" stroke="#000" stroke-width="3.0"/>
<circle cx="1431.8" cy="788.4" r="5.6" fill="#fff" stroke="#000" stroke-width="3.0"/>
<path d="M1414 773H1430M1422 773V777.5" stroke="#000" stroke-width="2.9" fill="none" />
<circle cx="1464.3" cy="964.2" r="5.4" fill="#000"/>
<circle cx="1472.1" cy="964.2" r="5.4" fill="#000"/>
<circle cx="1480.2" cy="964.2" r="5.4" fill="#000"/>
<circle cx="1488.5" cy="964.2" r="5.4" fill="#000"/>
<circle cx="1523.2" cy="757.5" r="5.6" fill="#fff" stroke="#000" stroke-width="3.0"/>
<circle cx="1542.7" cy="765.4" r="5.6" fill="#fff" stroke="#000" stroke-width="3.0"/>
<circle cx="1532" cy="783.7" r="5.6" fill="#fff" stroke="#000" stroke-width="3.0"/>
<circle cx="1532" cy="801.5" r="5.6" fill="#fff" stroke="#000" stroke-width="3.0"/>
<path d="M1522.5 768.2H1541.5M1532 768.2V777.5" stroke="#000" stroke-width="2.9" fill="none" />
<circle cx="1579" cy="918.3" r="5.65" fill="#000"/>
<circle cx="1597.8" cy="922.1" r="5.65" fill="#000"/>
<circle cx="1579" cy="930.2" r="5.65" fill="#000"/>
<circle cx="1597.8" cy="944" r="5.65" fill="#000"/>
<path d="M1581.5 922.6H1595.5M1588.5 922.6V929" stroke="#000" stroke-width="2.9" fill="none" />
<circle cx="1644.5" cy="751.1" r="5.6" fill="#fff" stroke="#000" stroke-width="3.0"/>
<circle cx="1644.5" cy="773.5" r="5.6" fill="#fff" stroke="#000" stroke-width="3.0"/>
<circle cx="1635.3" cy="792" r="5.6" fill="#fff" stroke="#000" stroke-width="3.0"/>
<circle cx="1654.3" cy="792" r="5.6" fill="#fff" stroke="#000" stroke-width="3.0"/>
<path d="M1634.5 767.8H1654.5M1644.5 767.8V777.5" stroke="#000" stroke-width="2.9" fill="none" />
<circle cx="1688.7" cy="953" r="5.3" fill="#000"/>
<circle cx="1697" cy="955.4" r="5.3" fill="#000"/>
<circle cx="1704.9" cy="958.2" r="5.3" fill="#000"/>
<circle cx="1712.5" cy="960.6" r="5.3" fill="#000"/>
<path d="M1196.3 734.5V719.6H1252.1V795.4" stroke="#000" stroke-width="2.9" fill="none" stroke-linecap="round" stroke-linejoin="miter"/>
<path d="M1308.4 734.5V719.6H1364.2V915.9" stroke="#000" stroke-width="2.9" fill="none" stroke-linecap="round" stroke-linejoin="miter"/>
<path d="M1420.4 734.5V719.6H1476.4V916.2" stroke="#000" stroke-width="2.9" fill="none" stroke-linecap="round" stroke-linejoin="miter"/>
<path d="M1532 734.5V719.6H1588.6V882.2" stroke="#000" stroke-width="2.9" fill="none" stroke-linecap="round" stroke-linejoin="miter"/>
<path d="M1644.5 734.5V719.6H1700.6V916.2" stroke="#000" stroke-width="2.9" fill="none" stroke-linecap="round" stroke-linejoin="miter"/>
<text x="1175.7" y="702.7" font-size="20.5" ><tspan font-style="italic">p</tspan> = 0.0109</text>
<text x="1287.8" y="702.7" font-size="20.5" ><tspan font-style="italic">p</tspan> = 0.0031</text>
<text x="1400" y="702.7" font-size="20.5" ><tspan font-style="italic">p</tspan> = 0.0001</text>
<text x="1511.6" y="702.7" font-size="20.5" ><tspan font-style="italic">p</tspan> = 0.0002</text>
<text x="1623.7" y="702.7" font-size="20.5" ><tspan font-style="italic">p</tspan> = 0.0013</text>
<text x="1223.6" y="997.5" font-size="25" text-anchor="middle" font-style="italic" >Pdgfrb</text>
<text x="1334.4" y="997.5" font-size="25" text-anchor="middle" font-style="italic" >Anpep</text>
<text x="1448.8" y="997.5" font-size="25" text-anchor="middle" font-style="italic" >Rgs5</text>
<text x="1561.9" y="997.5" font-size="25" text-anchor="middle" font-style="italic" >Cspg4</text>
<text x="1672.6" y="997.5" font-size="25" text-anchor="middle" font-style="italic" >Notch3</text>
<rect x="1305.2" y="1023.7" width="23.7" height="23.4" fill="#e8e8e8" stroke="#000" stroke-width="2.9"/>
<text x="1342" y="1042.2" font-size="25" >Control</text>
<rect x="1451.5" y="1023.1" width="24.5" height="24.4" fill="#ed1c24" stroke="#000" stroke-width="2.9"/>
<text x="1489.2" y="1041.8" font-size="25" ><tspan font-style="italic">Rbpj</tspan><tspan dx="6.5" dy="-11.7" font-size="16">iPC</tspan></text>
<defs><linearGradient id="zg" x1="0" x2="1" y1="0" y2="0"><stop offset="0" stop-color="#0000ff"/><stop offset="0.06" stop-color="#1a20ff"/><stop offset="0.25" stop-color="#8088ff"/><stop offset="0.49" stop-color="#ffffff"/><stop offset="0.53" stop-color="#ffffff"/><stop offset="0.75" stop-color="#ff8080"/><stop offset="0.94" stop-color="#ff2020"/><stop offset="1" stop-color="#ff0000"/></linearGradient></defs>
<text x="1044" y="1087.5" font-size="41" font-weight="bold" >f</text>
<rect x="1048.7" y="1098.6" width="49.5" height="30.5" fill="#ffa8a8"/>
<rect x="1097.8" y="1098.6" width="49.5" height="30.5" fill="#ffcccc"/>
<rect x="1146.9" y="1098.6" width="49.5" height="30.5" fill="#ffe0e0"/>
<rect x="1196" y="1098.6" width="49.5" height="30.5" fill="#b8bfff"/>
<rect x="1245.1" y="1098.6" width="49.5" height="30.5" fill="#b2baff"/>
<rect x="1294.2" y="1098.6" width="49.5" height="30.5" fill="#9ca5ff"/>
<rect x="1343.3" y="1098.6" width="49.5" height="30.5" fill="#ffa8a8"/>
<rect x="1392.5" y="1098.6" width="49.5" height="30.5" fill="#ff2929"/>
<rect x="1441.6" y="1098.6" width="49.5" height="30.5" fill="#ff8f8f"/>
<rect x="1490.7" y="1098.6" width="98.6" height="30.5" fill="#919cff"/>
<rect x="1588.9" y="1098.6" width="49.5" height="30.5" fill="#99a3ff"/>
<text x="1650.4" y="1122.6" font-size="25" font-style="italic" >Rgs5</text>
<rect x="1048.7" y="1128.7" width="49.5" height="30.5" fill="#ffa3a3"/>
<rect x="1097.8" y="1128.7" width="49.5" height="30.5" fill="#ffeded"/>
<rect x="1146.9" y="1128.7" width="49.5" height="30.5" fill="#edefff"/>
<rect x="1196" y="1128.7" width="98.6" height="30.5" fill="#9ca5ff"/>
<rect x="1294.2" y="1128.7" width="49.5" height="30.5" fill="#b2baff"/>
<rect x="1343.3" y="1128.7" width="49.5" height="30.5" fill="#ffb2b2"/>
<rect x="1392.5" y="1128.7" width="49.5" height="30.5" fill="#ff2121"/>
<rect x="1441.6" y="1128.7" width="49.5" height="30.5" fill="#ff7d7d"/>
<rect x="1490.7" y="1128.7" width="49.5" height="30.5" fill="#d4d8ff"/>
<rect x="1539.8" y="1128.7" width="49.5" height="30.5" fill="#919cff"/>
<rect x="1588.9" y="1128.7" width="49.5" height="30.5" fill="#b2baff"/>
<text x="1650.4" y="1152.8" font-size="25" font-style="italic" >Pdgfrb</text>
<rect x="1048.7" y="1158.8" width="49.5" height="30.5" fill="#ffe0e0"/>
<rect x="1097.8" y="1158.8" width="49.5" height="30.5" fill="#edefff"/>
<rect x="1146.9" y="1158.8" width="98.6" height="30.5" fill="#d1d6ff"/>
<rect x="1245.1" y="1158.8" width="49.5" height="30.5" fill="#ffeded"/>
<rect x="1294.2" y="1158.8" width="49.5" height="30.5" fill="#fff7f7"/>
<rect x="1343.3" y="1158.8" width="49.5" height="30.5" fill="#ff8f8f"/>
<rect x="1392.5" y="1158.8" width="49.5" height="30.5" fill="#ff2929"/>
<rect x="1441.6" y="1158.8" width="49.5" height="30.5" fill="#ff7d7d"/>
<rect x="1490.7" y="1158.8" width="49.5" height="30.5" fill="#6675ff"/>
<rect x="1539.8" y="1158.8" width="49.5" height="30.5" fill="#7a88ff"/>
<rect x="1588.9" y="1158.8" width="49.5" height="30.5" fill="#99a3ff"/>
<text x="1650.4" y="1182.8" font-size="25" font-style="italic" >Vtn</text>
<rect x="1048.7" y="1188.9" width="49.5" height="30.5" fill="#ff8080"/>
<rect x="1097.8" y="1188.9" width="49.5" height="30.5" fill="#ffcccc"/>
<rect x="1146.9" y="1188.9" width="49.5" height="30.5" fill="#ffeded"/>
<rect x="1196" y="1188.9" width="49.5" height="30.5" fill="#b8bfff"/>
<rect x="1245.1" y="1188.9" width="49.5" height="30.5" fill="#a8b1ff"/>
<rect x="1294.2" y="1188.9" width="49.5" height="30.5" fill="#919cff"/>
<rect x="1343.3" y="1188.9" width="49.5" height="30.5" fill="#ff9999"/>
<rect x="1392.5" y="1188.9" width="49.5" height="30.5" fill="#ff3838"/>
<rect x="1441.6" y="1188.9" width="49.5" height="30.5" fill="#ffa8a8"/>
<rect x="1490.7" y="1188.9" width="49.5" height="30.5" fill="#9ca5ff"/>
<rect x="1539.8" y="1188.9" width="49.5" height="30.5" fill="#919cff"/>
<rect x="1588.9" y="1188.9" width="49.5" height="30.5" fill="#99a3ff"/>
<text x="1650.4" y="1212.9" font-size="25" font-style="italic" >Abcc9</text>
<rect x="1048.7" y="1219" width="49.5" height="30.5" fill="#ff7878"/>
<rect x="1097.8" y="1219" width="49.5" height="30.5" fill="#ffd9d9"/>
<rect x="1146.9" y="1219" width="49.5" height="30.5" fill="#ffcccc"/>
<rect x="1196" y="1219" width="49.5" height="30.5" fill="#b2baff"/>
<rect x="1245.1" y="1219" width="98.6" height="30.5" fill="#9ca5ff"/>
<rect x="1343.3" y="1219" width="49.5" height="30.5" fill="#ff8080"/>
<rect x="1392.5" y="1219" width="49.5" height="30.5" fill="#ff5959"/>
<rect x="1441.6" y="1219" width="49.5" height="30.5" fill="#ffa1a1"/>
<rect x="1490.7" y="1219" width="49.5" height="30.5" fill="#a3acff"/>
<rect x="1539.8" y="1219" width="49.5" height="30.5" fill="#8a95ff"/>
<rect x="1588.9" y="1219" width="49.5" height="30.5" fill="#919cff"/>
<text x="1650.4" y="1243" font-size="25" font-style="italic" >Notch3</text>
<rect x="1048.7" y="1249.1" width="49.5" height="30.5" fill="#ff8080"/>
<rect x="1097.8" y="1249.1" width="98.6" height="30.5" fill="#ffd9d9"/>
<rect x="1196" y="1249.1" width="49.5" height="30.5" fill="#ccd1ff"/>
<rect x="1245.1" y="1249.1" width="49.5" height="30.5" fill="#9ca5ff"/>
<rect x="1294.2" y="1249.1" width="49.5" height="30.5" fill="#8a95ff"/>
<rect x="1343.3" y="1249.1" width="98.6" height="30.5" fill="#ff7070"/>
<rect x="1441.6" y="1249.1" width="49.5" height="30.5" fill="#ffa1a1"/>
<rect x="1490.7" y="1249.1" width="49.5" height="30.5" fill="#b2baff"/>
<rect x="1539.8" y="1249.1" width="49.5" height="30.5" fill="#919cff"/>
<rect x="1588.9" y="1249.1" width="49.5" height="30.5" fill="#8a95ff"/>
<text x="1650.4" y="1273.1" font-size="25" font-style="italic" >Cspg4</text>
<rect x="1048.7" y="1279.2" width="49.5" height="30.5" fill="#ffa1a1"/>
<rect x="1097.8" y="1279.2" width="49.5" height="30.5" fill="#ffeded"/>
<rect x="1146.9" y="1279.2" width="49.5" height="30.5" fill="#fff7f7"/>
<rect x="1196" y="1279.2" width="49.5" height="30.5" fill="#b8bfff"/>
<rect x="1245.1" y="1279.2" width="98.6" height="30.5" fill="#9ca5ff"/>
<rect x="1343.3" y="1279.2" width="49.5" height="30.5" fill="#ff8f8f"/>
<rect x="1392.5" y="1279.2" width="49.5" height="30.5" fill="#ff3838"/>
<rect x="1441.6" y="1279.2" width="49.5" height="30.5" fill="#ff8080"/>
<rect x="1490.7" y="1279.2" width="49.5" height="30.5" fill="#b2baff"/>
<rect x="1539.8" y="1279.2" width="49.5" height="30.5" fill="#8a95ff"/>
<rect x="1588.9" y="1279.2" width="49.5" height="30.5" fill="#a3acff"/>
<text x="1650.4" y="1303.2" font-size="25" font-style="italic" >Sdc3</text>
<rect x="1048.7" y="1309.3" width="49.5" height="30.5" fill="#ffcccc"/>
<rect x="1097.8" y="1309.3" width="49.5" height="30.5" fill="#e6e8ff"/>
<rect x="1146.9" y="1309.3" width="147.7" height="30.5" fill="#edefff"/>
<rect x="1294.2" y="1309.3" width="49.5" height="30.5" fill="#c9cfff"/>
<rect x="1343.3" y="1309.3" width="49.5" height="30.5" fill="#ffa3a3"/>
<rect x="1392.5" y="1309.3" width="49.5" height="30.5" fill="#ff1919"/>
<rect x="1441.6" y="1309.3" width="49.5" height="30.5" fill="#ff8787"/>
<rect x="1490.7" y="1309.3" width="49.5" height="30.5" fill="#7a88ff"/>
<rect x="1539.8" y="1309.3" width="49.5" height="30.5" fill="#8a95ff"/>
<rect x="1588.9" y="1309.3" width="49.5" height="30.5" fill="#919cff"/>
<text x="1650.4" y="1333.3" font-size="25" font-style="italic" >Atp13a5</text>
<rect x="1048.7" y="1339.4" width="49.5" height="30.5" fill="#ffcccc"/>
<rect x="1097.8" y="1339.4" width="49.5" height="30.5" fill="#ffeded"/>
<rect x="1146.9" y="1339.4" width="49.5" height="30.5" fill="#fff7f7"/>
<rect x="1196" y="1339.4" width="98.6" height="30.5" fill="#b2baff"/>
<rect x="1294.2" y="1339.4" width="49.5" height="30.5" fill="#9ca5ff"/>
<rect x="1343.3" y="1339.4" width="49.5" height="30.5" fill="#ffb2b2"/>
<rect x="1392.5" y="1339.4" width="49.5" height="30.5" fill="#ff1919"/>
<rect x="1441.6" y="1339.4" width="49.5" height="30.5" fill="#ff7070"/>
<rect x="1490.7" y="1339.4" width="147.7" height="30.5" fill="#a3acff"/>
<text x="1650.4" y="1363.4" font-size="25" font-style="italic" >Kcnj8</text>
<rect x="1048.7" y="1369.5" width="49.5" height="30.5" fill="#ffbaba"/>
<rect x="1097.8" y="1369.5" width="49.5" height="30.5" fill="#ffe0e0"/>
<rect x="1146.9" y="1369.5" width="49.5" height="30.5" fill="#ffeded"/>
<rect x="1196" y="1369.5" width="49.5" height="30.5" fill="#dbdfff"/>
<rect x="1245.1" y="1369.5" width="49.5" height="30.5" fill="#c9cfff"/>
<rect x="1294.2" y="1369.5" width="49.5" height="30.5" fill="#919cff"/>
<rect x="1343.3" y="1369.5" width="49.5" height="30.5" fill="#ffb2b2"/>
<rect x="1392.5" y="1369.5" width="49.5" height="30.5" fill="#ff1919"/>
<rect x="1441.6" y="1369.5" width="49.5" height="30.5" fill="#ff9c9c"/>
<rect x="1490.7" y="1369.5" width="49.5" height="30.5" fill="#9ca5ff"/>
<rect x="1539.8" y="1369.5" width="49.5" height="30.5" fill="#808cff"/>
<rect x="1588.9" y="1369.5" width="49.5" height="30.5" fill="#9ca5ff"/>
<text x="1650.4" y="1393.5" font-size="25" font-style="italic" >Uchl1</text>
<rect x="1048.7" y="1399.6" width="49.5" height="30.5" fill="#ffbaba"/>
<rect x="1097.8" y="1399.6" width="49.5" height="30.5" fill="#ffe0e0"/>
<rect x="1146.9" y="1399.6" width="49.5" height="30.5" fill="#ff9c9c"/>
<rect x="1196" y="1399.6" width="49.5" height="30.5" fill="#8a95ff"/>
<rect x="1245.1" y="1399.6" width="49.5" height="30.5" fill="#b2baff"/>
<rect x="1294.2" y="1399.6" width="49.5" height="30.5" fill="#c7cdff"/>
<rect x="1343.3" y="1399.6" width="49.5" height="30.5" fill="#ff7070"/>
<rect x="1392.5" y="1399.6" width="49.5" height="30.5" fill="#ff9c9c"/>
<rect x="1441.6" y="1399.6" width="49.5" height="30.5" fill="#ff7070"/>
<rect x="1490.7" y="1399.6" width="49.5" height="30.5" fill="#7885ff"/>
<rect x="1539.8" y="1399.6" width="49.5" height="30.5" fill="#8a95ff"/>
<rect x="1588.9" y="1399.6" width="49.5" height="30.5" fill="#c7cdff"/>
<text x="1650.4" y="1423.6" font-size="25" font-style="italic" >Grm3</text>
<rect x="1048.7" y="1429.7" width="49.5" height="30.5" fill="#ffbdbd"/>
<rect x="1097.8" y="1429.7" width="49.5" height="30.5" fill="#ffeded"/>
<rect x="1146.9" y="1429.7" width="49.5" height="30.5" fill="#d9ddff"/>
<rect x="1196" y="1429.7" width="49.5" height="30.5" fill="#a3acff"/>
<rect x="1245.1" y="1429.7" width="49.5" height="30.5" fill="#8a95ff"/>
<rect x="1294.2" y="1429.7" width="49.5" height="30.5" fill="#9ca5ff"/>
<rect x="1343.3" y="1429.7" width="49.5" height="30.5" fill="#ffeded"/>
<rect x="1392.5" y="1429.7" width="49.5" height="30.5" fill="#ff0000"/>
<rect x="1441.6" y="1429.7" width="49.5" height="30.5" fill="#ff8585"/>
<rect x="1490.7" y="1429.7" width="49.5" height="30.5" fill="#f7f8ff"/>
<rect x="1539.8" y="1429.7" width="49.5" height="30.5" fill="#dbdfff"/>
<rect x="1588.9" y="1429.7" width="49.5" height="30.5" fill="#b2baff"/>
<text x="1650.4" y="1453.8" font-size="25" font-style="italic" >Plxdc2</text>
<rect x="1048.7" y="1459.8" width="49.5" height="30.5" fill="#ffd9d9"/>
<rect x="1097.8" y="1459.8" width="49.5" height="30.5" fill="#ffeded"/>
<rect x="1146.9" y="1459.8" width="49.5" height="30.5" fill="#fff7f7"/>
<rect x="1196" y="1459.8" width="49.5" height="30.5" fill="#a3acff"/>
<rect x="1245.1" y="1459.8" width="98.6" height="30.5" fill="#919cff"/>
<rect x="1343.3" y="1459.8" width="49.5" height="30.5" fill="#ffadad"/>
<rect x="1392.5" y="1459.8" width="49.5" height="30.5" fill="#ff2121"/>
<rect x="1441.6" y="1459.8" width="49.5" height="30.5" fill="#ff6969"/>
<rect x="1490.7" y="1459.8" width="49.5" height="30.5" fill="#b2baff"/>
<rect x="1539.8" y="1459.8" width="98.6" height="30.5" fill="#b8bfff"/>
<text x="1650.4" y="1483.8" font-size="25" font-style="italic" >Ntn1</text>
<rect x="1048.7" y="1489.9" width="49.5" height="30.5" fill="#ffd9d9"/>
<rect x="1097.8" y="1489.9" width="98.6" height="30.5" fill="#edefff"/>
<rect x="1196" y="1489.9" width="98.6" height="30.5" fill="#b2baff"/>
<rect x="1294.2" y="1489.9" width="49.5" height="30.5" fill="#a3acff"/>
<rect x="1343.3" y="1489.9" width="49.5" height="30.5" fill="#ff8f8f"/>
<rect x="1392.5" y="1489.9" width="49.5" height="30.5" fill="#ff1919"/>
<rect x="1441.6" y="1489.9" width="49.5" height="30.5" fill="#ff7878"/>
<rect x="1490.7" y="1489.9" width="147.7" height="30.5" fill="#b2baff"/>
<text x="1650.4" y="1513.9" font-size="25" font-style="italic" >Art3</text>
<rect x="1048.7" y="1520" width="49.5" height="30.5" fill="#ff3333"/>
<rect x="1097.8" y="1520" width="49.5" height="30.5" fill="#ff9c9c"/>
<rect x="1146.9" y="1520" width="49.5" height="30.5" fill="#f7f8ff"/>
<rect x="1196" y="1520" width="49.5" height="30.5" fill="#dbdfff"/>
<rect x="1245.1" y="1520" width="49.5" height="30.5" fill="#d4d8ff"/>
<rect x="1294.2" y="1520" width="49.5" height="30.5" fill="#b8bfff"/>
<rect x="1343.3" y="1520" width="49.5" height="30.5" fill="#ffcccc"/>
<rect x="1392.5" y="1520" width="49.5" height="30.5" fill="#ff8787"/>
<rect x="1441.6" y="1520" width="49.5" height="30.5" fill="#ffd1d1"/>
<rect x="1490.7" y="1520" width="49.5" height="30.5" fill="#b2baff"/>
<rect x="1539.8" y="1520" width="49.5" height="30.5" fill="#6171ff"/>
<rect x="1588.9" y="1520" width="49.5" height="30.5" fill="#8a95ff"/>
<text x="1650.4" y="1544" font-size="25" font-style="italic" >Anpep</text>
<rect x="1048.7" y="1550.1" width="147.7" height="30.5" fill="#ffe0e0"/>
<rect x="1196" y="1550.1" width="49.5" height="30.5" fill="#7a88ff"/>
<rect x="1245.1" y="1550.1" width="49.5" height="30.5" fill="#8c98ff"/>
<rect x="1294.2" y="1550.1" width="49.5" height="30.5" fill="#808cff"/>
<rect x="1343.3" y="1550.1" width="49.5" height="30.5" fill="#ffbdbd"/>
<rect x="1392.5" y="1550.1" width="49.5" height="30.5" fill="#ff0808"/>
<rect x="1441.6" y="1550.1" width="49.5" height="30.5" fill="#ffa3a3"/>
<rect x="1490.7" y="1550.1" width="49.5" height="30.5" fill="#edefff"/>
<rect x="1539.8" y="1550.1" width="49.5" height="30.5" fill="#b8bfff"/>
<rect x="1588.9" y="1550.1" width="49.5" height="30.5" fill="#fff7f7"/>
<text x="1650.4" y="1574.1" font-size="25" font-style="italic" >Slc16a12</text>
<rect x="1048.7" y="1580.2" width="49.5" height="30.5" fill="#ffe0e0"/>
<rect x="1097.8" y="1580.2" width="49.5" height="30.5" fill="#fff7f7"/>
<rect x="1146.9" y="1580.2" width="49.5" height="30.5" fill="#c7cdff"/>
<rect x="1196" y="1580.2" width="49.5" height="30.5" fill="#dbdfff"/>
<rect x="1245.1" y="1580.2" width="98.6" height="30.5" fill="#b2baff"/>
<rect x="1343.3" y="1580.2" width="49.5" height="30.5" fill="#ffe0e0"/>
<rect x="1392.5" y="1580.2" width="49.5" height="30.5" fill="#ff0000"/>
<rect x="1441.6" y="1580.2" width="49.5" height="30.5" fill="#ff4f4f"/>
<rect x="1490.7" y="1580.2" width="49.5" height="30.5" fill="#b8bfff"/>
<rect x="1539.8" y="1580.2" width="49.5" height="30.5" fill="#adb6ff"/>
<rect x="1588.9" y="1580.2" width="49.5" height="30.5" fill="#a3acff"/>
<text x="1650.4" y="1604.2" font-size="25" font-style="italic" >Aif1l</text>
<rect x="1048.7" y="1610.3" width="49.5" height="30.5" fill="#ff6969"/>
<rect x="1097.8" y="1610.3" width="49.5" height="30.5" fill="#ffadad"/>
<rect x="1146.9" y="1610.3" width="49.5" height="30.5" fill="#ffb8b8"/>
<rect x="1196" y="1610.3" width="49.5" height="30.5" fill="#dbdfff"/>
<rect x="1245.1" y="1610.3" width="49.5" height="30.5" fill="#bdc3ff"/>
<rect x="1294.2" y="1610.3" width="49.5" height="30.5" fill="#a8b1ff"/>
<rect x="1343.3" y="1610.3" width="49.5" height="30.5" fill="#ffb2b2"/>
<rect x="1392.5" y="1610.3" width="49.5" height="30.5" fill="#ff8787"/>
<rect x="1441.6" y="1610.3" width="49.5" height="30.5" fill="#ffb2b2"/>
<rect x="1490.7" y="1610.3" width="49.5" height="30.5" fill="#8a95ff"/>
<rect x="1539.8" y="1610.3" width="49.5" height="30.5" fill="#7885ff"/>
<rect x="1588.9" y="1610.3" width="49.5" height="30.5" fill="#808cff"/>
<text x="1650.4" y="1634.3" font-size="25" font-style="italic" >Plxdc1</text>
<rect x="1048.7" y="1640.4" width="49.5" height="30.5" fill="#ffd9d9"/>
<rect x="1097.8" y="1640.4" width="49.5" height="30.5" fill="#f7f8ff"/>
<rect x="1146.9" y="1640.4" width="49.5" height="30.5" fill="#dbdfff"/>
<rect x="1196" y="1640.4" width="49.5" height="30.5" fill="#8a95ff"/>
<rect x="1245.1" y="1640.4" width="49.5" height="30.5" fill="#7a88ff"/>
<rect x="1294.2" y="1640.4" width="49.5" height="30.5" fill="#8a95ff"/>
<rect x="1343.3" y="1640.4" width="49.5" height="30.5" fill="#ffc4c4"/>
<rect x="1392.5" y="1640.4" width="49.5" height="30.5" fill="#ff1919"/>
<rect x="1441.6" y="1640.4" width="49.5" height="30.5" fill="#ff8787"/>
<rect x="1490.7" y="1640.4" width="49.5" height="30.5" fill="#ffb8b8"/>
<rect x="1539.8" y="1640.4" width="49.5" height="30.5" fill="#dbdfff"/>
<rect x="1588.9" y="1640.4" width="49.5" height="30.5" fill="#d4d8ff"/>
<text x="1650.4" y="1664.4" font-size="25" font-style="italic" >Ifitm1</text>
<rect x="1048.7" y="1670.5" width="49.5" height="30.5" fill="#ffbaba"/>
<rect x="1097.8" y="1670.5" width="49.5" height="30.5" fill="#edefff"/>
<rect x="1146.9" y="1670.5" width="49.5" height="30.5" fill="#e6e8ff"/>
<rect x="1196" y="1670.5" width="49.5" height="30.5" fill="#b8bfff"/>
<rect x="1245.1" y="1670.5" width="49.5" height="30.5" fill="#b2baff"/>
<rect x="1294.2" y="1670.5" width="49.5" height="30.5" fill="#a3acff"/>
<rect x="1343.3" y="1670.5" width="49.5" height="30.5" fill="#ff1919"/>
<rect x="1392.5" y="1670.5" width="49.5" height="30.5" fill="#ff7070"/>
<rect x="1441.6" y="1670.5" width="49.5" height="30.5" fill="#ffbdbd"/>
<rect x="1490.7" y="1670.5" width="98.6" height="30.5" fill="#a3acff"/>
<rect x="1588.9" y="1670.5" width="49.5" height="30.5" fill="#b2baff"/>
<text x="1650.4" y="1694.5" font-size="25" font-style="italic" >Nodal</text>
<path d="M1197.3 1100.6L1197.3 1697.6" stroke="#000" stroke-width="2.6" />
<path d="M1343.2 1100.6L1343.2 1698.6" stroke="#000" stroke-width="5.4" />
<path d="M1490 1100.6L1490 1697.6" stroke="#000" stroke-width="2.6" />
<text x="1119.3" y="1728.6" font-size="25" text-anchor="middle" >P7</text>
<text x="1122.3" y="1758.8" font-size="25" text-anchor="middle" >Control</text>
<text x="1269.7" y="1728.6" font-size="25" text-anchor="middle" >P7</text>
<text x="1228.7" y="1758.8" font-size="25" ><tspan font-style="italic">Rbpj</tspan><tspan dx="5.5" dy="-11" font-size="16">iPC</tspan></text>
<text x="1413.4" y="1728.6" font-size="25" text-anchor="middle" >P10</text>
<text x="1416.6" y="1758.8" font-size="25" text-anchor="middle" >Control</text>
<text x="1563.9" y="1728.6" font-size="25" text-anchor="middle" >P10</text>
<text x="1522.9" y="1758.8" font-size="25" ><tspan font-style="italic">Rbpj</tspan><tspan dx="5.5" dy="-11" font-size="16">iPC</tspan></text>
<rect x="1643.8" y="1699.9" width="86.2" height="38.7" fill="url(#zg)" stroke="#3a3a3a" stroke-width="1.3"/>
<path d="M1651.3 1738.6L1651.3 1746.6" stroke="#8a8a8a" stroke-width="1.7" />
<path d="M1668.9 1738.6L1668.9 1746.6" stroke="#555" stroke-width="1.7" />
<path d="M1687 1738.6L1687 1746.6" stroke="#555" stroke-width="1.7" />
<path d="M1704.4 1738.6L1704.4 1746.6" stroke="#8a8a8a" stroke-width="1.7" />
<path d="M1722.3 1738.6L1722.3 1746.6" stroke="#555" stroke-width="1.7" />
<text x="1651" y="1766.1" font-size="20.8" text-anchor="middle" >–2</text>
<text x="1686.3" y="1766.1" font-size="20.8" text-anchor="middle" >0</text>
<text x="1721" y="1766.1" font-size="20.8" text-anchor="middle" >2</text>
<text x="1686.3" y="1787.7" font-size="20.8" text-anchor="middle" >Row z-score</text>
<text x="1044" y="1829" font-size="41" font-weight="bold" >g</text>
<rect x="1052.4" y="1842.3" width="49.6" height="30.5" fill="#adb6ff"/>
<rect x="1101.6" y="1842.3" width="49.6" height="30.5" fill="#b8bfff"/>
<rect x="1150.8" y="1842.3" width="49.6" height="30.5" fill="#adb6ff"/>
<rect x="1200" y="1842.3" width="49.6" height="30.5" fill="#dbdfff"/>
<rect x="1249.1" y="1842.3" width="98.8" height="30.5" fill="#edefff"/>
<rect x="1347.5" y="1842.3" width="49.6" height="30.5" fill="#c7cdff"/>
<rect x="1396.7" y="1842.3" width="49.6" height="30.5" fill="#b8bfff"/>
<rect x="1445.9" y="1842.3" width="49.6" height="30.5" fill="#bdc3ff"/>
<rect x="1495" y="1842.3" width="49.6" height="30.5" fill="#ff4747"/>
<rect x="1544.2" y="1842.3" width="49.6" height="30.5" fill="#ff4d4d"/>
<rect x="1593.4" y="1842.3" width="49.6" height="30.5" fill="#ff7878"/>
<text x="1650.4" y="1868" font-size="25" font-style="italic" >Vim</text>
<rect x="1052.4" y="1872.4" width="49.6" height="30.5" fill="#bdc3ff"/>
<rect x="1101.6" y="1872.4" width="49.6" height="30.5" fill="#c7cdff"/>
<rect x="1150.8" y="1872.4" width="49.6" height="30.5" fill="#adb6ff"/>
<rect x="1200" y="1872.4" width="49.6" height="30.5" fill="#e6e8ff"/>
<rect x="1249.1" y="1872.4" width="49.6" height="30.5" fill="#b8bfff"/>
<rect x="1298.3" y="1872.4" width="49.6" height="30.5" fill="#f7f8ff"/>
<rect x="1347.5" y="1872.4" width="49.6" height="30.5" fill="#c7cdff"/>
<rect x="1396.7" y="1872.4" width="49.6" height="30.5" fill="#dbdfff"/>
<rect x="1445.9" y="1872.4" width="49.6" height="30.5" fill="#bdc3ff"/>
<rect x="1495" y="1872.4" width="49.6" height="30.5" fill="#ff3838"/>
<rect x="1544.2" y="1872.4" width="49.6" height="30.5" fill="#ff7070"/>
<rect x="1593.4" y="1872.4" width="49.6" height="30.5" fill="#ff8787"/>
<text x="1650.4" y="1898.1" font-size="25" font-style="italic" >Acta2</text>
<rect x="1052.4" y="1902.5" width="49.6" height="30.5" fill="#bdc3ff"/>
<rect x="1101.6" y="1902.5" width="49.6" height="30.5" fill="#adb6ff"/>
<rect x="1150.8" y="1902.5" width="49.6" height="30.5" fill="#9ca5ff"/>
<rect x="1200" y="1902.5" width="49.6" height="30.5" fill="#e6e8ff"/>
<rect x="1249.1" y="1902.5" width="49.6" height="30.5" fill="#d9ddff"/>
<rect x="1298.3" y="1902.5" width="49.6" height="30.5" fill="#edefff"/>
<rect x="1347.5" y="1902.5" width="49.6" height="30.5" fill="#d1d6ff"/>
<rect x="1396.7" y="1902.5" width="49.6" height="30.5" fill="#f7f8ff"/>
<rect x="1445.9" y="1902.5" width="49.6" height="30.5" fill="#b2baff"/>
<rect x="1495" y="1902.5" width="49.6" height="30.5" fill="#ff4040"/>
<rect x="1544.2" y="1902.5" width="49.6" height="30.5" fill="#ff7070"/>
<rect x="1593.4" y="1902.5" width="49.6" height="30.5" fill="#ff7878"/>
<text x="1650.4" y="1928.2" font-size="25" font-style="italic" >Tpm1</text>
<rect x="1052.4" y="1932.6" width="49.6" height="30.5" fill="#919cff"/>
<rect x="1101.6" y="1932.6" width="49.6" height="30.5" fill="#adb6ff"/>
<rect x="1150.8" y="1932.6" width="49.6" height="30.5" fill="#9ca5ff"/>
<rect x="1200" y="1932.6" width="49.6" height="30.5" fill="#adb6ff"/>
<rect x="1249.1" y="1932.6" width="49.6" height="30.5" fill="#d1d6ff"/>
<rect x="1298.3" y="1932.6" width="49.6" height="30.5" fill="#dbdfff"/>
<rect x="1347.5" y="1932.6" width="49.6" height="30.5" fill="#edefff"/>
<rect x="1396.7" y="1932.6" width="49.6" height="30.5" fill="#fff7f7"/>
<rect x="1445.9" y="1932.6" width="49.6" height="30.5" fill="#ffeded"/>
<rect x="1495" y="1932.6" width="49.6" height="30.5" fill="#ff4f4f"/>
<rect x="1544.2" y="1932.6" width="49.6" height="30.5" fill="#ff7070"/>
<rect x="1593.4" y="1932.6" width="49.6" height="30.5" fill="#ff8787"/>
<text x="1650.4" y="1958.3" font-size="25" font-style="italic" >Csrp1</text>
<rect x="1052.4" y="1962.6" width="49.6" height="30.5" fill="#adb6ff"/>
<rect x="1101.6" y="1962.6" width="49.6" height="30.5" fill="#b5bcff"/>
<rect x="1150.8" y="1962.6" width="49.6" height="30.5" fill="#a8b1ff"/>
<rect x="1200" y="1962.6" width="49.6" height="30.5" fill="#edefff"/>
<rect x="1249.1" y="1962.6" width="49.6" height="30.5" fill="#dbdfff"/>
<rect x="1298.3" y="1962.6" width="49.6" height="30.5" fill="#ffeded"/>
<rect x="1347.5" y="1962.6" width="49.6" height="30.5" fill="#b8bfff"/>
<rect x="1396.7" y="1962.6" width="49.6" height="30.5" fill="#d1d6ff"/>
<rect x="1445.9" y="1962.6" width="49.6" height="30.5" fill="#b2baff"/>
<rect x="1495" y="1962.6" width="49.6" height="30.5" fill="#ff4747"/>
<rect x="1544.2" y="1962.6" width="49.6" height="30.5" fill="#ff6969"/>
<rect x="1593.4" y="1962.6" width="49.6" height="30.5" fill="#ff7878"/>
<text x="1650.4" y="1988.4" font-size="25" font-style="italic" >Tagln</text>
<rect x="1052.4" y="1992.7" width="49.6" height="30.5" fill="#dbdfff"/>
<rect x="1101.6" y="1992.7" width="49.6" height="30.5" fill="#ffeded"/>
<rect x="1150.8" y="1992.7" width="49.6" height="30.5" fill="#edefff"/>
<rect x="1200" y="1992.7" width="49.6" height="30.5" fill="#bdc3ff"/>
<rect x="1249.1" y="1992.7" width="49.6" height="30.5" fill="#adb6ff"/>
<rect x="1298.3" y="1992.7" width="49.6" height="30.5" fill="#ffd9d9"/>
<rect x="1347.5" y="1992.7" width="49.6" height="30.5" fill="#c2c8ff"/>
<rect x="1396.7" y="1992.7" width="49.6" height="30.5" fill="#6675ff"/>
<rect x="1445.9" y="1992.7" width="49.6" height="30.5" fill="#c2c8ff"/>
<rect x="1495" y="1992.7" width="49.6" height="30.5" fill="#ff4747"/>
<rect x="1544.2" y="1992.7" width="49.6" height="30.5" fill="#ff8787"/>
<rect x="1593.4" y="1992.7" width="49.6" height="30.5" fill="#ff7878"/>
<text x="1650.4" y="2018.5" font-size="25" font-style="italic" >Pdlim5</text>
<rect x="1052.4" y="2022.8" width="98.8" height="30.5" fill="#a3acff"/>
<rect x="1150.8" y="2022.8" width="49.6" height="30.5" fill="#9ca5ff"/>
<rect x="1200" y="2022.8" width="49.6" height="30.5" fill="#ffe0e0"/>
<rect x="1249.1" y="2022.8" width="98.8" height="30.5" fill="#ffd1d1"/>
<rect x="1347.5" y="2022.8" width="49.6" height="30.5" fill="#a8b1ff"/>
<rect x="1396.7" y="2022.8" width="49.6" height="30.5" fill="#b2baff"/>
<rect x="1445.9" y="2022.8" width="49.6" height="30.5" fill="#a8b1ff"/>
<rect x="1495" y="2022.8" width="49.6" height="30.5" fill="#ff7d7d"/>
<rect x="1544.2" y="2022.8" width="49.6" height="30.5" fill="#ff6161"/>
<rect x="1593.4" y="2022.8" width="49.6" height="30.5" fill="#ff8080"/>
<text x="1650.4" y="2048.6" font-size="25" font-style="italic" >Itga8</text>
<rect x="1052.4" y="2052.9" width="98.8" height="30.5" fill="#b2baff"/>
<rect x="1150.8" y="2052.9" width="49.6" height="30.5" fill="#a3acff"/>
<rect x="1200" y="2052.9" width="49.6" height="30.5" fill="#dbdfff"/>
<rect x="1249.1" y="2052.9" width="98.8" height="30.5" fill="#c7cdff"/>
<rect x="1347.5" y="2052.9" width="49.6" height="30.5" fill="#e6e8ff"/>
<rect x="1396.7" y="2052.9" width="49.6" height="30.5" fill="#ffeded"/>
<rect x="1445.9" y="2052.9" width="49.6" height="30.5" fill="#c7cdff"/>
<rect x="1495" y="2052.9" width="49.6" height="30.5" fill="#ff4040"/>
<rect x="1544.2" y="2052.9" width="49.6" height="30.5" fill="#ff6969"/>
<rect x="1593.4" y="2052.9" width="49.6" height="30.5" fill="#ff8f8f"/>
<text x="1650.4" y="2078.6" font-size="25" font-style="italic" >Tpm2</text>
<rect x="1052.4" y="2083" width="49.6" height="30.5" fill="#bdc3ff"/>
<rect x="1101.6" y="2083" width="49.6" height="30.5" fill="#c7cdff"/>
<rect x="1150.8" y="2083" width="49.6" height="30.5" fill="#bdc3ff"/>
<rect x="1200" y="2083" width="49.6" height="30.5" fill="#c7cdff"/>
<rect x="1249.1" y="2083" width="49.6" height="30.5" fill="#f7f8ff"/>
<rect x="1298.3" y="2083" width="49.6" height="30.5" fill="#dbdfff"/>
<rect x="1347.5" y="2083" width="49.6" height="30.5" fill="#b8bfff"/>
<rect x="1396.7" y="2083" width="49.6" height="30.5" fill="#e6e8ff"/>
<rect x="1445.9" y="2083" width="49.6" height="30.5" fill="#c7cdff"/>
<rect x="1495" y="2083" width="49.6" height="30.5" fill="#ff0808"/>
<rect x="1544.2" y="2083" width="98.8" height="30.5" fill="#ff9999"/>
<text x="1650.4" y="2108.7" font-size="25" font-style="italic" >Errfi1</text>
<rect x="1052.4" y="2113.1" width="49.6" height="30.5" fill="#c7cdff"/>
<rect x="1101.6" y="2113.1" width="49.6" height="30.5" fill="#bdc3ff"/>
<rect x="1150.8" y="2113.1" width="49.6" height="30.5" fill="#dbdfff"/>
<rect x="1200" y="2113.1" width="49.6" height="30.5" fill="#ffe0e0"/>
<rect x="1249.1" y="2113.1" width="49.6" height="30.5" fill="#edefff"/>
<rect x="1298.3" y="2113.1" width="49.6" height="30.5" fill="#ffcccc"/>
<rect x="1347.5" y="2113.1" width="49.6" height="30.5" fill="#b8bfff"/>
<rect x="1396.7" y="2113.1" width="49.6" height="30.5" fill="#919cff"/>
<rect x="1445.9" y="2113.1" width="49.6" height="30.5" fill="#8a95ff"/>
<rect x="1495" y="2113.1" width="49.6" height="30.5" fill="#ff8787"/>
<rect x="1544.2" y="2113.1" width="49.6" height="30.5" fill="#ff6b6b"/>
<rect x="1593.4" y="2113.1" width="49.6" height="30.5" fill="#ff6161"/>
<text x="1650.4" y="2138.8" font-size="25" font-style="italic" >Actn1</text>
<rect x="1052.4" y="2143.2" width="49.6" height="30.5" fill="#bdc3ff"/>
<rect x="1101.6" y="2143.2" width="49.6" height="30.5" fill="#adb6ff"/>
<rect x="1150.8" y="2143.2" width="49.6" height="30.5" fill="#a1aaff"/>
<rect x="1200" y="2143.2" width="49.6" height="30.5" fill="#b8bfff"/>
<rect x="1249.1" y="2143.2" width="49.6" height="30.5" fill="#c7cdff"/>
<rect x="1298.3" y="2143.2" width="49.6" height="30.5" fill="#d1d6ff"/>
<rect x="1347.5" y="2143.2" width="49.6" height="30.5" fill="#e6e8ff"/>
<rect x="1396.7" y="2143.2" width="49.6" height="30.5" fill="#edefff"/>
<rect x="1445.9" y="2143.2" width="49.6" height="30.5" fill="#fff7f7"/>
<rect x="1495" y="2143.2" width="49.6" height="30.5" fill="#ff3838"/>
<rect x="1544.2" y="2143.2" width="49.6" height="30.5" fill="#ff7878"/>
<rect x="1593.4" y="2143.2" width="49.6" height="30.5" fill="#ff8585"/>
<text x="1650.4" y="2168.9" font-size="25" font-style="italic" >Junb</text>
<rect x="1052.4" y="2173.2" width="49.6" height="30.5" fill="#adb6ff"/>
<rect x="1101.6" y="2173.2" width="49.6" height="30.5" fill="#d1d6ff"/>
<rect x="1150.8" y="2173.2" width="49.6" height="30.5" fill="#e6e8ff"/>
<rect x="1200" y="2173.2" width="49.6" height="30.5" fill="#d9ddff"/>
<rect x="1249.1" y="2173.2" width="49.6" height="30.5" fill="#b8bfff"/>
<rect x="1298.3" y="2173.2" width="49.6" height="30.5" fill="#e6e8ff"/>
<rect x="1347.5" y="2173.2" width="49.6" height="30.5" fill="#edefff"/>
<rect x="1396.7" y="2173.2" width="98.8" height="30.5" fill="#c7cdff"/>
<rect x="1495" y="2173.2" width="49.6" height="30.5" fill="#ff0000"/>
<rect x="1544.2" y="2173.2" width="49.6" height="30.5" fill="#ffa3a3"/>
<rect x="1593.4" y="2173.2" width="49.6" height="30.5" fill="#ffb8b8"/>
<text x="1650.4" y="2199" font-size="25" font-style="italic" >Lama5</text>
<rect x="1052.4" y="2203.3" width="49.6" height="30.5" fill="#a3acff"/>
<rect x="1101.6" y="2203.3" width="49.6" height="30.5" fill="#adb6ff"/>
<rect x="1150.8" y="2203.3" width="49.6" height="30.5" fill="#919cff"/>
<rect x="1200" y="2203.3" width="49.6" height="30.5" fill="#ffeded"/>
<rect x="1249.1" y="2203.3" width="49.6" height="30.5" fill="#ff6969"/>
<rect x="1298.3" y="2203.3" width="49.6" height="30.5" fill="#ffeded"/>
<rect x="1347.5" y="2203.3" width="49.6" height="30.5" fill="#adb6ff"/>
<rect x="1396.7" y="2203.3" width="49.6" height="30.5" fill="#b2baff"/>
<rect x="1445.9" y="2203.3" width="49.6" height="30.5" fill="#a3acff"/>
<rect x="1495" y="2203.3" width="98.8" height="30.5" fill="#ff7d7d"/>
<rect x="1593.4" y="2203.3" width="49.6" height="30.5" fill="#ffb5b5"/>
<text x="1650.4" y="2229.1" font-size="25" font-style="italic" >Adamts1</text>
<rect x="1052.4" y="2233.4" width="49.6" height="30.5" fill="#adb6ff"/>
<rect x="1101.6" y="2233.4" width="49.6" height="30.5" fill="#ffeded"/>
<rect x="1150.8" y="2233.4" width="49.6" height="30.5" fill="#c2c8ff"/>
<rect x="1200" y="2233.4" width="49.6" height="30.5" fill="#edefff"/>
<rect x="1249.1" y="2233.4" width="49.6" height="30.5" fill="#ffd9d9"/>
<rect x="1298.3" y="2233.4" width="49.6" height="30.5" fill="#ffcccc"/>
<rect x="1347.5" y="2233.4" width="49.6" height="30.5" fill="#e6e8ff"/>
<rect x="1396.7" y="2233.4" width="49.6" height="30.5" fill="#7a88ff"/>
<rect x="1445.9" y="2233.4" width="49.6" height="30.5" fill="#919cff"/>
<rect x="1495" y="2233.4" width="49.6" height="30.5" fill="#ff1919"/>
<rect x="1544.2" y="2233.4" width="49.6" height="30.5" fill="#ffcccc"/>
<rect x="1593.4" y="2233.4" width="49.6" height="30.5" fill="#ffbdbd"/>
<text x="1650.4" y="2259.1" font-size="25" font-style="italic" >Csrp2</text>
<rect x="1052.4" y="2263.5" width="49.6" height="30.5" fill="#a3acff"/>
<rect x="1101.6" y="2263.5" width="49.6" height="30.5" fill="#ff8c8c"/>
<rect x="1150.8" y="2263.5" width="49.6" height="30.5" fill="#d1d6ff"/>
<rect x="1200" y="2263.5" width="49.6" height="30.5" fill="#edefff"/>
<rect x="1249.1" y="2263.5" width="49.6" height="30.5" fill="#f7f8ff"/>
<rect x="1298.3" y="2263.5" width="49.6" height="30.5" fill="#ff8080"/>
<rect x="1347.5" y="2263.5" width="49.6" height="30.5" fill="#7381ff"/>
<rect x="1396.7" y="2263.5" width="49.6" height="30.5" fill="#b2baff"/>
<rect x="1445.9" y="2263.5" width="49.6" height="30.5" fill="#7a88ff"/>
<rect x="1495" y="2263.5" width="49.6" height="30.5" fill="#ffd9d9"/>
<rect x="1544.2" y="2263.5" width="49.6" height="30.5" fill="#ff8585"/>
<rect x="1593.4" y="2263.5" width="49.6" height="30.5" fill="#ff8787"/>
<text x="1650.4" y="2289.2" font-size="25" font-style="italic" >Cyr61</text>
<rect x="1052.4" y="2293.6" width="49.6" height="30.5" fill="#9ca5ff"/>
<rect x="1101.6" y="2293.6" width="49.6" height="30.5" fill="#b5bcff"/>
<rect x="1150.8" y="2293.6" width="49.6" height="30.5" fill="#919cff"/>
<rect x="1200" y="2293.6" width="49.6" height="30.5" fill="#e6e8ff"/>
<rect x="1249.1" y="2293.6" width="49.6" height="30.5" fill="#ffd9d9"/>
<rect x="1298.3" y="2293.6" width="49.6" height="30.5" fill="#ff7070"/>
<rect x="1347.5" y="2293.6" width="49.6" height="30.5" fill="#c2c8ff"/>
<rect x="1396.7" y="2293.6" width="49.6" height="30.5" fill="#a3acff"/>
<rect x="1445.9" y="2293.6" width="49.6" height="30.5" fill="#bdc3ff"/>
<rect x="1495" y="2293.6" width="49.6" height="30.5" fill="#ffa3a3"/>
<rect x="1544.2" y="2293.6" width="49.6" height="30.5" fill="#ff7d7d"/>
<rect x="1593.4" y="2293.6" width="49.6" height="30.5" fill="#ff8080"/>
<text x="1650.4" y="2319.3" font-size="25" font-style="italic" >Klf2</text>
<rect x="1052.4" y="2323.7" width="49.6" height="30.5" fill="#f7f8ff"/>
<rect x="1101.6" y="2323.7" width="49.6" height="30.5" fill="#d9ddff"/>
<rect x="1150.8" y="2323.7" width="49.6" height="30.5" fill="#919cff"/>
<rect x="1200" y="2323.7" width="49.6" height="30.5" fill="#ffcccc"/>
<rect x="1249.1" y="2323.7" width="49.6" height="30.5" fill="#d9ddff"/>
<rect x="1298.3" y="2323.7" width="49.6" height="30.5" fill="#ffadad"/>
<rect x="1347.5" y="2323.7" width="49.6" height="30.5" fill="#99a3ff"/>
<rect x="1396.7" y="2323.7" width="49.6" height="30.5" fill="#c7cdff"/>
<rect x="1445.9" y="2323.7" width="49.6" height="30.5" fill="#7381ff"/>
<rect x="1495" y="2323.7" width="49.6" height="30.5" fill="#ff4040"/>
<rect x="1544.2" y="2323.7" width="49.6" height="30.5" fill="#ff9999"/>
<rect x="1593.4" y="2323.7" width="49.6" height="30.5" fill="#ffb5b5"/>
<text x="1650.4" y="2349.4" font-size="25" font-style="italic" >Myom1</text>
<rect x="1052.4" y="2353.7" width="49.6" height="30.5" fill="#bdc3ff"/>
<rect x="1101.6" y="2353.7" width="49.6" height="30.5" fill="#adb6ff"/>
<rect x="1150.8" y="2353.7" width="49.6" height="30.5" fill="#b8bfff"/>
<rect x="1200" y="2353.7" width="49.6" height="30.5" fill="#d1d6ff"/>
<rect x="1249.1" y="2353.7" width="49.6" height="30.5" fill="#ffeded"/>
<rect x="1298.3" y="2353.7" width="49.6" height="30.5" fill="#f7f8ff"/>
<rect x="1347.5" y="2353.7" width="49.6" height="30.5" fill="#c7cdff"/>
<rect x="1396.7" y="2353.7" width="49.6" height="30.5" fill="#b2baff"/>
<rect x="1445.9" y="2353.7" width="49.6" height="30.5" fill="#c7cdff"/>
<rect x="1495" y="2353.7" width="49.6" height="30.5" fill="#ff1919"/>
<rect x="1544.2" y="2353.7" width="49.6" height="30.5" fill="#ff9999"/>
<rect x="1593.4" y="2353.7" width="49.6" height="30.5" fill="#ffa3a3"/>
<text x="1650.4" y="2379.5" font-size="25" font-style="italic" >Socs3</text>
<rect x="1052.4" y="2383.8" width="49.6" height="30.5" fill="#808cff"/>
<rect x="1101.6" y="2383.8" width="49.6" height="30.5" fill="#ffb5b5"/>
<rect x="1150.8" y="2383.8" width="49.6" height="30.5" fill="#f7f8ff"/>
<rect x="1200" y="2383.8" width="49.6" height="30.5" fill="#c7cdff"/>
<rect x="1249.1" y="2383.8" width="49.6" height="30.5" fill="#dbdfff"/>
<rect x="1298.3" y="2383.8" width="49.6" height="30.5" fill="#ff7878"/>
<rect x="1347.5" y="2383.8" width="49.6" height="30.5" fill="#808cff"/>
<rect x="1396.7" y="2383.8" width="49.6" height="30.5" fill="#919cff"/>
<rect x="1445.9" y="2383.8" width="49.6" height="30.5" fill="#adb6ff"/>
<rect x="1495" y="2383.8" width="49.6" height="30.5" fill="#ff8f8f"/>
<rect x="1544.2" y="2383.8" width="49.6" height="30.5" fill="#ffa3a3"/>
<rect x="1593.4" y="2383.8" width="49.6" height="30.5" fill="#ff7d7d"/>
<text x="1650.4" y="2409.6" font-size="25" font-style="italic" >Fos</text>
<rect x="1052.4" y="2413.9" width="49.6" height="30.5" fill="#d1d6ff"/>
<rect x="1101.6" y="2413.9" width="49.6" height="30.5" fill="#fff7f7"/>
<rect x="1150.8" y="2413.9" width="49.6" height="30.5" fill="#919cff"/>
<rect x="1200" y="2413.9" width="49.6" height="30.5" fill="#dbdfff"/>
<rect x="1249.1" y="2413.9" width="49.6" height="30.5" fill="#c7cdff"/>
<rect x="1298.3" y="2413.9" width="49.6" height="30.5" fill="#ff7878"/>
<rect x="1347.5" y="2413.9" width="49.6" height="30.5" fill="#c7cdff"/>
<rect x="1396.7" y="2413.9" width="49.6" height="30.5" fill="#bdc3ff"/>
<rect x="1445.9" y="2413.9" width="49.6" height="30.5" fill="#d1d6ff"/>
<rect x="1495" y="2413.9" width="49.6" height="30.5" fill="#ff1919"/>
<rect x="1544.2" y="2413.9" width="49.6" height="30.5" fill="#f7f8ff"/>
<rect x="1593.4" y="2413.9" width="49.6" height="30.5" fill="#ffd9d9"/>
<text x="1650.4" y="2439.7" font-size="25" font-style="italic" >Cnn1</text>
<path d="M1200.1 1844.3L1200.1 2441" stroke="#000" stroke-width="2.6" />
<path d="M1346.4 1844.3L1346.4 2442" stroke="#000" stroke-width="5.4" />
<path d="M1493.6 1844.3L1493.6 2441" stroke="#000" stroke-width="2.6" />
<text x="1119.5" y="2474.3" font-size="25" text-anchor="middle" >P7</text>
<text x="1122.5" y="2504.4" font-size="25" text-anchor="middle" >Control</text>
<text x="1270" y="2474.3" font-size="25" text-anchor="middle" >P7</text>
<text x="1229" y="2504.4" font-size="25" ><tspan font-style="italic">Rbpj</tspan><tspan dx="5.5" dy="-11" font-size="16">iPC</tspan></text>
<text x="1413.5" y="2474.3" font-size="25" text-anchor="middle" >P10</text>
<text x="1416.7" y="2504.4" font-size="25" text-anchor="middle" >Control</text>
<text x="1564" y="2474.3" font-size="25" text-anchor="middle" >P10</text>
<text x="1523" y="2504.4" font-size="25" ><tspan font-style="italic">Rbpj</tspan><tspan dx="5.5" dy="-11" font-size="16">iPC</tspan></text>
<rect x="1646.8" y="2447.9" width="85.9" height="37.9" fill="url(#zg)" stroke="#3a3a3a" stroke-width="1.3"/>
<path d="M1657.8 2485.8L1657.8 2493.8" stroke="#8a8a8a" stroke-width="1.7" />
<path d="M1673.5 2485.8L1673.5 2493.8" stroke="#555" stroke-width="1.7" />
<path d="M1689.9 2485.8L1689.9 2493.8" stroke="#555" stroke-width="1.7" />
<path d="M1705.8 2485.8L1705.8 2493.8" stroke="#8a8a8a" stroke-width="1.7" />
<path d="M1722.3 2485.8L1722.3 2493.8" stroke="#555" stroke-width="1.7" />
<text x="1651" y="2515" font-size="20.8" text-anchor="middle" >–2</text>
<text x="1688.1" y="2515" font-size="20.8" text-anchor="middle" >0</text>
<text x="1721" y="2515" font-size="20.8" text-anchor="middle" >2</text>
<text x="1686.3" y="2536.3" font-size="20.8" text-anchor="middle" >Row z-score</text>
<text x="258.5" y="2069" font-size="41" font-weight="bold" >h</text>
<text transform="translate(278.1 2306.5) rotate(-90)" font-size="25">Relative expression</text>
<text transform="translate(309.4 2311.3) rotate(-90)" font-size="25">(Normalized to <tspan font-style="italic">Actb</tspan>)</text>
<path d="M388.6 2327.4V2302.4H416.4V2327.4" fill="#e8e8e8" stroke="#000" stroke-width="2.9"/>
<path d="M430.2 2327.4V2203.5H457.7V2327.4" fill="#ff2a00" stroke="#000" stroke-width="2.9"/>
<path d="M478.6 2327.4V2302.4H506.2V2327.4" fill="#e8e8e8" stroke="#000" stroke-width="2.9"/>
<path d="M520 2327.4V2292.1H547.4V2327.4" fill="#ff2a00" stroke="#000" stroke-width="2.9"/>
<path d="M581.9 2327.4V2301.9H609.2V2327.4" fill="#bfbfbf" stroke="#000" stroke-width="2.9"/>
<path d="M623.6 2327.4V2181.4H650.9V2327.4" fill="#941100" stroke="#000" stroke-width="2.9"/>
<path d="M671.7 2327.4V2302.5H699.1V2327.4" fill="#bfbfbf" stroke="#000" stroke-width="2.9"/>
<path d="M712.8 2327.4V2143.3H740.6V2327.4" fill="#941100" stroke="#000" stroke-width="2.9"/>
<path d="M375.7 2067.3V2327.4H754.2" stroke="#000" stroke-width="2.9" fill="none" />
<path d="M368.9 2068.7L375.7 2068.7" stroke="#000" stroke-width="2.9" />
<text x="357" y="2077.3" font-size="25" text-anchor="end" >10</text>
<path d="M368.9 2120.9L375.7 2120.9" stroke="#000" stroke-width="2.9" />
<text x="357" y="2129.5" font-size="25" text-anchor="end" >8</text>
<path d="M368.9 2172.4L375.7 2172.4" stroke="#000" stroke-width="2.9" />
<text x="357" y="2181" font-size="25" text-anchor="end" >6</text>
<path d="M368.9 2224.1L375.7 2224.1" stroke="#000" stroke-width="2.9" />
<text x="357" y="2232.7" font-size="25" text-anchor="end" >4</text>
<path d="M368.9 2275.6L375.7 2275.6" stroke="#000" stroke-width="2.9" />
<text x="357" y="2284.2" font-size="25" text-anchor="end" >2</text>
<circle cx="396.8" cy="2295.8" r="6.6" fill="#fff" stroke="#000" stroke-width="3.0"/>
<circle cx="403.9" cy="2299.5" r="6.6" fill="#fff" stroke="#000" stroke-width="3.0"/>
<circle cx="407.7" cy="2304.1" r="6.6" fill="#fff" stroke="#000" stroke-width="3.0"/>
<path d="M402.2 2298.8H406.6M404.4 2298.8V2301.5" stroke="#000" stroke-width="2.2" fill="none" />
<circle cx="443.9" cy="2145.9" r="8.25" fill="#000"/>
<circle cx="438.9" cy="2192.8" r="8.25" fill="#000"/>
<circle cx="449.4" cy="2196.2" r="8.25" fill="#000"/>
<circle cx="443.8" cy="2270.6" r="8.25" fill="#000"/>
<path d="M439.1 2175.4H448.5M443.8 2175.4V2203" stroke="#000" stroke-width="2.9" fill="none" />
<circle cx="487" cy="2295.1" r="6.6" fill="#fff" stroke="#000" stroke-width="3.0"/>
<circle cx="493.6" cy="2300.7" r="6.6" fill="#fff" stroke="#000" stroke-width="3.0"/>
<circle cx="497.6" cy="2309.7" r="6.6" fill="#fff" stroke="#000" stroke-width="3.0"/>
<path d="M491.1 2298.5H496.1M493.6 2298.5V2301.5" stroke="#000" stroke-width="2.2" fill="none" />
<circle cx="528.3" cy="2275.6" r="8.25" fill="#000"/>
<circle cx="538.7" cy="2280.7" r="8.25" fill="#000"/>
<circle cx="528.3" cy="2297.7" r="8.25" fill="#000"/>
<circle cx="538.7" cy="2307.1" r="8.25" fill="#000"/>
<path d="M529.2 2281H538.2M533.7 2281V2292" stroke="#000" stroke-width="2.9" fill="none" />
<circle cx="590.2" cy="2291.7" r="6.6" fill="#fff" stroke="#000" stroke-width="3.0"/>
<circle cx="594.2" cy="2297.7" r="6.6" fill="#fff" stroke="#000" stroke-width="3.0"/>
<circle cx="597.5" cy="2308" r="6.6" fill="#fff" stroke="#000" stroke-width="3.0"/>
<circle cx="596.5" cy="2304.5" r="6.6" fill="#fff" stroke="#000" stroke-width="3.0"/>
<circle cx="631.7" cy="2140.7" r="8.25" fill="#000"/>
<circle cx="641.9" cy="2151.3" r="8.25" fill="#000"/>
<circle cx="636.9" cy="2191" r="8.25" fill="#000"/>
<circle cx="636.9" cy="2234.9" r="8.25" fill="#000"/>
<path d="M632.2 2157.9H641.6M636.9 2157.9V2181" stroke="#000" stroke-width="2.9" fill="none" />
<circle cx="679.8" cy="2295.1" r="6.6" fill="#fff" stroke="#000" stroke-width="3.0"/>
<circle cx="686.8" cy="2298.7" r="6.6" fill="#fff" stroke="#000" stroke-width="3.0"/>
<circle cx="690" cy="2309.7" r="6.6" fill="#fff" stroke="#000" stroke-width="3.0"/>
<path d="M683.3 2297.5H688.3M685.8 2297.5V2301.5" stroke="#000" stroke-width="2.2" fill="none" />
<circle cx="721.5" cy="2110.6" r="8.25" fill="#000"/>
<circle cx="731.5" cy="2130.7" r="8.25" fill="#000"/>
<circle cx="721.5" cy="2158.9" r="8.25" fill="#000"/>
<circle cx="731.5" cy="2166" r="8.25" fill="#000"/>
<path d="M721.8 2129.3H731.2M726.5 2129.3V2143" stroke="#000" stroke-width="2.9" fill="none" />
<path d="M402.4 2271.3V2116.2H443.9V2130.4" stroke="#000" stroke-width="2.9" fill="none" stroke-linecap="round"/>
<path d="M493.4 2271.3V2235.6H533.7V2243.1" stroke="#000" stroke-width="2.9" fill="none" stroke-linecap="round"/>
<path d="M594.6 2262.3V2107.2H636.3V2121.8" stroke="#000" stroke-width="2.9" fill="none" stroke-linecap="round"/>
<path d="M683.8 2262.3V2074.5H726.1V2089.3" stroke="#000" stroke-width="2.9" fill="none" stroke-linecap="round"/>
<text x="424.5" y="2106.8" font-size="20.5" text-anchor="middle" >n.s.</text>
<text x="514.3" y="2226.5" font-size="20.5" text-anchor="middle" >n.s.</text>
<text x="564.3" y="2097.6" font-size="20.5" ><tspan font-style="italic">p</tspan> = 0.0390</text>
<text x="657.6" y="2066.5" font-size="20.5" ><tspan font-style="italic">p</tspan> = 0.0029</text>
<text x="424.4" y="2358.8" font-size="25" text-anchor="middle" font-style="italic" >Acta2</text>
<text x="515.6" y="2358.8" font-size="25" text-anchor="middle" font-style="italic" >Tagln</text>
<text x="617.4" y="2358.8" font-size="25" text-anchor="middle" font-style="italic" >Acta2</text>
<text x="709.5" y="2358.8" font-size="25" text-anchor="middle" font-style="italic" >Tagln</text>
<rect x="339.3" y="2388.8" width="26.2" height="25.1" fill="#e8e8e8" stroke="#000" stroke-width="2.9"/>
<rect x="339.3" y="2424.2" width="26.2" height="25.2" fill="#bfbfbf" stroke="#000" stroke-width="2.9"/>
<rect x="555.5" y="2388.8" width="27" height="25.1" fill="#ff2a00" stroke="#000" stroke-width="2.9"/>
<rect x="555.5" y="2424.2" width="27" height="25.2" fill="#941100" stroke="#000" stroke-width="2.9"/>
<text x="376.6" y="2408.8" font-size="25" >Control P7</text>
<text x="376.6" y="2444.6" font-size="25" >Control P10</text>
<text x="595.2" y="2408.8" font-size="25" ><tspan font-style="italic">Rbpj</tspan><tspan dx="6.5" dy="-11.7" font-size="16">iPC</tspan><tspan dy="11.7" dx="6">P7</tspan></text>
<text x="595.2" y="2444.6" font-size="25" ><tspan font-style="italic">Rbpj</tspan><tspan dx="6.5" dy="-11.7" font-size="16">iPC</tspan><tspan dy="11.7" dx="6">P10</tspan></text>
</g></svg></body></html>
